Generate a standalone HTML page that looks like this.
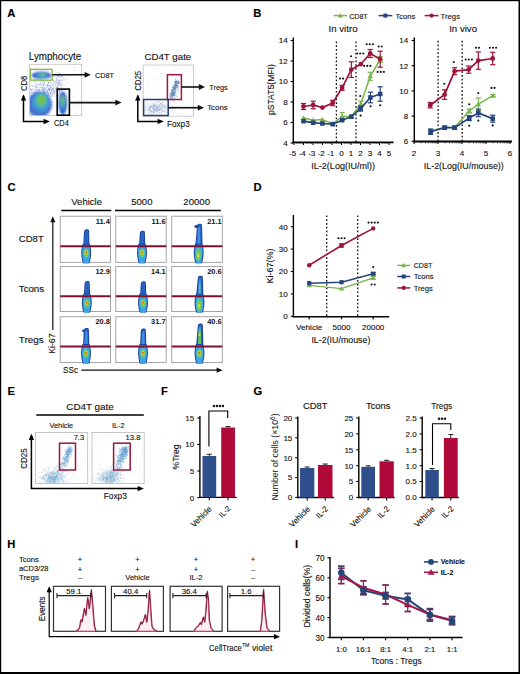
<!DOCTYPE html><html><head><meta charset="utf-8"><style>html,body{margin:0;padding:0;background:#fff;}body{width:520px;height:674px;overflow:hidden;font-family:"Liberation Sans",sans-serif;}svg{display:block;}</style></head><body><svg width="520" height="674" viewBox="0 0 520 674" font-family="Liberation Sans, sans-serif"><defs><filter id="blur1" x="-20%" y="-20%" width="140%" height="140%"><feGaussianBlur stdDeviation="0.35"/></filter><filter id="blur2" x="-30%" y="-30%" width="160%" height="160%"><feGaussianBlur stdDeviation="1.1"/></filter><filter id="blur4" x="-20%" y="-20%" width="140%" height="140%"><feGaussianBlur stdDeviation="0.5"/></filter><filter id="blur3" x="-50%" y="-20%" width="200%" height="140%"><feGaussianBlur stdDeviation="0.5"/></filter></defs><rect x="0.00" y="0.00" width="520.00" height="674.00" fill="#fff" stroke="none" stroke-width="1"/>
<text x="11.35" y="16.60" font-size="11.2" text-anchor="middle" font-weight="bold" fill="#000" stroke="#000" stroke-width="0.15">A</text>
<text x="257.40" y="16.60" font-size="11.2" text-anchor="middle" font-weight="bold" fill="#000" stroke="#000" stroke-width="0.15">B</text>
<text x="11.55" y="190.50" font-size="11.2" text-anchor="middle" font-weight="bold" fill="#000" stroke="#000" stroke-width="0.15">C</text>
<text x="257.50" y="190.50" font-size="11.2" text-anchor="middle" font-weight="bold" fill="#000" stroke="#000" stroke-width="0.15">D</text>
<text x="11.35" y="395.10" font-size="11.2" text-anchor="middle" font-weight="bold" fill="#000" stroke="#000" stroke-width="0.15">E</text>
<text x="164.45" y="395.10" font-size="11.2" text-anchor="middle" font-weight="bold" fill="#000" stroke="#000" stroke-width="0.15">F</text>
<text x="257.85" y="395.20" font-size="11.2" text-anchor="middle" font-weight="bold" fill="#000" stroke="#000" stroke-width="0.15">G</text>
<text x="11.35" y="547.80" font-size="11.2" text-anchor="middle" font-weight="bold" fill="#000" stroke="#000" stroke-width="0.15">H</text>
<text x="296.45" y="547.60" font-size="11.2" text-anchor="middle" font-weight="bold" fill="#000" stroke="#000" stroke-width="0.15">I</text>
<rect x="29.60" y="64.30" width="52.00" height="51.20" fill="#fff" stroke="#c0c0c0" stroke-width="0.8"/>
<clipPath id="cpA1"><rect x="29.9" y="64.6" width="51.4" height="50.6"/></clipPath>
<g clip-path="url(#cpA1)">
<g filter="url(#blur1)">
<path d="M41.7,94.1h0.9v0.9h-0.9zM53.3,92.0h0.9v0.9h-0.9zM46.7,89.6h0.9v0.9h-0.9zM40.9,89.1h0.9v0.9h-0.9zM43.0,83.5h0.9v0.9h-0.9zM49.5,85.1h0.9v0.9h-0.9zM57.0,94.6h0.9v0.9h-0.9zM58.3,95.0h0.9v0.9h-0.9zM46.9,95.2h0.9v0.9h-0.9zM31.6,88.9h0.9v0.9h-0.9zM36.9,95.1h0.9v0.9h-0.9zM49.2,90.0h0.9v0.9h-0.9zM33.9,92.0h0.9v0.9h-0.9zM39.0,89.2h0.9v0.9h-0.9zM42.7,91.5h0.9v0.9h-0.9zM45.2,95.6h0.9v0.9h-0.9zM57.3,82.5h0.9v0.9h-0.9zM47.6,93.3h0.9v0.9h-0.9zM56.8,87.9h0.9v0.9h-0.9zM38.7,91.9h0.9v0.9h-0.9zM52.3,85.5h0.9v0.9h-0.9zM50.5,87.8h0.9v0.9h-0.9zM56.0,95.3h0.9v0.9h-0.9zM35.8,89.3h0.9v0.9h-0.9zM36.3,83.3h0.9v0.9h-0.9zM46.9,84.4h0.9v0.9h-0.9zM33.3,79.2h0.9v0.9h-0.9zM48.1,93.0h0.9v0.9h-0.9zM43.0,91.3h0.9v0.9h-0.9zM48.0,82.3h0.9v0.9h-0.9zM48.5,91.4h0.9v0.9h-0.9zM42.7,95.8h0.9v0.9h-0.9zM51.0,90.2h0.9v0.9h-0.9zM34.5,85.0h0.9v0.9h-0.9zM53.8,82.9h0.9v0.9h-0.9zM34.5,81.4h0.9v0.9h-0.9zM43.4,83.9h0.9v0.9h-0.9zM30.5,91.6h0.9v0.9h-0.9zM42.7,89.5h0.9v0.9h-0.9zM34.0,89.1h0.9v0.9h-0.9zM37.2,92.0h0.9v0.9h-0.9zM42.0,90.2h0.9v0.9h-0.9zM59.0,90.1h0.9v0.9h-0.9zM37.8,95.7h0.9v0.9h-0.9zM56.3,80.3h0.9v0.9h-0.9zM43.4,92.5h0.9v0.9h-0.9zM39.8,84.4h0.9v0.9h-0.9zM39.3,91.4h0.9v0.9h-0.9zM34.6,95.0h0.9v0.9h-0.9zM31.3,89.8h0.9v0.9h-0.9zM60.8,85.6h0.9v0.9h-0.9zM43.9,89.9h0.9v0.9h-0.9zM57.4,85.4h0.9v0.9h-0.9zM39.3,84.6h0.9v0.9h-0.9zM32.2,88.4h0.9v0.9h-0.9zM51.6,83.9h0.9v0.9h-0.9zM30.5,90.1h0.9v0.9h-0.9zM37.9,89.8h0.9v0.9h-0.9zM45.8,92.0h0.9v0.9h-0.9zM43.9,88.0h0.9v0.9h-0.9zM48.4,88.9h0.9v0.9h-0.9zM45.8,88.8h0.9v0.9h-0.9zM40.2,95.4h0.9v0.9h-0.9zM55.0,84.3h0.9v0.9h-0.9zM49.1,87.8h0.9v0.9h-0.9zM55.2,92.1h0.9v0.9h-0.9zM34.2,81.8h0.9v0.9h-0.9zM43.6,84.7h0.9v0.9h-0.9zM63.7,76.6h0.9v0.9h-0.9zM58.9,90.3h0.9v0.9h-0.9zM57.3,79.4h0.9v0.9h-0.9zM57.5,84.4h0.9v0.9h-0.9zM62.1,76.1h0.9v0.9h-0.9zM59.9,83.0h0.9v0.9h-0.9zM57.0,85.9h0.9v0.9h-0.9z" fill="#4a62c0" opacity="0.45"/>
<path d="M42.0,87.5h0.9v0.9h-0.9zM47.6,91.5h0.9v0.9h-0.9zM48.7,84.9h0.9v0.9h-0.9zM49.7,92.0h0.9v0.9h-0.9zM48.5,89.5h0.9v0.9h-0.9zM39.9,79.9h0.9v0.9h-0.9zM47.2,84.1h0.9v0.9h-0.9zM48.7,94.4h0.9v0.9h-0.9zM38.0,86.7h0.9v0.9h-0.9zM42.7,87.6h0.9v0.9h-0.9zM47.1,91.1h0.9v0.9h-0.9zM50.9,94.5h0.9v0.9h-0.9zM47.6,91.9h0.9v0.9h-0.9zM42.0,89.5h0.9v0.9h-0.9zM51.2,91.1h0.9v0.9h-0.9zM46.0,95.1h0.9v0.9h-0.9zM44.0,80.9h0.9v0.9h-0.9zM57.5,81.8h0.9v0.9h-0.9zM46.9,85.1h0.9v0.9h-0.9zM60.1,90.4h0.9v0.9h-0.9zM35.9,83.8h0.9v0.9h-0.9zM46.6,86.3h0.9v0.9h-0.9zM41.3,86.2h0.9v0.9h-0.9zM43.7,88.4h0.9v0.9h-0.9zM49.6,93.8h0.9v0.9h-0.9zM31.4,84.7h0.9v0.9h-0.9zM36.2,92.1h0.9v0.9h-0.9zM49.7,91.7h0.9v0.9h-0.9zM44.0,91.4h0.9v0.9h-0.9zM35.6,95.9h0.9v0.9h-0.9zM57.4,95.7h0.9v0.9h-0.9zM55.2,88.3h0.9v0.9h-0.9zM51.7,94.3h0.9v0.9h-0.9zM37.9,94.5h0.9v0.9h-0.9zM44.3,92.0h0.9v0.9h-0.9zM43.3,90.0h0.9v0.9h-0.9zM50.3,92.8h0.9v0.9h-0.9zM41.7,87.5h0.9v0.9h-0.9zM50.6,92.4h0.9v0.9h-0.9zM39.6,90.8h0.9v0.9h-0.9zM48.6,88.8h0.9v0.9h-0.9zM54.5,90.2h0.9v0.9h-0.9zM46.4,86.6h0.9v0.9h-0.9zM56.0,89.9h0.9v0.9h-0.9zM54.6,86.3h0.9v0.9h-0.9zM48.2,88.1h0.9v0.9h-0.9zM35.6,87.2h0.9v0.9h-0.9zM45.4,93.3h0.9v0.9h-0.9zM38.2,95.1h0.9v0.9h-0.9zM48.1,85.8h0.9v0.9h-0.9zM45.3,88.8h0.9v0.9h-0.9zM50.7,89.0h0.9v0.9h-0.9zM34.8,79.1h0.9v0.9h-0.9zM48.8,94.4h0.9v0.9h-0.9zM39.1,93.7h0.9v0.9h-0.9zM44.6,96.0h0.9v0.9h-0.9zM37.9,93.0h0.9v0.9h-0.9zM51.6,88.7h0.9v0.9h-0.9zM52.4,93.0h0.9v0.9h-0.9zM39.5,83.3h0.9v0.9h-0.9zM50.0,88.8h0.9v0.9h-0.9zM44.3,87.7h0.9v0.9h-0.9zM56.0,87.1h0.9v0.9h-0.9zM45.9,89.4h0.9v0.9h-0.9zM37.7,85.6h0.9v0.9h-0.9zM43.6,93.3h0.9v0.9h-0.9zM41.7,86.5h0.9v0.9h-0.9zM61.6,83.6h0.9v0.9h-0.9zM59.6,91.8h0.9v0.9h-0.9zM60.4,74.4h0.9v0.9h-0.9zM60.2,77.2h0.9v0.9h-0.9zM58.6,74.8h0.9v0.9h-0.9zM60.7,85.6h0.9v0.9h-0.9zM59.3,79.9h0.9v0.9h-0.9zM55.9,78.2h0.9v0.9h-0.9z" fill="#4a62c0" opacity="0.45"/>
<path d="M35.6,88.3h0.9v0.9h-0.9zM48.6,94.0h0.9v0.9h-0.9zM46.8,93.2h0.9v0.9h-0.9zM40.0,82.3h0.9v0.9h-0.9zM57.0,92.9h0.9v0.9h-0.9zM35.3,85.8h0.9v0.9h-0.9zM53.9,91.3h0.9v0.9h-0.9zM52.6,94.2h0.9v0.9h-0.9zM53.4,90.2h0.9v0.9h-0.9zM56.6,81.8h0.9v0.9h-0.9zM45.4,94.6h0.9v0.9h-0.9zM40.2,87.0h0.9v0.9h-0.9zM40.1,95.2h0.9v0.9h-0.9zM53.1,80.7h0.9v0.9h-0.9zM53.4,87.6h0.9v0.9h-0.9zM49.5,82.3h0.9v0.9h-0.9zM52.9,88.6h0.9v0.9h-0.9zM57.1,88.6h0.9v0.9h-0.9zM32.9,89.9h0.9v0.9h-0.9zM42.2,79.9h0.9v0.9h-0.9zM30.2,89.1h0.9v0.9h-0.9zM51.0,96.0h0.9v0.9h-0.9zM35.7,95.5h0.9v0.9h-0.9zM34.9,87.1h0.9v0.9h-0.9zM59.2,93.4h0.9v0.9h-0.9zM46.6,91.5h0.9v0.9h-0.9zM43.5,94.2h0.9v0.9h-0.9zM44.4,83.4h0.9v0.9h-0.9zM42.8,79.9h0.9v0.9h-0.9zM40.6,79.0h0.9v0.9h-0.9zM43.8,94.8h0.9v0.9h-0.9zM52.8,90.1h0.9v0.9h-0.9zM45.9,90.4h0.9v0.9h-0.9zM49.1,89.6h0.9v0.9h-0.9zM49.7,95.6h0.9v0.9h-0.9zM32.9,89.8h0.9v0.9h-0.9zM43.2,84.6h0.9v0.9h-0.9zM48.1,94.9h0.9v0.9h-0.9zM37.5,79.2h0.9v0.9h-0.9zM48.7,86.7h0.9v0.9h-0.9zM48.6,81.4h0.9v0.9h-0.9zM36.7,92.1h0.9v0.9h-0.9zM56.7,84.4h0.9v0.9h-0.9zM43.6,92.5h0.9v0.9h-0.9zM43.5,87.5h0.9v0.9h-0.9zM35.9,91.3h0.9v0.9h-0.9zM46.7,94.1h0.9v0.9h-0.9zM41.9,92.9h0.9v0.9h-0.9zM50.7,92.5h0.9v0.9h-0.9zM43.1,96.0h0.9v0.9h-0.9zM57.9,92.5h0.9v0.9h-0.9zM48.0,92.9h0.9v0.9h-0.9zM33.0,92.7h0.9v0.9h-0.9zM34.9,80.6h0.9v0.9h-0.9zM42.9,89.3h0.9v0.9h-0.9zM57.6,86.9h0.9v0.9h-0.9zM44.3,92.1h0.9v0.9h-0.9zM46.8,84.8h0.9v0.9h-0.9zM59.0,80.1h0.9v0.9h-0.9zM38.3,95.1h0.9v0.9h-0.9zM48.2,82.3h0.9v0.9h-0.9zM47.2,90.6h0.9v0.9h-0.9zM41.1,95.9h0.9v0.9h-0.9zM38.8,94.0h0.9v0.9h-0.9zM44.7,86.8h0.9v0.9h-0.9zM52.7,95.4h0.9v0.9h-0.9zM48.1,84.4h0.9v0.9h-0.9zM63.1,78.5h0.9v0.9h-0.9zM53.9,74.0h0.9v0.9h-0.9zM58.6,75.8h0.9v0.9h-0.9zM55.6,87.6h0.9v0.9h-0.9zM60.8,76.1h0.9v0.9h-0.9zM58.2,75.7h0.9v0.9h-0.9zM58.5,83.0h0.9v0.9h-0.9zM59.3,91.1h0.9v0.9h-0.9z" fill="#4a62c0" opacity="0.45"/>
<path d="M54.0,93.4h0.9v0.9h-0.9zM36.0,86.3h0.9v0.9h-0.9zM38.4,84.1h0.9v0.9h-0.9zM36.7,92.0h0.9v0.9h-0.9zM45.1,79.6h0.9v0.9h-0.9zM30.9,91.9h0.9v0.9h-0.9zM46.2,93.5h0.9v0.9h-0.9zM49.0,88.8h0.9v0.9h-0.9zM57.2,86.4h0.9v0.9h-0.9zM55.3,79.9h0.9v0.9h-0.9zM42.4,92.2h0.9v0.9h-0.9zM41.0,93.1h0.9v0.9h-0.9zM46.5,85.8h0.9v0.9h-0.9zM40.9,95.0h0.9v0.9h-0.9zM52.2,87.9h0.9v0.9h-0.9zM55.4,96.0h0.9v0.9h-0.9zM43.1,85.2h0.9v0.9h-0.9zM45.0,91.0h0.9v0.9h-0.9zM42.3,89.8h0.9v0.9h-0.9zM45.5,80.6h0.9v0.9h-0.9zM33.4,92.9h0.9v0.9h-0.9zM50.0,92.6h0.9v0.9h-0.9zM61.0,89.0h0.9v0.9h-0.9zM52.0,90.8h0.9v0.9h-0.9zM43.4,94.2h0.9v0.9h-0.9zM40.4,82.2h0.9v0.9h-0.9zM37.5,89.0h0.9v0.9h-0.9zM38.4,90.0h0.9v0.9h-0.9zM47.9,88.5h0.9v0.9h-0.9zM37.1,94.2h0.9v0.9h-0.9zM53.2,81.3h0.9v0.9h-0.9zM33.5,91.5h0.9v0.9h-0.9zM41.8,95.5h0.9v0.9h-0.9zM60.5,94.1h0.9v0.9h-0.9zM32.2,86.0h0.9v0.9h-0.9zM42.2,87.5h0.9v0.9h-0.9zM35.2,90.3h0.9v0.9h-0.9zM43.7,83.2h0.9v0.9h-0.9zM40.6,84.1h0.9v0.9h-0.9zM53.9,91.0h0.9v0.9h-0.9zM54.6,81.9h0.9v0.9h-0.9zM49.2,95.7h0.9v0.9h-0.9zM50.1,86.2h0.9v0.9h-0.9zM38.2,89.6h0.9v0.9h-0.9zM42.9,81.3h0.9v0.9h-0.9zM50.9,89.1h0.9v0.9h-0.9zM37.7,90.1h0.9v0.9h-0.9zM44.0,81.7h0.9v0.9h-0.9zM48.6,89.2h0.9v0.9h-0.9zM36.1,95.1h0.9v0.9h-0.9zM52.1,84.5h0.9v0.9h-0.9zM30.5,88.3h0.9v0.9h-0.9zM59.2,93.4h0.9v0.9h-0.9zM46.6,92.0h0.9v0.9h-0.9zM56.5,87.1h0.9v0.9h-0.9zM43.3,91.6h0.9v0.9h-0.9zM41.5,85.2h0.9v0.9h-0.9zM38.2,90.1h0.9v0.9h-0.9zM51.3,87.0h0.9v0.9h-0.9zM44.3,90.5h0.9v0.9h-0.9zM53.7,92.8h0.9v0.9h-0.9zM50.1,87.0h0.9v0.9h-0.9zM59.1,90.3h0.9v0.9h-0.9zM34.5,94.0h0.9v0.9h-0.9zM44.1,92.9h0.9v0.9h-0.9zM41.6,81.6h0.9v0.9h-0.9zM36.1,86.8h0.9v0.9h-0.9zM50.6,82.1h0.9v0.9h-0.9zM52.5,88.8h0.9v0.9h-0.9zM61.9,90.6h0.9v0.9h-0.9zM59.3,83.9h0.9v0.9h-0.9zM57.9,85.0h0.9v0.9h-0.9zM57.2,87.9h0.9v0.9h-0.9zM57.2,75.3h0.9v0.9h-0.9zM56.5,79.1h0.9v0.9h-0.9z" fill="#4a62c0" opacity="0.45"/>
<path d="M61.6,80.3h0.9v0.9h-0.9zM56.0,90.0h0.9v0.9h-0.9zM58.4,83.0h0.9v0.9h-0.9zM60.6,77.7h0.9v0.9h-0.9zM50.6,74.5h0.9v0.9h-0.9zM56.7,84.4h0.9v0.9h-0.9zM61.3,75.7h0.9v0.9h-0.9zM59.6,89.9h0.9v0.9h-0.9zM56.7,83.0h0.9v0.9h-0.9zM60.0,80.8h0.9v0.9h-0.9zM52.8,75.6h0.9v0.9h-0.9zM59.8,72.8h0.9v0.9h-0.9zM57.9,79.6h0.9v0.9h-0.9zM52.5,91.6h0.9v0.9h-0.9zM51.3,79.0h0.9v0.9h-0.9zM56.5,90.4h0.9v0.9h-0.9zM58.4,90.7h0.9v0.9h-0.9zM60.4,79.2h0.9v0.9h-0.9zM63.8,79.9h0.9v0.9h-0.9zM61.9,75.5h0.9v0.9h-0.9zM51.4,85.3h0.9v0.9h-0.9zM55.9,89.9h0.9v0.9h-0.9zM58.0,79.1h0.9v0.9h-0.9zM36.7,111.9h0.9v0.9h-0.9zM50.1,78.9h0.9v0.9h-0.9zM76.9,101.9h0.9v0.9h-0.9zM32.9,104.2h0.9v0.9h-0.9zM55.3,97.4h0.9v0.9h-0.9zM69.1,101.1h0.9v0.9h-0.9zM41.3,71.2h0.9v0.9h-0.9zM65.6,79.0h0.9v0.9h-0.9zM78.3,76.6h0.9v0.9h-0.9zM67.3,82.0h0.9v0.9h-0.9zM63.3,114.0h0.9v0.9h-0.9zM58.5,81.1h0.9v0.9h-0.9zM35.3,111.5h0.9v0.9h-0.9zM64.9,102.1h0.9v0.9h-0.9zM33.3,108.5h0.9v0.9h-0.9zM72.4,105.8h0.9v0.9h-0.9zM67.9,76.0h0.9v0.9h-0.9zM48.4,81.7h0.9v0.9h-0.9zM51.8,103.9h0.9v0.9h-0.9zM71.0,74.3h0.9v0.9h-0.9zM54.6,105.0h0.9v0.9h-0.9zM44.2,76.5h0.9v0.9h-0.9zM64.9,104.6h0.9v0.9h-0.9zM74.4,67.2h0.9v0.9h-0.9zM41.7,88.6h0.9v0.9h-0.9zM37.8,107.3h0.9v0.9h-0.9zM36.3,88.6h0.9v0.9h-0.9zM37.7,73.6h0.9v0.9h-0.9zM78.8,101.7h0.9v0.9h-0.9zM66.7,87.3h0.9v0.9h-0.9z" fill="#7a86cc" opacity="0.35"/>
<path d="M64.7,79.3h0.9v0.9h-0.9zM53.1,80.1h0.9v0.9h-0.9zM53.8,73.8h0.9v0.9h-0.9zM51.2,74.2h0.9v0.9h-0.9zM65.7,81.7h0.9v0.9h-0.9zM58.8,87.7h0.9v0.9h-0.9zM58.6,82.4h0.9v0.9h-0.9zM61.7,87.1h0.9v0.9h-0.9zM56.2,80.4h0.9v0.9h-0.9zM62.1,81.8h0.9v0.9h-0.9zM56.6,74.6h0.9v0.9h-0.9zM57.2,86.7h0.9v0.9h-0.9zM59.5,89.1h0.9v0.9h-0.9zM50.5,90.3h0.9v0.9h-0.9zM58.1,89.9h0.9v0.9h-0.9zM58.6,82.1h0.9v0.9h-0.9zM55.3,75.4h0.9v0.9h-0.9zM60.7,83.6h0.9v0.9h-0.9zM58.7,91.8h0.9v0.9h-0.9zM58.0,88.4h0.9v0.9h-0.9zM57.9,72.7h0.9v0.9h-0.9zM59.5,85.1h0.9v0.9h-0.9zM41.2,94.6h0.9v0.9h-0.9zM42.2,73.3h0.9v0.9h-0.9zM30.6,97.6h0.9v0.9h-0.9zM42.4,110.3h0.9v0.9h-0.9zM30.6,93.0h0.9v0.9h-0.9zM70.7,74.6h0.9v0.9h-0.9zM30.3,107.4h0.9v0.9h-0.9zM41.6,67.9h0.9v0.9h-0.9zM57.7,87.4h0.9v0.9h-0.9zM74.0,66.7h0.9v0.9h-0.9zM74.0,82.1h0.9v0.9h-0.9zM53.5,107.1h0.9v0.9h-0.9zM40.6,96.5h0.9v0.9h-0.9zM47.2,73.0h0.9v0.9h-0.9zM33.3,94.9h0.9v0.9h-0.9zM75.7,112.3h0.9v0.9h-0.9zM61.7,106.4h0.9v0.9h-0.9zM46.0,86.8h0.9v0.9h-0.9zM78.2,90.7h0.9v0.9h-0.9zM47.3,100.5h0.9v0.9h-0.9zM30.1,75.9h0.9v0.9h-0.9zM39.2,90.2h0.9v0.9h-0.9zM65.0,90.4h0.9v0.9h-0.9zM61.4,83.4h0.9v0.9h-0.9zM40.3,78.9h0.9v0.9h-0.9zM56.6,103.0h0.9v0.9h-0.9zM63.1,102.4h0.9v0.9h-0.9zM74.3,77.7h0.9v0.9h-0.9zM42.4,82.0h0.9v0.9h-0.9zM35.1,113.2h0.9v0.9h-0.9z" fill="#7a86cc" opacity="0.35"/>
<path d="M50.4,75.9h0.9v0.9h-0.9zM60.6,89.7h0.9v0.9h-0.9zM52.9,84.4h0.9v0.9h-0.9zM57.1,81.8h0.9v0.9h-0.9zM55.1,73.1h0.9v0.9h-0.9zM56.4,76.4h0.9v0.9h-0.9zM61.0,79.7h0.9v0.9h-0.9zM59.0,72.8h0.9v0.9h-0.9zM56.2,83.7h0.9v0.9h-0.9zM58.6,76.7h0.9v0.9h-0.9zM58.2,80.6h0.9v0.9h-0.9zM57.1,87.6h0.9v0.9h-0.9zM57.5,91.9h0.9v0.9h-0.9zM58.4,75.3h0.9v0.9h-0.9zM56.2,77.5h0.9v0.9h-0.9zM60.3,78.4h0.9v0.9h-0.9zM52.2,87.7h0.9v0.9h-0.9zM55.3,89.7h0.9v0.9h-0.9zM55.8,83.5h0.9v0.9h-0.9zM57.1,77.1h0.9v0.9h-0.9zM58.2,75.0h0.9v0.9h-0.9zM59.6,72.4h0.9v0.9h-0.9zM59.5,76.0h0.9v0.9h-0.9zM34.8,97.3h0.9v0.9h-0.9zM58.1,83.2h0.9v0.9h-0.9zM32.2,92.0h0.9v0.9h-0.9zM77.0,73.0h0.9v0.9h-0.9zM45.5,80.7h0.9v0.9h-0.9zM67.3,88.8h0.9v0.9h-0.9zM46.8,102.7h0.9v0.9h-0.9zM69.4,91.6h0.9v0.9h-0.9zM43.0,77.6h0.9v0.9h-0.9zM42.0,110.5h0.9v0.9h-0.9zM64.9,108.0h0.9v0.9h-0.9zM33.9,110.6h0.9v0.9h-0.9zM31.4,68.0h0.9v0.9h-0.9zM48.2,106.1h0.9v0.9h-0.9zM35.4,76.1h0.9v0.9h-0.9zM61.6,80.1h0.9v0.9h-0.9zM31.0,78.6h0.9v0.9h-0.9zM72.6,96.3h0.9v0.9h-0.9zM56.9,76.6h0.9v0.9h-0.9zM68.1,113.9h0.9v0.9h-0.9zM47.4,106.8h0.9v0.9h-0.9zM35.5,97.2h0.9v0.9h-0.9zM50.1,85.3h0.9v0.9h-0.9zM75.1,90.6h0.9v0.9h-0.9zM67.6,97.7h0.9v0.9h-0.9zM38.5,87.5h0.9v0.9h-0.9zM39.6,80.8h0.9v0.9h-0.9zM56.1,73.9h0.9v0.9h-0.9zM35.1,84.8h0.9v0.9h-0.9z" fill="#7a86cc" opacity="0.35"/>
<path d="M57.7,72.1h0.9v0.9h-0.9zM56.3,72.3h0.9v0.9h-0.9zM55.6,74.9h0.9v0.9h-0.9zM60.6,75.9h0.9v0.9h-0.9zM60.7,90.1h0.9v0.9h-0.9zM53.2,88.6h0.9v0.9h-0.9zM59.6,86.5h0.9v0.9h-0.9zM58.8,84.0h0.9v0.9h-0.9zM54.1,80.9h0.9v0.9h-0.9zM58.4,81.2h0.9v0.9h-0.9zM60.7,82.2h0.9v0.9h-0.9zM57.0,82.1h0.9v0.9h-0.9zM57.4,75.9h0.9v0.9h-0.9zM59.7,73.3h0.9v0.9h-0.9zM58.7,82.0h0.9v0.9h-0.9zM59.9,75.2h0.9v0.9h-0.9zM60.8,84.7h0.9v0.9h-0.9zM65.5,84.6h0.9v0.9h-0.9zM54.7,80.8h0.9v0.9h-0.9zM52.5,83.7h0.9v0.9h-0.9zM55.6,82.3h0.9v0.9h-0.9zM60.8,74.1h0.9v0.9h-0.9zM61.2,89.3h0.9v0.9h-0.9zM73.6,104.3h0.9v0.9h-0.9zM62.3,87.7h0.9v0.9h-0.9zM50.3,77.6h0.9v0.9h-0.9zM40.0,95.8h0.9v0.9h-0.9zM32.4,109.6h0.9v0.9h-0.9zM67.1,88.2h0.9v0.9h-0.9zM64.8,107.4h0.9v0.9h-0.9zM43.3,97.5h0.9v0.9h-0.9zM67.2,112.3h0.9v0.9h-0.9zM61.5,99.9h0.9v0.9h-0.9zM51.9,101.5h0.9v0.9h-0.9zM37.2,67.3h0.9v0.9h-0.9zM64.6,97.1h0.9v0.9h-0.9zM71.0,109.7h0.9v0.9h-0.9zM35.6,67.7h0.9v0.9h-0.9zM35.0,70.8h0.9v0.9h-0.9zM44.1,101.1h0.9v0.9h-0.9zM31.5,86.2h0.9v0.9h-0.9zM73.1,70.5h0.9v0.9h-0.9zM30.2,90.1h0.9v0.9h-0.9zM43.0,112.2h0.9v0.9h-0.9zM34.0,104.6h0.9v0.9h-0.9zM74.5,70.2h0.9v0.9h-0.9zM49.0,109.3h0.9v0.9h-0.9zM47.4,82.0h0.9v0.9h-0.9zM68.7,94.4h0.9v0.9h-0.9zM65.2,107.3h0.9v0.9h-0.9zM46.4,75.3h0.9v0.9h-0.9zM79.2,104.9h0.9v0.9h-0.9z" fill="#7a86cc" opacity="0.35"/>
</g>
<g filter="url(#blur2)">
<ellipse cx="39.5" cy="104.5" rx="12.5" ry="13" fill="#3566c8" opacity="0.9"/>
<ellipse cx="41" cy="102" rx="8.8" ry="9.2" fill="#3f98dc"/>
<ellipse cx="41.3" cy="100.5" rx="6" ry="6.8" fill="#50bca0"/>
<ellipse cx="41.5" cy="99.8" rx="3.8" ry="4.6" fill="#76c246"/>
<ellipse cx="41.5" cy="75.4" rx="9.8" ry="3.6" fill="#2e5cc4"/>
<ellipse cx="42" cy="75.4" rx="6.5" ry="2.4" fill="#46a4d8"/>
<ellipse cx="42.5" cy="75.4" rx="3" ry="1.3" fill="#6cc070"/>
<ellipse cx="62.8" cy="103" rx="4.3" ry="11.5" fill="#2e5cc4"/>
<ellipse cx="62.8" cy="102" rx="2.9" ry="8" fill="#3f98dc"/>
<ellipse cx="62.8" cy="100.5" rx="1.6" ry="4.2" fill="#72c24c"/>
</g></g>
<rect x="30.50" y="69.40" width="21.70" height="10.80" fill="none" stroke="#86b84a" stroke-width="1.3"/>
<rect x="57.20" y="89.10" width="12.20" height="26.10" fill="none" stroke="#000" stroke-width="1.6"/>
<line x1="52.20" y1="74.80" x2="85.60" y2="74.80" stroke="#111" stroke-width="1.6"/>
<path d="M90.80,74.80 L84.60,71.90 L84.60,77.70Z" fill="#111" stroke="none" stroke-width="1"/>
<line x1="69.40" y1="102.60" x2="116.40" y2="102.60" stroke="#111" stroke-width="1.6"/>
<path d="M121.60,102.60 L115.40,99.70 L115.40,105.50Z" fill="#111" stroke="none" stroke-width="1"/>
<text x="28.80" y="60.40" font-size="10" text-anchor="start" textLength="52.40" lengthAdjust="spacingAndGlyphs" fill="#111" stroke="#111" stroke-width="0.12">Lymphocyte</text>
<text x="95.00" y="77.60" font-size="7.4" text-anchor="start" textLength="18.90" lengthAdjust="spacingAndGlyphs" fill="#111" stroke="#111" stroke-width="0.12">CD8T</text>
<path d="M23.5,95.5 L23.5,121.5 L44,121.5" fill="none" stroke="#000" stroke-width="1.5"/>
<path d="M23.5,94.4 L20.8,100.6 L26.2,100.6Z" fill="#000" stroke="none" stroke-width="1"/>
<path d="M49.8,121.5 L43.6,118.8 L43.6,124.2Z" fill="#000" stroke="none" stroke-width="1"/>
<text x="27.00" y="83.30" font-size="9.6" text-anchor="middle" textLength="15.30" lengthAdjust="spacingAndGlyphs" transform="rotate(-90 27.00 83.30)" fill="#111" stroke="#111" stroke-width="0.12">CD8</text>
<text x="53.90" y="126.00" font-size="9.6" text-anchor="start" textLength="14.90" lengthAdjust="spacingAndGlyphs" fill="#111" stroke="#111" stroke-width="0.12">CD4</text>
<rect x="143.20" y="65.00" width="50.30" height="51.20" fill="#fff" stroke="#c0c0c0" stroke-width="0.8"/>
<clipPath id="cpA2"><rect x="143.5" y="65.3" width="49.7" height="50.6"/></clipPath>
<g clip-path="url(#cpA2)">
<g filter="url(#blur4)">
<path d="M171.8,93.7h1.0v1.0h-1.0zM170.9,94.4h1.0v1.0h-1.0zM174.6,82.1h1.0v1.0h-1.0zM174.6,87.8h1.0v1.0h-1.0zM174.2,89.0h1.0v1.0h-1.0zM172.3,87.1h1.0v1.0h-1.0zM174.1,91.7h1.0v1.0h-1.0zM175.3,81.2h1.0v1.0h-1.0zM173.6,93.4h1.0v1.0h-1.0zM175.7,83.9h1.0v1.0h-1.0zM172.2,88.9h1.0v1.0h-1.0zM174.8,86.6h1.0v1.0h-1.0zM176.3,81.3h1.0v1.0h-1.0zM174.0,87.2h1.0v1.0h-1.0zM172.2,89.1h1.0v1.0h-1.0zM178.1,81.7h1.0v1.0h-1.0zM178.1,82.4h1.0v1.0h-1.0zM171.1,89.5h1.0v1.0h-1.0zM172.5,92.7h1.0v1.0h-1.0zM172.4,99.7h1.0v1.0h-1.0zM175.3,87.4h1.0v1.0h-1.0zM176.0,82.0h1.0v1.0h-1.0zM173.2,98.2h1.0v1.0h-1.0zM175.0,91.4h1.0v1.0h-1.0zM174.0,95.5h1.0v1.0h-1.0zM174.2,85.5h1.0v1.0h-1.0zM172.8,91.5h1.0v1.0h-1.0zM172.0,90.0h1.0v1.0h-1.0zM175.6,84.5h1.0v1.0h-1.0zM176.4,85.9h1.0v1.0h-1.0zM176.8,82.5h1.0v1.0h-1.0zM172.3,91.5h1.0v1.0h-1.0zM172.5,94.2h1.0v1.0h-1.0zM171.8,93.4h1.0v1.0h-1.0zM176.5,85.2h1.0v1.0h-1.0zM172.5,85.3h1.0v1.0h-1.0zM175.2,87.0h1.0v1.0h-1.0zM176.6,86.0h1.0v1.0h-1.0zM178.2,80.8h1.0v1.0h-1.0zM174.3,87.3h1.0v1.0h-1.0zM177.0,86.0h1.0v1.0h-1.0zM174.1,94.9h1.0v1.0h-1.0zM174.3,85.0h1.0v1.0h-1.0zM173.5,91.7h1.0v1.0h-1.0zM177.9,91.0h1.0v1.0h-1.0zM175.2,84.1h1.0v1.0h-1.0zM172.4,92.7h1.0v1.0h-1.0zM174.8,83.2h1.0v1.0h-1.0zM176.8,89.3h1.0v1.0h-1.0zM169.8,97.3h1.0v1.0h-1.0zM173.9,94.5h1.0v1.0h-1.0zM172.7,92.9h1.0v1.0h-1.0zM175.8,82.2h1.0v1.0h-1.0zM170.0,94.2h1.0v1.0h-1.0zM174.9,84.8h1.0v1.0h-1.0z" fill="#3f70b0" opacity="0.5"/>
<path d="M172.0,94.1h1.0v1.0h-1.0zM176.4,84.1h1.0v1.0h-1.0zM173.9,84.9h1.0v1.0h-1.0zM172.7,88.9h1.0v1.0h-1.0zM175.4,89.8h1.0v1.0h-1.0zM171.2,90.0h1.0v1.0h-1.0zM174.8,90.7h1.0v1.0h-1.0zM174.8,84.2h1.0v1.0h-1.0zM175.7,84.7h1.0v1.0h-1.0zM171.8,93.5h1.0v1.0h-1.0zM175.5,90.3h1.0v1.0h-1.0zM175.8,80.4h1.0v1.0h-1.0zM174.2,81.0h1.0v1.0h-1.0zM175.0,82.0h1.0v1.0h-1.0zM178.4,82.7h1.0v1.0h-1.0zM176.5,86.8h1.0v1.0h-1.0zM173.2,88.6h1.0v1.0h-1.0zM173.4,91.5h1.0v1.0h-1.0zM172.8,86.0h1.0v1.0h-1.0zM173.2,85.4h1.0v1.0h-1.0zM173.7,89.1h1.0v1.0h-1.0zM172.1,94.2h1.0v1.0h-1.0zM175.6,87.0h1.0v1.0h-1.0zM172.5,94.0h1.0v1.0h-1.0zM172.4,92.6h1.0v1.0h-1.0zM176.1,84.3h1.0v1.0h-1.0zM175.4,82.7h1.0v1.0h-1.0zM171.7,91.6h1.0v1.0h-1.0zM177.0,86.8h1.0v1.0h-1.0zM173.8,92.6h1.0v1.0h-1.0zM174.1,91.2h1.0v1.0h-1.0zM170.9,92.4h1.0v1.0h-1.0zM169.9,92.4h1.0v1.0h-1.0zM172.9,88.6h1.0v1.0h-1.0zM172.8,91.5h1.0v1.0h-1.0zM176.8,81.7h1.0v1.0h-1.0zM176.7,81.0h1.0v1.0h-1.0zM172.6,90.9h1.0v1.0h-1.0zM171.9,95.0h1.0v1.0h-1.0zM176.2,85.1h1.0v1.0h-1.0zM175.3,94.7h1.0v1.0h-1.0zM173.4,87.0h1.0v1.0h-1.0zM175.8,83.7h1.0v1.0h-1.0zM179.2,81.5h1.0v1.0h-1.0zM177.1,82.1h1.0v1.0h-1.0zM172.0,96.3h1.0v1.0h-1.0zM172.8,94.3h1.0v1.0h-1.0zM171.4,95.3h1.0v1.0h-1.0zM174.5,88.7h1.0v1.0h-1.0zM175.5,89.8h1.0v1.0h-1.0zM172.2,88.9h1.0v1.0h-1.0zM171.4,95.2h1.0v1.0h-1.0zM170.3,95.4h1.0v1.0h-1.0zM173.5,92.4h1.0v1.0h-1.0zM169.5,93.0h1.0v1.0h-1.0z" fill="#3f70b0" opacity="0.5"/>
<path d="M173.9,89.0h1.0v1.0h-1.0zM174.3,86.5h1.0v1.0h-1.0zM172.5,91.8h1.0v1.0h-1.0zM175.6,85.6h1.0v1.0h-1.0zM175.7,81.3h1.0v1.0h-1.0zM171.8,92.9h1.0v1.0h-1.0zM173.1,89.3h1.0v1.0h-1.0zM172.3,93.3h1.0v1.0h-1.0zM173.3,90.8h1.0v1.0h-1.0zM171.0,96.6h1.0v1.0h-1.0zM172.9,94.4h1.0v1.0h-1.0zM172.4,96.4h1.0v1.0h-1.0zM176.7,84.8h1.0v1.0h-1.0zM173.5,94.5h1.0v1.0h-1.0zM171.9,88.8h1.0v1.0h-1.0zM176.0,85.3h1.0v1.0h-1.0zM171.5,91.4h1.0v1.0h-1.0zM173.7,90.1h1.0v1.0h-1.0zM170.9,94.6h1.0v1.0h-1.0zM174.7,80.9h1.0v1.0h-1.0zM174.4,94.8h1.0v1.0h-1.0zM171.2,92.7h1.0v1.0h-1.0zM169.9,98.2h1.0v1.0h-1.0zM170.9,96.9h1.0v1.0h-1.0zM171.8,94.9h1.0v1.0h-1.0zM175.3,85.2h1.0v1.0h-1.0zM171.9,90.6h1.0v1.0h-1.0zM176.7,79.9h1.0v1.0h-1.0zM173.9,88.2h1.0v1.0h-1.0zM171.4,89.2h1.0v1.0h-1.0zM176.0,85.2h1.0v1.0h-1.0zM174.0,90.3h1.0v1.0h-1.0zM174.5,82.1h1.0v1.0h-1.0zM176.4,96.0h1.0v1.0h-1.0zM174.1,96.8h1.0v1.0h-1.0zM173.5,93.3h1.0v1.0h-1.0zM173.9,87.5h1.0v1.0h-1.0zM177.4,80.8h1.0v1.0h-1.0zM175.1,86.3h1.0v1.0h-1.0zM173.7,94.0h1.0v1.0h-1.0zM174.9,92.8h1.0v1.0h-1.0zM173.8,83.6h1.0v1.0h-1.0zM171.7,96.9h1.0v1.0h-1.0zM175.2,87.2h1.0v1.0h-1.0zM178.1,82.7h1.0v1.0h-1.0zM169.5,95.3h1.0v1.0h-1.0zM173.4,87.1h1.0v1.0h-1.0zM177.4,85.8h1.0v1.0h-1.0zM172.8,93.4h1.0v1.0h-1.0zM176.4,82.7h1.0v1.0h-1.0zM177.6,88.6h1.0v1.0h-1.0zM169.9,96.4h1.0v1.0h-1.0zM173.7,93.5h1.0v1.0h-1.0zM171.0,91.8h1.0v1.0h-1.0zM177.7,82.6h1.0v1.0h-1.0z" fill="#3f70b0" opacity="0.5"/>
<path d="M172.9,88.0h1.0v1.0h-1.0zM172.0,91.3h1.0v1.0h-1.0zM173.9,88.6h1.0v1.0h-1.0zM175.0,85.2h1.0v1.0h-1.0zM172.2,87.2h1.0v1.0h-1.0zM178.1,86.6h1.0v1.0h-1.0zM173.0,94.7h1.0v1.0h-1.0zM172.9,86.9h1.0v1.0h-1.0zM172.5,94.5h1.0v1.0h-1.0zM172.0,94.5h1.0v1.0h-1.0zM177.1,85.6h1.0v1.0h-1.0zM174.9,84.7h1.0v1.0h-1.0zM176.4,84.7h1.0v1.0h-1.0zM170.8,96.6h1.0v1.0h-1.0zM174.7,83.9h1.0v1.0h-1.0zM175.0,80.5h1.0v1.0h-1.0zM175.7,85.4h1.0v1.0h-1.0zM175.1,79.1h1.0v1.0h-1.0zM175.2,88.4h1.0v1.0h-1.0zM174.0,85.3h1.0v1.0h-1.0zM175.4,80.9h1.0v1.0h-1.0zM177.9,81.9h1.0v1.0h-1.0zM177.8,81.2h1.0v1.0h-1.0zM178.7,82.0h1.0v1.0h-1.0zM175.7,82.3h1.0v1.0h-1.0zM174.9,85.9h1.0v1.0h-1.0zM176.3,87.4h1.0v1.0h-1.0zM176.2,93.6h1.0v1.0h-1.0zM174.5,83.4h1.0v1.0h-1.0zM178.5,82.8h1.0v1.0h-1.0zM169.4,95.4h1.0v1.0h-1.0zM175.6,83.4h1.0v1.0h-1.0zM174.7,88.0h1.0v1.0h-1.0zM174.7,92.0h1.0v1.0h-1.0zM172.9,88.8h1.0v1.0h-1.0zM172.6,94.6h1.0v1.0h-1.0zM176.3,82.4h1.0v1.0h-1.0zM171.4,97.9h1.0v1.0h-1.0zM172.1,92.4h1.0v1.0h-1.0zM172.2,95.2h1.0v1.0h-1.0zM176.9,83.1h1.0v1.0h-1.0zM172.1,95.4h1.0v1.0h-1.0zM173.8,92.9h1.0v1.0h-1.0zM172.7,93.3h1.0v1.0h-1.0zM173.0,92.4h1.0v1.0h-1.0zM171.7,93.5h1.0v1.0h-1.0zM170.7,92.8h1.0v1.0h-1.0zM174.5,89.9h1.0v1.0h-1.0zM170.8,95.8h1.0v1.0h-1.0zM173.4,86.5h1.0v1.0h-1.0zM172.7,94.1h1.0v1.0h-1.0zM173.8,88.0h1.0v1.0h-1.0zM169.7,94.0h1.0v1.0h-1.0zM171.5,90.1h1.0v1.0h-1.0zM177.3,83.4h1.0v1.0h-1.0z" fill="#3f70b0" opacity="0.5"/>
<path d="M156.0,110.9h1.0v1.0h-1.0zM159.3,107.7h1.0v1.0h-1.0zM157.2,106.9h1.0v1.0h-1.0zM149.7,107.1h1.0v1.0h-1.0zM162.9,106.5h1.0v1.0h-1.0zM154.3,110.6h1.0v1.0h-1.0zM148.1,105.5h1.0v1.0h-1.0zM154.3,109.7h1.0v1.0h-1.0zM158.9,105.7h1.0v1.0h-1.0zM160.5,105.0h1.0v1.0h-1.0zM165.5,106.2h1.0v1.0h-1.0zM159.1,104.0h1.0v1.0h-1.0zM158.7,106.6h1.0v1.0h-1.0zM158.6,101.1h1.0v1.0h-1.0zM150.1,110.1h1.0v1.0h-1.0zM158.1,110.0h1.0v1.0h-1.0zM162.3,102.4h1.0v1.0h-1.0zM149.5,106.0h1.0v1.0h-1.0zM150.9,110.9h1.0v1.0h-1.0zM149.7,109.9h1.0v1.0h-1.0zM161.5,107.4h1.0v1.0h-1.0zM153.1,107.4h1.0v1.0h-1.0zM148.9,107.2h1.0v1.0h-1.0zM147.0,110.5h1.0v1.0h-1.0zM154.0,105.7h1.0v1.0h-1.0zM158.5,108.8h1.0v1.0h-1.0zM147.8,103.7h1.0v1.0h-1.0zM158.3,109.7h1.0v1.0h-1.0zM148.2,109.1h1.0v1.0h-1.0zM158.1,105.0h1.0v1.0h-1.0zM145.4,108.1h1.0v1.0h-1.0zM153.3,106.9h1.0v1.0h-1.0zM153.3,109.4h1.0v1.0h-1.0zM161.2,111.7h1.0v1.0h-1.0zM157.2,105.7h1.0v1.0h-1.0zM153.0,108.0h1.0v1.0h-1.0zM152.8,106.1h1.0v1.0h-1.0zM149.4,110.6h1.0v1.0h-1.0zM152.2,111.8h1.0v1.0h-1.0zM154.4,109.6h1.0v1.0h-1.0zM164.8,103.2h1.0v1.0h-1.0zM148.5,110.0h1.0v1.0h-1.0zM165.9,112.2h1.0v1.0h-1.0zM154.1,110.5h1.0v1.0h-1.0zM155.0,105.1h1.0v1.0h-1.0zM155.6,108.4h1.0v1.0h-1.0zM159.3,114.4h1.0v1.0h-1.0zM155.5,108.9h1.0v1.0h-1.0zM151.4,105.0h1.0v1.0h-1.0zM156.1,106.5h1.0v1.0h-1.0zM151.6,106.8h1.0v1.0h-1.0zM153.6,102.9h1.0v1.0h-1.0zM152.2,113.8h1.0v1.0h-1.0zM160.3,111.6h1.0v1.0h-1.0zM153.4,109.2h1.0v1.0h-1.0zM153.0,110.7h1.0v1.0h-1.0zM164.2,110.1h1.0v1.0h-1.0zM155.3,107.4h1.0v1.0h-1.0zM156.1,109.2h1.0v1.0h-1.0zM163.8,101.5h1.0v1.0h-1.0zM158.4,105.0h1.0v1.0h-1.0zM148.3,105.7h1.0v1.0h-1.0zM153.9,106.9h1.0v1.0h-1.0zM155.9,107.3h1.0v1.0h-1.0zM149.8,107.2h1.0v1.0h-1.0zM154.2,110.8h1.0v1.0h-1.0zM166.8,101.0h1.0v1.0h-1.0zM153.7,111.5h1.0v1.0h-1.0zM159.8,107.9h1.0v1.0h-1.0zM149.6,109.5h1.0v1.0h-1.0zM165.1,111.6h1.0v1.0h-1.0zM157.1,111.6h1.0v1.0h-1.0zM144.9,109.9h1.0v1.0h-1.0zM165.1,111.1h1.0v1.0h-1.0zM156.3,106.4h1.0v1.0h-1.0zM154.3,104.2h1.0v1.0h-1.0z" fill="#7a98c8" opacity="0.35"/>
<path d="M152.2,105.2h1.0v1.0h-1.0zM166.2,106.5h1.0v1.0h-1.0zM153.0,105.5h1.0v1.0h-1.0zM160.7,106.7h1.0v1.0h-1.0zM155.2,111.1h1.0v1.0h-1.0zM154.9,109.8h1.0v1.0h-1.0zM158.9,112.3h1.0v1.0h-1.0zM157.3,111.3h1.0v1.0h-1.0zM149.5,106.2h1.0v1.0h-1.0zM161.5,108.7h1.0v1.0h-1.0zM159.1,109.9h1.0v1.0h-1.0zM155.3,102.2h1.0v1.0h-1.0zM156.4,107.3h1.0v1.0h-1.0zM151.4,105.5h1.0v1.0h-1.0zM152.0,109.4h1.0v1.0h-1.0zM160.8,110.8h1.0v1.0h-1.0zM159.9,106.9h1.0v1.0h-1.0zM165.1,104.9h1.0v1.0h-1.0zM147.3,113.8h1.0v1.0h-1.0zM145.0,104.5h1.0v1.0h-1.0zM145.2,106.4h1.0v1.0h-1.0zM163.2,104.5h1.0v1.0h-1.0zM157.4,109.4h1.0v1.0h-1.0zM152.8,112.1h1.0v1.0h-1.0zM148.4,107.6h1.0v1.0h-1.0zM156.2,106.0h1.0v1.0h-1.0zM156.9,107.7h1.0v1.0h-1.0zM166.5,111.6h1.0v1.0h-1.0zM156.0,108.5h1.0v1.0h-1.0zM156.3,110.7h1.0v1.0h-1.0zM156.2,109.5h1.0v1.0h-1.0zM150.2,106.8h1.0v1.0h-1.0zM157.8,109.9h1.0v1.0h-1.0zM160.0,108.9h1.0v1.0h-1.0zM150.2,111.6h1.0v1.0h-1.0zM154.7,105.1h1.0v1.0h-1.0zM158.1,106.3h1.0v1.0h-1.0zM151.3,106.4h1.0v1.0h-1.0zM162.0,110.1h1.0v1.0h-1.0zM162.7,111.1h1.0v1.0h-1.0zM159.3,109.4h1.0v1.0h-1.0zM154.6,105.2h1.0v1.0h-1.0zM155.1,102.5h1.0v1.0h-1.0zM161.0,108.2h1.0v1.0h-1.0zM147.6,109.4h1.0v1.0h-1.0zM161.0,104.0h1.0v1.0h-1.0zM156.0,106.1h1.0v1.0h-1.0zM161.9,106.4h1.0v1.0h-1.0zM164.8,109.2h1.0v1.0h-1.0zM152.8,102.0h1.0v1.0h-1.0zM161.3,108.6h1.0v1.0h-1.0zM156.3,109.9h1.0v1.0h-1.0zM160.9,110.7h1.0v1.0h-1.0zM150.6,105.4h1.0v1.0h-1.0zM160.5,108.5h1.0v1.0h-1.0zM153.6,109.0h1.0v1.0h-1.0zM163.7,107.0h1.0v1.0h-1.0zM163.6,105.3h1.0v1.0h-1.0zM166.2,108.5h1.0v1.0h-1.0zM161.2,112.4h1.0v1.0h-1.0zM150.9,110.5h1.0v1.0h-1.0zM160.0,103.0h1.0v1.0h-1.0zM154.6,105.7h1.0v1.0h-1.0zM162.4,102.2h1.0v1.0h-1.0zM152.6,110.4h1.0v1.0h-1.0zM150.9,106.4h1.0v1.0h-1.0zM164.1,106.4h1.0v1.0h-1.0zM162.6,106.4h1.0v1.0h-1.0zM153.2,104.4h1.0v1.0h-1.0zM150.5,106.2h1.0v1.0h-1.0zM155.9,108.9h1.0v1.0h-1.0zM161.5,110.0h1.0v1.0h-1.0zM147.0,105.9h1.0v1.0h-1.0zM153.1,108.7h1.0v1.0h-1.0zM156.5,110.6h1.0v1.0h-1.0zM162.4,104.6h1.0v1.0h-1.0z" fill="#7a98c8" opacity="0.35"/>
<path d="M153.8,107.3h1.0v1.0h-1.0zM163.8,105.8h1.0v1.0h-1.0zM153.9,105.2h1.0v1.0h-1.0zM153.0,111.8h1.0v1.0h-1.0zM152.7,107.1h1.0v1.0h-1.0zM162.4,109.6h1.0v1.0h-1.0zM148.7,108.5h1.0v1.0h-1.0zM150.1,110.3h1.0v1.0h-1.0zM153.1,112.8h1.0v1.0h-1.0zM146.9,109.4h1.0v1.0h-1.0zM150.6,111.3h1.0v1.0h-1.0zM156.4,103.9h1.0v1.0h-1.0zM156.8,103.3h1.0v1.0h-1.0zM149.7,108.5h1.0v1.0h-1.0zM158.7,101.4h1.0v1.0h-1.0zM153.8,106.8h1.0v1.0h-1.0zM144.2,110.6h1.0v1.0h-1.0zM148.8,107.1h1.0v1.0h-1.0zM152.7,104.0h1.0v1.0h-1.0zM162.8,106.7h1.0v1.0h-1.0zM158.5,110.0h1.0v1.0h-1.0zM160.8,105.3h1.0v1.0h-1.0zM150.4,104.3h1.0v1.0h-1.0zM161.1,107.6h1.0v1.0h-1.0zM155.1,112.1h1.0v1.0h-1.0zM159.0,108.7h1.0v1.0h-1.0zM156.7,104.7h1.0v1.0h-1.0zM151.2,106.0h1.0v1.0h-1.0zM166.7,104.9h1.0v1.0h-1.0zM155.2,105.3h1.0v1.0h-1.0zM153.6,109.1h1.0v1.0h-1.0zM154.2,108.2h1.0v1.0h-1.0zM156.1,108.4h1.0v1.0h-1.0zM157.6,106.1h1.0v1.0h-1.0zM145.2,113.1h1.0v1.0h-1.0zM162.4,105.0h1.0v1.0h-1.0zM148.5,107.2h1.0v1.0h-1.0zM154.0,108.4h1.0v1.0h-1.0zM151.4,110.4h1.0v1.0h-1.0zM154.8,110.7h1.0v1.0h-1.0zM164.9,108.4h1.0v1.0h-1.0zM159.2,105.1h1.0v1.0h-1.0zM157.7,107.7h1.0v1.0h-1.0zM153.6,106.0h1.0v1.0h-1.0zM155.8,107.6h1.0v1.0h-1.0zM160.3,108.2h1.0v1.0h-1.0zM154.0,104.5h1.0v1.0h-1.0zM164.3,105.4h1.0v1.0h-1.0zM149.5,109.2h1.0v1.0h-1.0zM155.5,111.5h1.0v1.0h-1.0zM152.6,108.6h1.0v1.0h-1.0zM149.5,107.2h1.0v1.0h-1.0zM150.5,112.6h1.0v1.0h-1.0zM157.1,101.5h1.0v1.0h-1.0zM159.0,112.2h1.0v1.0h-1.0zM156.8,107.7h1.0v1.0h-1.0zM161.4,109.8h1.0v1.0h-1.0zM146.2,102.1h1.0v1.0h-1.0zM158.7,105.2h1.0v1.0h-1.0zM160.8,102.9h1.0v1.0h-1.0zM148.3,111.9h1.0v1.0h-1.0zM148.9,107.6h1.0v1.0h-1.0zM157.4,108.0h1.0v1.0h-1.0zM157.5,104.2h1.0v1.0h-1.0zM150.4,102.3h1.0v1.0h-1.0zM156.9,108.8h1.0v1.0h-1.0zM156.8,106.5h1.0v1.0h-1.0zM153.0,105.3h1.0v1.0h-1.0zM163.6,109.9h1.0v1.0h-1.0zM158.9,108.8h1.0v1.0h-1.0zM151.5,107.0h1.0v1.0h-1.0zM153.9,106.8h1.0v1.0h-1.0zM156.1,105.9h1.0v1.0h-1.0zM163.5,106.5h1.0v1.0h-1.0zM164.0,107.9h1.0v1.0h-1.0zM161.4,104.5h1.0v1.0h-1.0z" fill="#7a98c8" opacity="0.35"/>
<path d="M149.5,109.0h1.0v1.0h-1.0zM160.5,101.3h1.0v1.0h-1.0zM152.7,105.8h1.0v1.0h-1.0zM161.9,110.4h1.0v1.0h-1.0zM158.3,108.7h1.0v1.0h-1.0zM160.4,103.8h1.0v1.0h-1.0zM150.9,105.2h1.0v1.0h-1.0zM161.6,107.7h1.0v1.0h-1.0zM157.2,108.5h1.0v1.0h-1.0zM159.3,108.9h1.0v1.0h-1.0zM147.3,103.3h1.0v1.0h-1.0zM158.1,102.6h1.0v1.0h-1.0zM150.4,106.0h1.0v1.0h-1.0zM155.2,104.9h1.0v1.0h-1.0zM149.5,107.5h1.0v1.0h-1.0zM160.7,106.1h1.0v1.0h-1.0zM157.9,107.6h1.0v1.0h-1.0zM153.6,104.6h1.0v1.0h-1.0zM160.7,109.3h1.0v1.0h-1.0zM148.2,109.1h1.0v1.0h-1.0zM167.1,106.7h1.0v1.0h-1.0zM158.8,109.7h1.0v1.0h-1.0zM154.8,106.8h1.0v1.0h-1.0zM160.4,103.9h1.0v1.0h-1.0zM150.5,106.0h1.0v1.0h-1.0zM144.9,106.7h1.0v1.0h-1.0zM154.8,104.6h1.0v1.0h-1.0zM150.4,108.5h1.0v1.0h-1.0zM150.9,113.8h1.0v1.0h-1.0zM151.6,113.6h1.0v1.0h-1.0zM160.9,107.0h1.0v1.0h-1.0zM164.0,111.7h1.0v1.0h-1.0zM153.2,105.0h1.0v1.0h-1.0zM145.3,109.6h1.0v1.0h-1.0zM151.7,107.4h1.0v1.0h-1.0zM153.0,109.3h1.0v1.0h-1.0zM154.7,113.0h1.0v1.0h-1.0zM161.2,113.1h1.0v1.0h-1.0zM155.4,108.6h1.0v1.0h-1.0zM164.7,104.5h1.0v1.0h-1.0zM153.1,105.0h1.0v1.0h-1.0zM153.4,106.0h1.0v1.0h-1.0zM158.1,109.3h1.0v1.0h-1.0zM160.2,104.0h1.0v1.0h-1.0zM161.2,102.7h1.0v1.0h-1.0zM164.1,111.1h1.0v1.0h-1.0zM155.8,101.5h1.0v1.0h-1.0zM155.2,101.5h1.0v1.0h-1.0zM158.8,106.8h1.0v1.0h-1.0zM164.4,106.6h1.0v1.0h-1.0zM154.8,109.1h1.0v1.0h-1.0zM161.1,106.3h1.0v1.0h-1.0zM146.3,105.9h1.0v1.0h-1.0zM159.7,109.2h1.0v1.0h-1.0zM153.2,108.0h1.0v1.0h-1.0zM166.0,107.2h1.0v1.0h-1.0zM152.4,108.3h1.0v1.0h-1.0zM153.4,105.5h1.0v1.0h-1.0zM159.4,111.7h1.0v1.0h-1.0zM154.2,109.3h1.0v1.0h-1.0zM156.1,108.4h1.0v1.0h-1.0zM158.8,109.8h1.0v1.0h-1.0zM152.4,108.3h1.0v1.0h-1.0zM154.2,112.1h1.0v1.0h-1.0zM159.0,106.4h1.0v1.0h-1.0zM153.0,110.7h1.0v1.0h-1.0zM152.3,103.6h1.0v1.0h-1.0zM149.1,113.0h1.0v1.0h-1.0zM150.5,110.5h1.0v1.0h-1.0zM161.8,104.9h1.0v1.0h-1.0zM148.4,107.8h1.0v1.0h-1.0zM154.0,108.2h1.0v1.0h-1.0zM165.6,107.2h1.0v1.0h-1.0zM156.5,105.8h1.0v1.0h-1.0zM157.2,110.1h1.0v1.0h-1.0zM166.5,104.3h1.0v1.0h-1.0z" fill="#7a98c8" opacity="0.35"/>
<path d="M152.2,102.5h0.9v0.9h-0.9zM180.1,112.5h0.9v0.9h-0.9zM149.5,111.3h0.9v0.9h-0.9zM149.6,67.0h0.9v0.9h-0.9zM162.7,73.1h0.9v0.9h-0.9zM160.8,73.4h0.9v0.9h-0.9zM177.3,85.2h0.9v0.9h-0.9zM147.7,82.1h0.9v0.9h-0.9zM166.9,94.3h0.9v0.9h-0.9zM166.5,114.3h0.9v0.9h-0.9zM156.8,93.9h0.9v0.9h-0.9zM186.7,103.9h0.9v0.9h-0.9zM190.0,99.4h0.9v0.9h-0.9zM171.0,85.9h0.9v0.9h-0.9zM155.9,77.5h0.9v0.9h-0.9zM171.9,80.8h0.9v0.9h-0.9zM189.9,82.7h0.9v0.9h-0.9zM161.5,103.9h0.9v0.9h-0.9zM156.6,67.1h0.9v0.9h-0.9zM173.5,108.3h0.9v0.9h-0.9zM183.7,108.9h0.9v0.9h-0.9zM189.2,76.4h0.9v0.9h-0.9zM146.8,86.3h0.9v0.9h-0.9zM172.7,112.0h0.9v0.9h-0.9zM172.6,102.0h0.9v0.9h-0.9zM170.4,107.2h0.9v0.9h-0.9zM172.2,110.1h0.9v0.9h-0.9zM168.3,101.7h0.9v0.9h-0.9zM174.4,109.8h0.9v0.9h-0.9z" fill="#a8b8d8" opacity="0.35"/>
<path d="M160.7,103.4h0.9v0.9h-0.9zM179.4,68.1h0.9v0.9h-0.9zM177.1,78.5h0.9v0.9h-0.9zM149.4,105.2h0.9v0.9h-0.9zM186.9,92.4h0.9v0.9h-0.9zM168.6,108.8h0.9v0.9h-0.9zM167.3,73.8h0.9v0.9h-0.9zM154.6,109.8h0.9v0.9h-0.9zM163.0,83.3h0.9v0.9h-0.9zM146.2,73.1h0.9v0.9h-0.9zM169.9,112.9h0.9v0.9h-0.9zM175.0,97.1h0.9v0.9h-0.9zM158.9,103.4h0.9v0.9h-0.9zM147.0,82.5h0.9v0.9h-0.9zM161.1,72.6h0.9v0.9h-0.9zM152.3,69.2h0.9v0.9h-0.9zM189.1,94.6h0.9v0.9h-0.9zM165.0,108.5h0.9v0.9h-0.9zM152.1,79.1h0.9v0.9h-0.9zM175.8,75.6h0.9v0.9h-0.9zM160.7,72.7h0.9v0.9h-0.9zM160.0,102.7h0.9v0.9h-0.9zM146.2,96.7h0.9v0.9h-0.9zM173.1,107.3h0.9v0.9h-0.9zM173.8,101.9h0.9v0.9h-0.9zM172.4,108.5h0.9v0.9h-0.9zM169.7,104.0h0.9v0.9h-0.9zM172.3,100.1h0.9v0.9h-0.9zM172.9,101.2h0.9v0.9h-0.9z" fill="#a8b8d8" opacity="0.35"/>
<path d="M177.3,106.5h0.9v0.9h-0.9zM173.6,70.9h0.9v0.9h-0.9zM153.5,87.9h0.9v0.9h-0.9zM153.1,93.2h0.9v0.9h-0.9zM177.8,105.6h0.9v0.9h-0.9zM183.2,67.7h0.9v0.9h-0.9zM185.4,85.3h0.9v0.9h-0.9zM172.9,68.1h0.9v0.9h-0.9zM144.3,94.4h0.9v0.9h-0.9zM176.9,79.4h0.9v0.9h-0.9zM192.6,67.7h0.9v0.9h-0.9zM161.8,79.8h0.9v0.9h-0.9zM180.2,90.9h0.9v0.9h-0.9zM159.8,114.4h0.9v0.9h-0.9zM144.4,108.7h0.9v0.9h-0.9zM158.8,81.1h0.9v0.9h-0.9zM147.9,74.8h0.9v0.9h-0.9zM147.3,89.7h0.9v0.9h-0.9zM178.5,76.7h0.9v0.9h-0.9zM180.0,113.2h0.9v0.9h-0.9zM153.2,92.3h0.9v0.9h-0.9zM175.8,85.9h0.9v0.9h-0.9zM171.8,107.8h0.9v0.9h-0.9zM173.7,108.0h0.9v0.9h-0.9zM173.1,110.6h0.9v0.9h-0.9zM171.6,109.6h0.9v0.9h-0.9zM173.8,105.9h0.9v0.9h-0.9zM170.1,110.1h0.9v0.9h-0.9zM174.1,100.8h0.9v0.9h-0.9z" fill="#a8b8d8" opacity="0.35"/>
<path d="M150.0,84.3h0.9v0.9h-0.9zM170.9,105.3h0.9v0.9h-0.9zM185.1,94.5h0.9v0.9h-0.9zM158.2,99.7h0.9v0.9h-0.9zM190.5,66.7h0.9v0.9h-0.9zM152.9,106.1h0.9v0.9h-0.9zM186.8,95.9h0.9v0.9h-0.9zM152.3,83.7h0.9v0.9h-0.9zM160.4,67.0h0.9v0.9h-0.9zM157.4,90.5h0.9v0.9h-0.9zM171.5,103.8h0.9v0.9h-0.9zM183.0,108.8h0.9v0.9h-0.9zM175.1,83.2h0.9v0.9h-0.9zM167.6,84.0h0.9v0.9h-0.9zM166.2,87.8h0.9v0.9h-0.9zM179.6,93.0h0.9v0.9h-0.9zM172.4,114.4h0.9v0.9h-0.9zM188.1,79.5h0.9v0.9h-0.9zM163.6,75.8h0.9v0.9h-0.9zM173.5,69.9h0.9v0.9h-0.9zM186.9,97.4h0.9v0.9h-0.9zM177.3,82.6h0.9v0.9h-0.9zM175.0,103.3h0.9v0.9h-0.9zM172.9,109.4h0.9v0.9h-0.9zM172.1,105.5h0.9v0.9h-0.9zM171.9,103.4h0.9v0.9h-0.9zM167.5,103.6h0.9v0.9h-0.9zM173.4,104.7h0.9v0.9h-0.9z" fill="#a8b8d8" opacity="0.35"/>
</g></g>
<rect x="167.40" y="74.70" width="14.00" height="24.80" fill="none" stroke="#a01840" stroke-width="1.5"/>
<rect x="143.60" y="99.50" width="24.60" height="16.00" fill="none" stroke="#283c72" stroke-width="1.5"/>
<line x1="181.40" y1="87.00" x2="199.80" y2="87.00" stroke="#111" stroke-width="1.6"/>
<path d="M205.00,87.00 L198.80,84.10 L198.80,89.90Z" fill="#111" stroke="none" stroke-width="1"/>
<line x1="168.20" y1="107.70" x2="198.80" y2="107.70" stroke="#111" stroke-width="1.6"/>
<path d="M204.00,107.70 L197.80,104.80 L197.80,110.60Z" fill="#111" stroke="none" stroke-width="1"/>
<text x="144.40" y="60.00" font-size="9.8" text-anchor="start" textLength="46.90" lengthAdjust="spacingAndGlyphs" fill="#111" stroke="#111" stroke-width="0.12">CD4T gate</text>
<text x="209.30" y="89.60" font-size="7.4" text-anchor="start" textLength="18.40" lengthAdjust="spacingAndGlyphs" fill="#111" stroke="#111" stroke-width="0.12">Tregs</text>
<text x="207.20" y="110.30" font-size="7.4" text-anchor="start" textLength="20.50" lengthAdjust="spacingAndGlyphs" fill="#111" stroke="#111" stroke-width="0.12">Tcons</text>
<path d="M137.8,95.5 L137.8,121.4 L158,121.4" fill="none" stroke="#000" stroke-width="1.5"/>
<path d="M137.8,94.4 L135.1,100.6 L140.5,100.6Z" fill="#000" stroke="none" stroke-width="1"/>
<path d="M163.8,121.4 L157.6,118.7 L157.6,124.1Z" fill="#000" stroke="none" stroke-width="1"/>
<text x="141.00" y="80.80" font-size="9.6" text-anchor="middle" textLength="20.00" lengthAdjust="spacingAndGlyphs" transform="rotate(-90 141.00 80.80)" fill="#111" stroke="#111" stroke-width="0.12">CD25</text>
<text x="167.00" y="126.60" font-size="9.6" text-anchor="start" textLength="22.70" lengthAdjust="spacingAndGlyphs" fill="#111" stroke="#111" stroke-width="0.12">Foxp3</text>
<line x1="333.80" y1="15.60" x2="347.00" y2="15.60" stroke="#7ab44c" stroke-width="1.5"/>
<path d="M340.40,13.13 L337.93,17.41 L342.87,17.41Z" fill="#7ab44c" stroke="none" stroke-width="1"/>
<text x="349.20" y="18.50" font-size="7.6" text-anchor="start" textLength="18.50" lengthAdjust="spacingAndGlyphs" fill="#111" stroke="#111" stroke-width="0.12">CD8T</text>
<line x1="378.50" y1="15.60" x2="392.30" y2="15.60" stroke="#25437c" stroke-width="1.5"/>
<rect x="383.40" y="13.61" width="3.99" height="3.99" fill="#25437c" stroke="none" stroke-width="1"/>
<text x="395.40" y="18.50" font-size="7.6" text-anchor="start" textLength="20.00" lengthAdjust="spacingAndGlyphs" fill="#111" stroke="#111" stroke-width="0.12">Tcons</text>
<line x1="424.60" y1="15.60" x2="438.50" y2="15.60" stroke="#9c1439" stroke-width="1.5"/>
<circle cx="431.55" cy="15.60" r="2.09" fill="#9c1439"/>
<text x="440.60" y="18.50" font-size="7.6" text-anchor="start" textLength="19.40" lengthAdjust="spacingAndGlyphs" fill="#111" stroke="#111" stroke-width="0.12">Tregs</text>
<text x="328.60" y="32.40" font-size="9.6" text-anchor="start" textLength="28.90" lengthAdjust="spacingAndGlyphs" fill="#111" stroke="#111" stroke-width="0.12">In vitro</text>
<text x="449.20" y="32.40" font-size="9.6" text-anchor="start" textLength="27.80" lengthAdjust="spacingAndGlyphs" fill="#111" stroke="#111" stroke-width="0.12">In vivo</text>
<line x1="293.30" y1="37.50" x2="293.30" y2="143.20" stroke="#000" stroke-width="1.4"/>
<line x1="292.60" y1="142.40" x2="393.50" y2="142.40" stroke="#000" stroke-width="1.8"/>
<line x1="290.60" y1="143.00" x2="293.30" y2="143.00" stroke="#000" stroke-width="1.1"/>
<text x="287.60" y="145.90" font-size="8" text-anchor="end" fill="#111" stroke="#111" stroke-width="0.12">4</text>
<line x1="290.60" y1="122.50" x2="293.30" y2="122.50" stroke="#000" stroke-width="1.1"/>
<text x="287.60" y="125.40" font-size="8" text-anchor="end" fill="#111" stroke="#111" stroke-width="0.12">6</text>
<line x1="290.60" y1="102.00" x2="293.30" y2="102.00" stroke="#000" stroke-width="1.1"/>
<text x="287.60" y="104.90" font-size="8" text-anchor="end" fill="#111" stroke="#111" stroke-width="0.12">8</text>
<line x1="290.60" y1="81.50" x2="293.30" y2="81.50" stroke="#000" stroke-width="1.1"/>
<text x="287.60" y="84.40" font-size="8" text-anchor="end" fill="#111" stroke="#111" stroke-width="0.12">10</text>
<line x1="290.60" y1="61.00" x2="293.30" y2="61.00" stroke="#000" stroke-width="1.1"/>
<text x="287.60" y="63.90" font-size="8" text-anchor="end" fill="#111" stroke="#111" stroke-width="0.12">12</text>
<line x1="290.60" y1="40.50" x2="293.30" y2="40.50" stroke="#000" stroke-width="1.1"/>
<text x="287.60" y="43.40" font-size="8" text-anchor="end" fill="#111" stroke="#111" stroke-width="0.12">14</text>
<line x1="294.00" y1="142.40" x2="294.00" y2="145.00" stroke="#000" stroke-width="1"/>
<text x="292.70" y="155.60" font-size="8" text-anchor="middle" fill="#111" stroke="#111" stroke-width="0.12">-5</text>
<line x1="303.50" y1="142.40" x2="303.50" y2="145.00" stroke="#000" stroke-width="1"/>
<text x="302.20" y="155.60" font-size="8" text-anchor="middle" fill="#111" stroke="#111" stroke-width="0.12">-4</text>
<line x1="313.00" y1="142.40" x2="313.00" y2="145.00" stroke="#000" stroke-width="1"/>
<text x="311.70" y="155.60" font-size="8" text-anchor="middle" fill="#111" stroke="#111" stroke-width="0.12">-3</text>
<line x1="322.50" y1="142.40" x2="322.50" y2="145.00" stroke="#000" stroke-width="1"/>
<text x="321.20" y="155.60" font-size="8" text-anchor="middle" fill="#111" stroke="#111" stroke-width="0.12">-2</text>
<line x1="332.00" y1="142.40" x2="332.00" y2="145.00" stroke="#000" stroke-width="1"/>
<text x="330.70" y="155.60" font-size="8" text-anchor="middle" fill="#111" stroke="#111" stroke-width="0.12">-1</text>
<line x1="341.50" y1="142.40" x2="341.50" y2="145.00" stroke="#000" stroke-width="1"/>
<text x="341.50" y="155.60" font-size="8" text-anchor="middle" fill="#111" stroke="#111" stroke-width="0.12">0</text>
<line x1="351.00" y1="142.40" x2="351.00" y2="145.00" stroke="#000" stroke-width="1"/>
<text x="351.00" y="155.60" font-size="8" text-anchor="middle" fill="#111" stroke="#111" stroke-width="0.12">1</text>
<line x1="360.50" y1="142.40" x2="360.50" y2="145.00" stroke="#000" stroke-width="1"/>
<text x="360.50" y="155.60" font-size="8" text-anchor="middle" fill="#111" stroke="#111" stroke-width="0.12">2</text>
<line x1="370.00" y1="142.40" x2="370.00" y2="145.00" stroke="#000" stroke-width="1"/>
<text x="370.00" y="155.60" font-size="8" text-anchor="middle" fill="#111" stroke="#111" stroke-width="0.12">3</text>
<line x1="379.50" y1="142.40" x2="379.50" y2="145.00" stroke="#000" stroke-width="1"/>
<text x="379.50" y="155.60" font-size="8" text-anchor="middle" fill="#111" stroke="#111" stroke-width="0.12">4</text>
<line x1="389.00" y1="142.40" x2="389.00" y2="145.00" stroke="#000" stroke-width="1"/>
<text x="389.00" y="155.60" font-size="8" text-anchor="middle" fill="#111" stroke="#111" stroke-width="0.12">5</text>
<line x1="296.85" y1="142.40" x2="296.85" y2="143.80" stroke="#000" stroke-width="0.6"/>
<line x1="298.75" y1="142.40" x2="298.75" y2="143.80" stroke="#000" stroke-width="0.6"/>
<line x1="300.65" y1="142.40" x2="300.65" y2="143.80" stroke="#000" stroke-width="0.6"/>
<line x1="302.07" y1="142.40" x2="302.07" y2="143.80" stroke="#000" stroke-width="0.6"/>
<line x1="306.35" y1="142.40" x2="306.35" y2="143.80" stroke="#000" stroke-width="0.6"/>
<line x1="308.25" y1="142.40" x2="308.25" y2="143.80" stroke="#000" stroke-width="0.6"/>
<line x1="310.15" y1="142.40" x2="310.15" y2="143.80" stroke="#000" stroke-width="0.6"/>
<line x1="311.57" y1="142.40" x2="311.57" y2="143.80" stroke="#000" stroke-width="0.6"/>
<line x1="315.85" y1="142.40" x2="315.85" y2="143.80" stroke="#000" stroke-width="0.6"/>
<line x1="317.75" y1="142.40" x2="317.75" y2="143.80" stroke="#000" stroke-width="0.6"/>
<line x1="319.65" y1="142.40" x2="319.65" y2="143.80" stroke="#000" stroke-width="0.6"/>
<line x1="321.07" y1="142.40" x2="321.07" y2="143.80" stroke="#000" stroke-width="0.6"/>
<line x1="325.35" y1="142.40" x2="325.35" y2="143.80" stroke="#000" stroke-width="0.6"/>
<line x1="327.25" y1="142.40" x2="327.25" y2="143.80" stroke="#000" stroke-width="0.6"/>
<line x1="329.15" y1="142.40" x2="329.15" y2="143.80" stroke="#000" stroke-width="0.6"/>
<line x1="330.57" y1="142.40" x2="330.57" y2="143.80" stroke="#000" stroke-width="0.6"/>
<line x1="334.85" y1="142.40" x2="334.85" y2="143.80" stroke="#000" stroke-width="0.6"/>
<line x1="336.75" y1="142.40" x2="336.75" y2="143.80" stroke="#000" stroke-width="0.6"/>
<line x1="338.65" y1="142.40" x2="338.65" y2="143.80" stroke="#000" stroke-width="0.6"/>
<line x1="340.07" y1="142.40" x2="340.07" y2="143.80" stroke="#000" stroke-width="0.6"/>
<line x1="344.35" y1="142.40" x2="344.35" y2="143.80" stroke="#000" stroke-width="0.6"/>
<line x1="346.25" y1="142.40" x2="346.25" y2="143.80" stroke="#000" stroke-width="0.6"/>
<line x1="348.15" y1="142.40" x2="348.15" y2="143.80" stroke="#000" stroke-width="0.6"/>
<line x1="349.57" y1="142.40" x2="349.57" y2="143.80" stroke="#000" stroke-width="0.6"/>
<line x1="353.85" y1="142.40" x2="353.85" y2="143.80" stroke="#000" stroke-width="0.6"/>
<line x1="355.75" y1="142.40" x2="355.75" y2="143.80" stroke="#000" stroke-width="0.6"/>
<line x1="357.65" y1="142.40" x2="357.65" y2="143.80" stroke="#000" stroke-width="0.6"/>
<line x1="359.07" y1="142.40" x2="359.07" y2="143.80" stroke="#000" stroke-width="0.6"/>
<line x1="363.35" y1="142.40" x2="363.35" y2="143.80" stroke="#000" stroke-width="0.6"/>
<line x1="365.25" y1="142.40" x2="365.25" y2="143.80" stroke="#000" stroke-width="0.6"/>
<line x1="367.15" y1="142.40" x2="367.15" y2="143.80" stroke="#000" stroke-width="0.6"/>
<line x1="368.57" y1="142.40" x2="368.57" y2="143.80" stroke="#000" stroke-width="0.6"/>
<line x1="372.85" y1="142.40" x2="372.85" y2="143.80" stroke="#000" stroke-width="0.6"/>
<line x1="374.75" y1="142.40" x2="374.75" y2="143.80" stroke="#000" stroke-width="0.6"/>
<line x1="376.65" y1="142.40" x2="376.65" y2="143.80" stroke="#000" stroke-width="0.6"/>
<line x1="378.07" y1="142.40" x2="378.07" y2="143.80" stroke="#000" stroke-width="0.6"/>
<line x1="382.35" y1="142.40" x2="382.35" y2="143.80" stroke="#000" stroke-width="0.6"/>
<line x1="384.25" y1="142.40" x2="384.25" y2="143.80" stroke="#000" stroke-width="0.6"/>
<line x1="386.15" y1="142.40" x2="386.15" y2="143.80" stroke="#000" stroke-width="0.6"/>
<line x1="387.57" y1="142.40" x2="387.57" y2="143.80" stroke="#000" stroke-width="0.6"/>
<line x1="336.40" y1="41.50" x2="336.40" y2="142.00" stroke="#111" stroke-width="1.3" stroke-dasharray="1.7,2.1"/>
<line x1="356.00" y1="41.50" x2="356.00" y2="142.00" stroke="#111" stroke-width="1.3" stroke-dasharray="1.7,2.1"/>
<text x="311.30" y="168.80" font-size="9" text-anchor="start" textLength="63.70" lengthAdjust="spacingAndGlyphs" fill="#111" stroke="#111" stroke-width="0.12">IL-2(Log(IU/ml))</text>
<text x="274.40" y="89.60" font-size="8.8" text-anchor="middle" textLength="51.00" lengthAdjust="spacingAndGlyphs" transform="rotate(-90 274.40 89.60)" fill="#111" stroke="#111" stroke-width="0.12">pSTAT5(MFI)</text>
<line x1="414.30" y1="37.50" x2="414.30" y2="142.20" stroke="#000" stroke-width="1.4"/>
<line x1="413.60" y1="141.50" x2="512.00" y2="141.50" stroke="#000" stroke-width="1.8"/>
<line x1="411.60" y1="141.30" x2="414.30" y2="141.30" stroke="#000" stroke-width="1.1"/>
<text x="408.20" y="144.20" font-size="8" text-anchor="end" fill="#111" stroke="#111" stroke-width="0.12">6</text>
<line x1="411.60" y1="116.10" x2="414.30" y2="116.10" stroke="#000" stroke-width="1.1"/>
<text x="408.20" y="119.00" font-size="8" text-anchor="end" fill="#111" stroke="#111" stroke-width="0.12">8</text>
<line x1="411.60" y1="90.90" x2="414.30" y2="90.90" stroke="#000" stroke-width="1.1"/>
<text x="408.20" y="93.80" font-size="8" text-anchor="end" fill="#111" stroke="#111" stroke-width="0.12">10</text>
<line x1="411.60" y1="65.70" x2="414.30" y2="65.70" stroke="#000" stroke-width="1.1"/>
<text x="408.20" y="68.60" font-size="8" text-anchor="end" fill="#111" stroke="#111" stroke-width="0.12">12</text>
<line x1="411.60" y1="40.50" x2="414.30" y2="40.50" stroke="#000" stroke-width="1.1"/>
<text x="408.20" y="43.40" font-size="8" text-anchor="end" fill="#111" stroke="#111" stroke-width="0.12">14</text>
<line x1="414.00" y1="141.50" x2="414.00" y2="144.00" stroke="#000" stroke-width="1"/>
<text x="414.00" y="155.60" font-size="8" text-anchor="middle" fill="#111" stroke="#111" stroke-width="0.12">2</text>
<line x1="438.00" y1="141.50" x2="438.00" y2="144.00" stroke="#000" stroke-width="1"/>
<text x="438.00" y="155.60" font-size="8" text-anchor="middle" fill="#111" stroke="#111" stroke-width="0.12">3</text>
<line x1="462.00" y1="141.50" x2="462.00" y2="144.00" stroke="#000" stroke-width="1"/>
<text x="462.00" y="155.60" font-size="8" text-anchor="middle" fill="#111" stroke="#111" stroke-width="0.12">4</text>
<line x1="486.00" y1="141.50" x2="486.00" y2="144.00" stroke="#000" stroke-width="1"/>
<text x="486.00" y="155.60" font-size="8" text-anchor="middle" fill="#111" stroke="#111" stroke-width="0.12">5</text>
<line x1="510.00" y1="141.50" x2="510.00" y2="144.00" stroke="#000" stroke-width="1"/>
<text x="510.00" y="155.60" font-size="8" text-anchor="middle" fill="#111" stroke="#111" stroke-width="0.12">6</text>
<line x1="421.20" y1="141.50" x2="421.20" y2="143.40" stroke="#000" stroke-width="0.6"/>
<line x1="425.52" y1="141.50" x2="425.52" y2="143.40" stroke="#000" stroke-width="0.6"/>
<line x1="428.40" y1="141.50" x2="428.40" y2="143.40" stroke="#000" stroke-width="0.6"/>
<line x1="430.80" y1="141.50" x2="430.80" y2="143.40" stroke="#000" stroke-width="0.6"/>
<line x1="432.72" y1="141.50" x2="432.72" y2="143.40" stroke="#000" stroke-width="0.6"/>
<line x1="434.40" y1="141.50" x2="434.40" y2="143.40" stroke="#000" stroke-width="0.6"/>
<line x1="435.60" y1="141.50" x2="435.60" y2="143.40" stroke="#000" stroke-width="0.6"/>
<line x1="436.80" y1="141.50" x2="436.80" y2="143.40" stroke="#000" stroke-width="0.6"/>
<line x1="445.20" y1="141.50" x2="445.20" y2="143.40" stroke="#000" stroke-width="0.6"/>
<line x1="449.52" y1="141.50" x2="449.52" y2="143.40" stroke="#000" stroke-width="0.6"/>
<line x1="452.40" y1="141.50" x2="452.40" y2="143.40" stroke="#000" stroke-width="0.6"/>
<line x1="454.80" y1="141.50" x2="454.80" y2="143.40" stroke="#000" stroke-width="0.6"/>
<line x1="456.72" y1="141.50" x2="456.72" y2="143.40" stroke="#000" stroke-width="0.6"/>
<line x1="458.40" y1="141.50" x2="458.40" y2="143.40" stroke="#000" stroke-width="0.6"/>
<line x1="459.60" y1="141.50" x2="459.60" y2="143.40" stroke="#000" stroke-width="0.6"/>
<line x1="460.80" y1="141.50" x2="460.80" y2="143.40" stroke="#000" stroke-width="0.6"/>
<line x1="469.20" y1="141.50" x2="469.20" y2="143.40" stroke="#000" stroke-width="0.6"/>
<line x1="473.52" y1="141.50" x2="473.52" y2="143.40" stroke="#000" stroke-width="0.6"/>
<line x1="476.40" y1="141.50" x2="476.40" y2="143.40" stroke="#000" stroke-width="0.6"/>
<line x1="478.80" y1="141.50" x2="478.80" y2="143.40" stroke="#000" stroke-width="0.6"/>
<line x1="480.72" y1="141.50" x2="480.72" y2="143.40" stroke="#000" stroke-width="0.6"/>
<line x1="482.40" y1="141.50" x2="482.40" y2="143.40" stroke="#000" stroke-width="0.6"/>
<line x1="483.60" y1="141.50" x2="483.60" y2="143.40" stroke="#000" stroke-width="0.6"/>
<line x1="484.80" y1="141.50" x2="484.80" y2="143.40" stroke="#000" stroke-width="0.6"/>
<line x1="493.20" y1="141.50" x2="493.20" y2="143.40" stroke="#000" stroke-width="0.6"/>
<line x1="497.52" y1="141.50" x2="497.52" y2="143.40" stroke="#000" stroke-width="0.6"/>
<line x1="500.40" y1="141.50" x2="500.40" y2="143.40" stroke="#000" stroke-width="0.6"/>
<line x1="502.80" y1="141.50" x2="502.80" y2="143.40" stroke="#000" stroke-width="0.6"/>
<line x1="504.72" y1="141.50" x2="504.72" y2="143.40" stroke="#000" stroke-width="0.6"/>
<line x1="506.40" y1="141.50" x2="506.40" y2="143.40" stroke="#000" stroke-width="0.6"/>
<line x1="507.60" y1="141.50" x2="507.60" y2="143.40" stroke="#000" stroke-width="0.6"/>
<line x1="508.80" y1="141.50" x2="508.80" y2="143.40" stroke="#000" stroke-width="0.6"/>
<line x1="438.10" y1="40.80" x2="438.10" y2="141.00" stroke="#111" stroke-width="1.3" stroke-dasharray="1.7,2.1"/>
<line x1="462.20" y1="40.80" x2="462.20" y2="141.00" stroke="#111" stroke-width="1.3" stroke-dasharray="1.7,2.1"/>
<text x="423.80" y="168.80" font-size="9" text-anchor="start" textLength="80.00" lengthAdjust="spacingAndGlyphs" fill="#111" stroke="#111" stroke-width="0.12">IL-2(Log(IU/mouse))</text>
<path d="M303.50,118.00 L313.20,120.30 L322.40,119.60 L332.70,123.80 L342.10,116.50 L351.30,116.50 L360.80,104.00 L370.20,76.30 L380.20,59.50" fill="none" stroke="#7ab44c" stroke-width="1.5" stroke-linejoin="round"/>
<line x1="342.10" y1="112.50" x2="342.10" y2="120.50" stroke="#7ab44c" stroke-width="1.2"/>
<line x1="339.50" y1="112.50" x2="344.70" y2="112.50" stroke="#7ab44c" stroke-width="1.2"/>
<line x1="339.50" y1="120.50" x2="344.70" y2="120.50" stroke="#7ab44c" stroke-width="1.2"/>
<line x1="360.80" y1="101.00" x2="360.80" y2="107.00" stroke="#7ab44c" stroke-width="1.2"/>
<line x1="358.20" y1="101.00" x2="363.40" y2="101.00" stroke="#7ab44c" stroke-width="1.2"/>
<line x1="358.20" y1="107.00" x2="363.40" y2="107.00" stroke="#7ab44c" stroke-width="1.2"/>
<line x1="370.20" y1="72.30" x2="370.20" y2="80.30" stroke="#7ab44c" stroke-width="1.2"/>
<line x1="367.60" y1="72.30" x2="372.80" y2="72.30" stroke="#7ab44c" stroke-width="1.2"/>
<line x1="367.60" y1="80.30" x2="372.80" y2="80.30" stroke="#7ab44c" stroke-width="1.2"/>
<line x1="380.20" y1="56.50" x2="380.20" y2="62.50" stroke="#7ab44c" stroke-width="1.2"/>
<line x1="377.60" y1="56.50" x2="382.80" y2="56.50" stroke="#7ab44c" stroke-width="1.2"/>
<line x1="377.60" y1="62.50" x2="382.80" y2="62.50" stroke="#7ab44c" stroke-width="1.2"/>
<path d="M303.50,115.19 L300.69,120.05 L306.31,120.05Z" fill="#7ab44c" stroke="none" stroke-width="1"/>
<path d="M313.20,117.49 L310.39,122.35 L316.01,122.35Z" fill="#7ab44c" stroke="none" stroke-width="1"/>
<path d="M322.40,116.79 L319.59,121.65 L325.21,121.65Z" fill="#7ab44c" stroke="none" stroke-width="1"/>
<path d="M332.70,120.99 L329.89,125.85 L335.51,125.85Z" fill="#7ab44c" stroke="none" stroke-width="1"/>
<path d="M342.10,113.69 L339.29,118.55 L344.91,118.55Z" fill="#7ab44c" stroke="none" stroke-width="1"/>
<path d="M351.30,113.69 L348.49,118.55 L354.11,118.55Z" fill="#7ab44c" stroke="none" stroke-width="1"/>
<path d="M360.80,101.19 L357.99,106.05 L363.61,106.05Z" fill="#7ab44c" stroke="none" stroke-width="1"/>
<path d="M370.20,73.49 L367.39,78.35 L373.01,78.35Z" fill="#7ab44c" stroke="none" stroke-width="1"/>
<path d="M380.20,56.69 L377.39,61.55 L383.01,61.55Z" fill="#7ab44c" stroke="none" stroke-width="1"/>
<path d="M303.50,121.20 L313.20,122.70 L322.40,123.50 L332.70,124.20 L342.10,120.20 L351.30,116.70 L360.60,108.60 L370.40,97.50 L380.20,94.00" fill="none" stroke="#25437c" stroke-width="1.7" stroke-linejoin="round"/>
<line x1="360.60" y1="106.10" x2="360.60" y2="111.10" stroke="#25437c" stroke-width="1.2"/>
<line x1="358.00" y1="106.10" x2="363.20" y2="106.10" stroke="#25437c" stroke-width="1.2"/>
<line x1="358.00" y1="111.10" x2="363.20" y2="111.10" stroke="#25437c" stroke-width="1.2"/>
<line x1="370.40" y1="92.20" x2="370.40" y2="102.80" stroke="#25437c" stroke-width="1.2"/>
<line x1="367.80" y1="92.20" x2="373.00" y2="92.20" stroke="#25437c" stroke-width="1.2"/>
<line x1="367.80" y1="102.80" x2="373.00" y2="102.80" stroke="#25437c" stroke-width="1.2"/>
<line x1="380.20" y1="86.80" x2="380.20" y2="101.20" stroke="#25437c" stroke-width="1.2"/>
<line x1="377.60" y1="86.80" x2="382.80" y2="86.80" stroke="#25437c" stroke-width="1.2"/>
<line x1="377.60" y1="101.20" x2="382.80" y2="101.20" stroke="#25437c" stroke-width="1.2"/>
<rect x="301.23" y="118.93" width="4.54" height="4.54" fill="#25437c" stroke="none" stroke-width="1"/>
<rect x="310.93" y="120.43" width="4.54" height="4.54" fill="#25437c" stroke="none" stroke-width="1"/>
<rect x="320.13" y="121.23" width="4.54" height="4.54" fill="#25437c" stroke="none" stroke-width="1"/>
<rect x="330.43" y="121.93" width="4.54" height="4.54" fill="#25437c" stroke="none" stroke-width="1"/>
<rect x="339.83" y="117.93" width="4.54" height="4.54" fill="#25437c" stroke="none" stroke-width="1"/>
<rect x="349.03" y="114.43" width="4.54" height="4.54" fill="#25437c" stroke="none" stroke-width="1"/>
<rect x="358.33" y="106.33" width="4.54" height="4.54" fill="#25437c" stroke="none" stroke-width="1"/>
<rect x="368.13" y="95.23" width="4.54" height="4.54" fill="#25437c" stroke="none" stroke-width="1"/>
<rect x="377.93" y="91.73" width="4.54" height="4.54" fill="#25437c" stroke="none" stroke-width="1"/>
<path d="M303.50,106.50 L313.20,105.00 L322.40,107.60 L332.70,103.00 L342.10,87.80 L351.30,69.60 L360.80,64.20 L370.20,53.50 L380.20,59.20" fill="none" stroke="#9c1439" stroke-width="1.7" stroke-linejoin="round"/>
<line x1="303.50" y1="103.50" x2="303.50" y2="109.50" stroke="#9c1439" stroke-width="1.2"/>
<line x1="300.90" y1="103.50" x2="306.10" y2="103.50" stroke="#9c1439" stroke-width="1.2"/>
<line x1="300.90" y1="109.50" x2="306.10" y2="109.50" stroke="#9c1439" stroke-width="1.2"/>
<line x1="313.20" y1="101.20" x2="313.20" y2="108.80" stroke="#9c1439" stroke-width="1.2"/>
<line x1="310.60" y1="101.20" x2="315.80" y2="101.20" stroke="#9c1439" stroke-width="1.2"/>
<line x1="310.60" y1="108.80" x2="315.80" y2="108.80" stroke="#9c1439" stroke-width="1.2"/>
<line x1="332.70" y1="100.30" x2="332.70" y2="105.70" stroke="#9c1439" stroke-width="1.2"/>
<line x1="330.10" y1="100.30" x2="335.30" y2="100.30" stroke="#9c1439" stroke-width="1.2"/>
<line x1="330.10" y1="105.70" x2="335.30" y2="105.70" stroke="#9c1439" stroke-width="1.2"/>
<line x1="342.10" y1="85.30" x2="342.10" y2="90.30" stroke="#9c1439" stroke-width="1.2"/>
<line x1="339.50" y1="85.30" x2="344.70" y2="85.30" stroke="#9c1439" stroke-width="1.2"/>
<line x1="339.50" y1="90.30" x2="344.70" y2="90.30" stroke="#9c1439" stroke-width="1.2"/>
<line x1="351.30" y1="61.80" x2="351.30" y2="77.40" stroke="#9c1439" stroke-width="1.2"/>
<line x1="348.70" y1="61.80" x2="353.90" y2="61.80" stroke="#9c1439" stroke-width="1.2"/>
<line x1="348.70" y1="77.40" x2="353.90" y2="77.40" stroke="#9c1439" stroke-width="1.2"/>
<line x1="370.20" y1="49.50" x2="370.20" y2="57.50" stroke="#9c1439" stroke-width="1.2"/>
<line x1="367.60" y1="49.50" x2="372.80" y2="49.50" stroke="#9c1439" stroke-width="1.2"/>
<line x1="367.60" y1="57.50" x2="372.80" y2="57.50" stroke="#9c1439" stroke-width="1.2"/>
<line x1="380.20" y1="51.20" x2="380.20" y2="67.20" stroke="#9c1439" stroke-width="1.2"/>
<line x1="377.60" y1="51.20" x2="382.80" y2="51.20" stroke="#9c1439" stroke-width="1.2"/>
<line x1="377.60" y1="67.20" x2="382.80" y2="67.20" stroke="#9c1439" stroke-width="1.2"/>
<circle cx="303.50" cy="106.50" r="2.38" fill="#9c1439"/>
<circle cx="313.20" cy="105.00" r="2.38" fill="#9c1439"/>
<circle cx="322.40" cy="107.60" r="2.38" fill="#9c1439"/>
<circle cx="332.70" cy="103.00" r="2.38" fill="#9c1439"/>
<circle cx="342.10" cy="87.80" r="2.38" fill="#9c1439"/>
<circle cx="351.30" cy="69.60" r="2.38" fill="#9c1439"/>
<circle cx="360.80" cy="64.20" r="2.38" fill="#9c1439"/>
<circle cx="370.20" cy="53.50" r="2.38" fill="#9c1439"/>
<circle cx="380.20" cy="59.20" r="2.38" fill="#9c1439"/>
<circle cx="339.95" cy="78.60" r="1.05" fill="#111"/>
<circle cx="343.05" cy="78.60" r="1.05" fill="#111"/>
<circle cx="351.10" cy="56.30" r="1.05" fill="#111"/>
<circle cx="357.10" cy="53.50" r="1.05" fill="#111"/>
<circle cx="360.20" cy="53.50" r="1.05" fill="#111"/>
<circle cx="363.30" cy="53.50" r="1.05" fill="#111"/>
<circle cx="366.70" cy="44.20" r="1.05" fill="#111"/>
<circle cx="369.80" cy="44.20" r="1.05" fill="#111"/>
<circle cx="372.90" cy="44.20" r="1.05" fill="#111"/>
<circle cx="378.65" cy="46.50" r="1.05" fill="#111"/>
<circle cx="381.75" cy="46.50" r="1.05" fill="#111"/>
<circle cx="364.20" cy="65.90" r="1.05" fill="#111"/>
<circle cx="367.30" cy="65.90" r="1.05" fill="#111"/>
<circle cx="370.40" cy="65.90" r="1.05" fill="#111"/>
<circle cx="377.60" cy="71.90" r="1.05" fill="#111"/>
<circle cx="380.70" cy="71.90" r="1.05" fill="#111"/>
<circle cx="383.80" cy="71.90" r="1.05" fill="#111"/>
<circle cx="360.20" cy="96.00" r="1.05" fill="#111"/>
<circle cx="360.60" cy="115.60" r="1.05" fill="#111"/>
<circle cx="370.60" cy="106.30" r="1.05" fill="#111"/>
<circle cx="380.20" cy="105.20" r="1.05" fill="#111"/>
<path d="M430.60,131.00 L444.60,127.50 L454.60,127.50 L469.20,111.00 L478.30,104.20 L493.00,95.60" fill="none" stroke="#7ab44c" stroke-width="1.5" stroke-linejoin="round"/>
<line x1="430.60" y1="130.00" x2="430.60" y2="132.00" stroke="#7ab44c" stroke-width="1.2"/>
<line x1="428.00" y1="130.00" x2="433.20" y2="130.00" stroke="#7ab44c" stroke-width="1.2"/>
<line x1="428.00" y1="132.00" x2="433.20" y2="132.00" stroke="#7ab44c" stroke-width="1.2"/>
<line x1="469.20" y1="109.00" x2="469.20" y2="113.00" stroke="#7ab44c" stroke-width="1.2"/>
<line x1="466.60" y1="109.00" x2="471.80" y2="109.00" stroke="#7ab44c" stroke-width="1.2"/>
<line x1="466.60" y1="113.00" x2="471.80" y2="113.00" stroke="#7ab44c" stroke-width="1.2"/>
<line x1="478.30" y1="98.00" x2="478.30" y2="110.40" stroke="#7ab44c" stroke-width="1.2"/>
<line x1="475.70" y1="98.00" x2="480.90" y2="98.00" stroke="#7ab44c" stroke-width="1.2"/>
<line x1="475.70" y1="110.40" x2="480.90" y2="110.40" stroke="#7ab44c" stroke-width="1.2"/>
<line x1="493.00" y1="94.60" x2="493.00" y2="96.60" stroke="#7ab44c" stroke-width="1.2"/>
<line x1="490.40" y1="94.60" x2="495.60" y2="94.60" stroke="#7ab44c" stroke-width="1.2"/>
<line x1="490.40" y1="96.60" x2="495.60" y2="96.60" stroke="#7ab44c" stroke-width="1.2"/>
<path d="M430.60,128.19 L427.79,133.05 L433.41,133.05Z" fill="#7ab44c" stroke="none" stroke-width="1"/>
<path d="M444.60,124.69 L441.79,129.55 L447.41,129.55Z" fill="#7ab44c" stroke="none" stroke-width="1"/>
<path d="M454.60,124.69 L451.79,129.55 L457.41,129.55Z" fill="#7ab44c" stroke="none" stroke-width="1"/>
<path d="M469.20,108.19 L466.39,113.05 L472.01,113.05Z" fill="#7ab44c" stroke="none" stroke-width="1"/>
<path d="M478.30,101.39 L475.49,106.25 L481.11,106.25Z" fill="#7ab44c" stroke="none" stroke-width="1"/>
<path d="M493.00,92.79 L490.19,97.65 L495.81,97.65Z" fill="#7ab44c" stroke="none" stroke-width="1"/>
<path d="M430.60,131.70 L444.60,127.70 L454.60,127.70 L469.20,118.10 L478.30,112.90 L492.70,118.70" fill="none" stroke="#25437c" stroke-width="1.7" stroke-linejoin="round"/>
<line x1="430.60" y1="129.00" x2="430.60" y2="134.40" stroke="#25437c" stroke-width="1.2"/>
<line x1="428.00" y1="129.00" x2="433.20" y2="129.00" stroke="#25437c" stroke-width="1.2"/>
<line x1="428.00" y1="134.40" x2="433.20" y2="134.40" stroke="#25437c" stroke-width="1.2"/>
<line x1="444.60" y1="126.20" x2="444.60" y2="129.20" stroke="#25437c" stroke-width="1.2"/>
<line x1="442.00" y1="126.20" x2="447.20" y2="126.20" stroke="#25437c" stroke-width="1.2"/>
<line x1="442.00" y1="129.20" x2="447.20" y2="129.20" stroke="#25437c" stroke-width="1.2"/>
<line x1="454.60" y1="126.20" x2="454.60" y2="129.20" stroke="#25437c" stroke-width="1.2"/>
<line x1="452.00" y1="126.20" x2="457.20" y2="126.20" stroke="#25437c" stroke-width="1.2"/>
<line x1="452.00" y1="129.20" x2="457.20" y2="129.20" stroke="#25437c" stroke-width="1.2"/>
<line x1="469.20" y1="115.60" x2="469.20" y2="120.60" stroke="#25437c" stroke-width="1.2"/>
<line x1="466.60" y1="115.60" x2="471.80" y2="115.60" stroke="#25437c" stroke-width="1.2"/>
<line x1="466.60" y1="120.60" x2="471.80" y2="120.60" stroke="#25437c" stroke-width="1.2"/>
<line x1="478.30" y1="109.10" x2="478.30" y2="116.70" stroke="#25437c" stroke-width="1.2"/>
<line x1="475.70" y1="109.10" x2="480.90" y2="109.10" stroke="#25437c" stroke-width="1.2"/>
<line x1="475.70" y1="116.70" x2="480.90" y2="116.70" stroke="#25437c" stroke-width="1.2"/>
<line x1="492.70" y1="115.20" x2="492.70" y2="122.20" stroke="#25437c" stroke-width="1.2"/>
<line x1="490.10" y1="115.20" x2="495.30" y2="115.20" stroke="#25437c" stroke-width="1.2"/>
<line x1="490.10" y1="122.20" x2="495.30" y2="122.20" stroke="#25437c" stroke-width="1.2"/>
<rect x="428.33" y="129.43" width="4.54" height="4.54" fill="#25437c" stroke="none" stroke-width="1"/>
<rect x="442.33" y="125.43" width="4.54" height="4.54" fill="#25437c" stroke="none" stroke-width="1"/>
<rect x="452.33" y="125.43" width="4.54" height="4.54" fill="#25437c" stroke="none" stroke-width="1"/>
<rect x="466.93" y="115.83" width="4.54" height="4.54" fill="#25437c" stroke="none" stroke-width="1"/>
<rect x="476.03" y="110.63" width="4.54" height="4.54" fill="#25437c" stroke="none" stroke-width="1"/>
<rect x="490.43" y="116.43" width="4.54" height="4.54" fill="#25437c" stroke="none" stroke-width="1"/>
<path d="M430.20,105.20 L444.60,94.60 L454.60,71.20 L468.70,69.60 L478.30,60.60 L492.70,58.50" fill="none" stroke="#9c1439" stroke-width="1.7" stroke-linejoin="round"/>
<line x1="430.20" y1="102.50" x2="430.20" y2="107.90" stroke="#9c1439" stroke-width="1.2"/>
<line x1="427.60" y1="102.50" x2="432.80" y2="102.50" stroke="#9c1439" stroke-width="1.2"/>
<line x1="427.60" y1="107.90" x2="432.80" y2="107.90" stroke="#9c1439" stroke-width="1.2"/>
<line x1="444.60" y1="89.80" x2="444.60" y2="99.40" stroke="#9c1439" stroke-width="1.2"/>
<line x1="442.00" y1="89.80" x2="447.20" y2="89.80" stroke="#9c1439" stroke-width="1.2"/>
<line x1="442.00" y1="99.40" x2="447.20" y2="99.40" stroke="#9c1439" stroke-width="1.2"/>
<line x1="454.60" y1="67.70" x2="454.60" y2="74.70" stroke="#9c1439" stroke-width="1.2"/>
<line x1="452.00" y1="67.70" x2="457.20" y2="67.70" stroke="#9c1439" stroke-width="1.2"/>
<line x1="452.00" y1="74.70" x2="457.20" y2="74.70" stroke="#9c1439" stroke-width="1.2"/>
<line x1="468.70" y1="66.00" x2="468.70" y2="73.20" stroke="#9c1439" stroke-width="1.2"/>
<line x1="466.10" y1="66.00" x2="471.30" y2="66.00" stroke="#9c1439" stroke-width="1.2"/>
<line x1="466.10" y1="73.20" x2="471.30" y2="73.20" stroke="#9c1439" stroke-width="1.2"/>
<line x1="478.30" y1="51.90" x2="478.30" y2="69.30" stroke="#9c1439" stroke-width="1.2"/>
<line x1="475.70" y1="51.90" x2="480.90" y2="51.90" stroke="#9c1439" stroke-width="1.2"/>
<line x1="475.70" y1="69.30" x2="480.90" y2="69.30" stroke="#9c1439" stroke-width="1.2"/>
<line x1="492.70" y1="52.30" x2="492.70" y2="64.70" stroke="#9c1439" stroke-width="1.2"/>
<line x1="490.10" y1="52.30" x2="495.30" y2="52.30" stroke="#9c1439" stroke-width="1.2"/>
<line x1="490.10" y1="64.70" x2="495.30" y2="64.70" stroke="#9c1439" stroke-width="1.2"/>
<circle cx="430.20" cy="105.20" r="2.38" fill="#9c1439"/>
<circle cx="444.60" cy="94.60" r="2.38" fill="#9c1439"/>
<circle cx="454.60" cy="71.20" r="2.38" fill="#9c1439"/>
<circle cx="468.70" cy="69.60" r="2.38" fill="#9c1439"/>
<circle cx="478.30" cy="60.60" r="2.38" fill="#9c1439"/>
<circle cx="492.70" cy="58.50" r="2.38" fill="#9c1439"/>
<circle cx="444.30" cy="83.80" r="1.05" fill="#111"/>
<circle cx="453.80" cy="62.00" r="1.05" fill="#111"/>
<circle cx="465.70" cy="59.50" r="1.05" fill="#111"/>
<circle cx="468.80" cy="59.50" r="1.05" fill="#111"/>
<circle cx="471.90" cy="59.50" r="1.05" fill="#111"/>
<circle cx="475.95" cy="47.80" r="1.05" fill="#111"/>
<circle cx="479.05" cy="47.80" r="1.05" fill="#111"/>
<circle cx="489.90" cy="47.80" r="1.05" fill="#111"/>
<circle cx="493.00" cy="47.80" r="1.05" fill="#111"/>
<circle cx="496.10" cy="47.80" r="1.05" fill="#111"/>
<circle cx="469.20" cy="104.20" r="1.05" fill="#111"/>
<circle cx="478.30" cy="93.10" r="1.05" fill="#111"/>
<circle cx="491.45" cy="87.90" r="1.05" fill="#111"/>
<circle cx="494.55" cy="87.90" r="1.05" fill="#111"/>
<circle cx="469.20" cy="125.80" r="1.05" fill="#111"/>
<circle cx="478.30" cy="120.60" r="1.05" fill="#111"/>
<circle cx="492.70" cy="125.40" r="1.05" fill="#111"/>
<text x="71.30" y="205.00" font-size="9.4" text-anchor="start" textLength="30.70" lengthAdjust="spacingAndGlyphs" fill="#111" stroke="#111" stroke-width="0.12">Vehicle</text>
<text x="131.20" y="205.00" font-size="9.4" text-anchor="start" textLength="21.30" lengthAdjust="spacingAndGlyphs" fill="#111" stroke="#111" stroke-width="0.12">5000</text>
<text x="183.30" y="205.00" font-size="9.4" text-anchor="start" textLength="26.70" lengthAdjust="spacingAndGlyphs" fill="#111" stroke="#111" stroke-width="0.12">20000</text>
<line x1="61.30" y1="210.50" x2="111.30" y2="210.50" stroke="#000" stroke-width="1.5"/>
<line x1="115.00" y1="210.50" x2="220.80" y2="210.50" stroke="#000" stroke-width="1.5"/>
<rect x="60.20" y="216.20" width="50.30" height="46.10" fill="#fff" stroke="#9a9a9a" stroke-width="0.9"/>
<g filter="url(#blur3)">
<path d="M83.10,249.20 L84.00,231.70 Q84.50,229.10 86.70,229.30 Q89.30,228.70 89.10,231.50 L89.60,249.20Z" fill="#1a3f98" stroke="none" stroke-width="1"/>
<path d="M83.90,249.20 L84.80,232.10 Q85.10,230.10 86.70,230.10 Q88.50,229.70 88.40,231.90 L88.70,249.20Z" fill="#2a62c4" stroke="none" stroke-width="1"/>
<path d="M82.70,243.70 C80.50,250.60 81.10,256.60 82.90,263.30 L89.50,263.30 C91.30,256.60 91.90,250.60 89.70,243.70Z" fill="#1a3f98" stroke="none" stroke-width="1"/>
<path d="M83.30,244.70 C81.50,250.60 82.10,256.60 83.70,263.30 L88.70,263.30 C90.30,256.60 90.90,250.60 89.10,244.70Z" fill="#3ea4e6" stroke="none" stroke-width="1"/>
<ellipse cx="86.20" cy="253.20" rx="3.0" ry="4.8" fill="#4cc4b4"/>
<ellipse cx="86.20" cy="253.00" rx="2.2" ry="3.4" fill="#7cc848"/>
<ellipse cx="86.20" cy="252.60" rx="1.45" ry="2.1" fill="#e6d22e"/>
<ellipse cx="86.20" cy="252.60" rx="0.85" ry="1.1" fill="#e05a1c"/>
</g>
<line x1="60.20" y1="246.20" x2="110.50" y2="246.20" stroke="#7e0f2f" stroke-width="1.9"/>
<text x="109.80" y="223.70" font-size="7.4" text-anchor="end" font-weight="bold" fill="#111">11.4</text>
<rect x="115.80" y="216.20" width="50.40" height="46.10" fill="#fff" stroke="#9a9a9a" stroke-width="0.9"/>
<g filter="url(#blur3)">
<path d="M138.90,249.20 L139.80,233.20 Q140.30,230.60 142.50,230.80 Q145.10,230.20 144.90,233.00 L145.40,249.20Z" fill="#1a3f98" stroke="none" stroke-width="1"/>
<path d="M139.70,249.20 L140.60,233.60 Q140.90,231.60 142.50,231.60 Q144.30,231.20 144.20,233.40 L144.50,249.20Z" fill="#2a62c4" stroke="none" stroke-width="1"/>
<path d="M138.50,243.70 C136.30,250.60 136.90,256.60 138.70,263.30 L145.30,263.30 C147.10,256.60 147.70,250.60 145.50,243.70Z" fill="#1a3f98" stroke="none" stroke-width="1"/>
<path d="M139.10,244.70 C137.30,250.60 137.90,256.60 139.50,263.30 L144.50,263.30 C146.10,256.60 146.70,250.60 144.90,244.70Z" fill="#3ea4e6" stroke="none" stroke-width="1"/>
<ellipse cx="142.00" cy="253.20" rx="3.0" ry="4.8" fill="#4cc4b4"/>
<ellipse cx="142.00" cy="253.00" rx="2.2" ry="3.4" fill="#7cc848"/>
<ellipse cx="142.00" cy="252.60" rx="1.45" ry="2.1" fill="#e6d22e"/>
<ellipse cx="142.00" cy="252.60" rx="0.85" ry="1.1" fill="#e05a1c"/>
</g>
<line x1="115.80" y1="246.20" x2="166.20" y2="246.20" stroke="#7e0f2f" stroke-width="1.9"/>
<text x="165.50" y="223.70" font-size="7.4" text-anchor="end" font-weight="bold" fill="#111">11.6</text>
<rect x="171.70" y="216.20" width="50.60" height="46.10" fill="#fff" stroke="#9a9a9a" stroke-width="0.9"/>
<g filter="url(#blur3)">
<path d="M195.00,249.20 L197.00,226.20 Q197.50,223.60 199.20,223.80 Q202.30,223.20 202.10,226.00 L202.60,249.20Z" fill="#1a3f98" stroke="none" stroke-width="1"/>
<path d="M195.80,249.20 L197.80,226.60 Q198.10,224.60 199.20,224.60 Q201.50,224.20 201.40,226.40 L201.70,249.20Z" fill="#2a62c4" stroke="none" stroke-width="1"/>
<ellipse cx="196.30" cy="226.40" rx="2.0" ry="1.5" fill="#1a3f98"/>
<path d="M197.40,248.20 L197.90,227.50 Q199.20,226.30 200.10,227.80 L200.30,248.20Z" fill="#3b8fe0" stroke="none" stroke-width="1"/>
<path d="M195.20,243.70 C193.00,250.60 193.60,256.60 195.40,263.30 L202.00,263.30 C203.80,256.60 204.40,250.60 202.20,243.70Z" fill="#1a3f98" stroke="none" stroke-width="1"/>
<path d="M195.80,244.70 C194.00,250.60 194.60,256.60 196.20,263.30 L201.20,263.30 C202.80,256.60 203.40,250.60 201.60,244.70Z" fill="#3ea4e6" stroke="none" stroke-width="1"/>
<ellipse cx="198.40" cy="254.60" rx="2.8" ry="7" fill="#4cc4b4"/>
<ellipse cx="198.30" cy="255.10" rx="2.0" ry="5.2" fill="#7cc848"/>
<ellipse cx="198.20" cy="255.60" rx="1.1" ry="2.2" fill="#c8dc40"/>
</g>
<line x1="171.70" y1="246.20" x2="222.30" y2="246.20" stroke="#7e0f2f" stroke-width="1.9"/>
<text x="221.60" y="223.70" font-size="7.4" text-anchor="end" font-weight="bold" fill="#111">21.1</text>
<rect x="60.20" y="266.60" width="50.30" height="44.90" fill="#fff" stroke="#9a9a9a" stroke-width="0.9"/>
<g filter="url(#blur3)">
<path d="M83.70,299.30 L84.60,283.40 Q85.10,280.80 87.30,281.00 Q89.90,280.40 89.70,283.20 L90.20,299.30Z" fill="#1a3f98" stroke="none" stroke-width="1"/>
<path d="M84.50,299.30 L85.40,283.80 Q85.70,281.80 87.30,281.80 Q89.10,281.40 89.00,283.60 L89.30,299.30Z" fill="#2a62c4" stroke="none" stroke-width="1"/>
<path d="M83.30,293.80 C81.10,300.70 81.70,306.70 83.50,312.50 L90.10,312.50 C91.90,306.70 92.50,300.70 90.30,293.80Z" fill="#1a3f98" stroke="none" stroke-width="1"/>
<path d="M83.90,294.80 C82.10,300.70 82.70,306.70 84.30,312.50 L89.30,312.50 C90.90,306.70 91.50,300.70 89.70,294.80Z" fill="#3ea4e6" stroke="none" stroke-width="1"/>
<ellipse cx="86.80" cy="303.30" rx="3.0" ry="4.8" fill="#4cc4b4"/>
<ellipse cx="86.80" cy="303.10" rx="2.2" ry="3.4" fill="#7cc848"/>
<ellipse cx="86.80" cy="302.70" rx="1.45" ry="2.1" fill="#e6d22e"/>
<ellipse cx="86.80" cy="302.70" rx="0.85" ry="1.1" fill="#e05a1c"/>
</g>
<line x1="60.20" y1="296.30" x2="110.50" y2="296.30" stroke="#7e0f2f" stroke-width="1.9"/>
<text x="109.80" y="274.10" font-size="7.4" text-anchor="end" font-weight="bold" fill="#111">12.9</text>
<rect x="115.80" y="266.60" width="50.40" height="44.90" fill="#fff" stroke="#9a9a9a" stroke-width="0.9"/>
<g filter="url(#blur3)">
<path d="M139.90,299.30 L140.80,283.70 Q141.30,281.10 143.50,281.30 Q146.10,280.70 145.90,283.50 L146.40,299.30Z" fill="#1a3f98" stroke="none" stroke-width="1"/>
<path d="M140.70,299.30 L141.60,284.10 Q141.90,282.10 143.50,282.10 Q145.30,281.70 145.20,283.90 L145.50,299.30Z" fill="#2a62c4" stroke="none" stroke-width="1"/>
<path d="M139.50,293.80 C137.30,300.70 137.90,306.70 139.70,312.50 L146.30,312.50 C148.10,306.70 148.70,300.70 146.50,293.80Z" fill="#1a3f98" stroke="none" stroke-width="1"/>
<path d="M140.10,294.80 C138.30,300.70 138.90,306.70 140.50,312.50 L145.50,312.50 C147.10,306.70 147.70,300.70 145.90,294.80Z" fill="#3ea4e6" stroke="none" stroke-width="1"/>
<ellipse cx="143.00" cy="303.30" rx="3.0" ry="4.8" fill="#4cc4b4"/>
<ellipse cx="143.00" cy="303.10" rx="2.2" ry="3.4" fill="#7cc848"/>
<ellipse cx="143.00" cy="302.70" rx="1.45" ry="2.1" fill="#e6d22e"/>
<ellipse cx="143.00" cy="302.70" rx="0.85" ry="1.1" fill="#e05a1c"/>
</g>
<line x1="115.80" y1="296.30" x2="166.20" y2="296.30" stroke="#7e0f2f" stroke-width="1.9"/>
<text x="165.50" y="274.10" font-size="7.4" text-anchor="end" font-weight="bold" fill="#111">14.1</text>
<rect x="171.70" y="266.60" width="50.60" height="44.90" fill="#fff" stroke="#9a9a9a" stroke-width="0.9"/>
<g filter="url(#blur3)">
<path d="M195.80,299.30 L197.80,278.20 Q198.30,275.60 200.00,275.80 Q203.10,275.20 202.90,278.00 L203.40,299.30Z" fill="#1a3f98" stroke="none" stroke-width="1"/>
<path d="M196.60,299.30 L198.60,278.60 Q198.90,276.60 200.00,276.60 Q202.30,276.20 202.20,278.40 L202.50,299.30Z" fill="#2a62c4" stroke="none" stroke-width="1"/>
<path d="M198.20,298.30 L198.70,279.50 Q200.00,278.30 200.90,279.80 L201.10,298.30Z" fill="#3b8fe0" stroke="none" stroke-width="1"/>
<path d="M198.70,298.30 L199.00,284.00 Q199.80,282.50 200.40,284.00 L200.60,298.30Z" fill="#5cc0a0" stroke="none" stroke-width="1"/>
<path d="M196.00,293.80 C193.80,300.70 194.40,306.70 196.20,312.50 L202.80,312.50 C204.60,306.70 205.20,300.70 203.00,293.80Z" fill="#1a3f98" stroke="none" stroke-width="1"/>
<path d="M196.60,294.80 C194.80,300.70 195.40,306.70 197.00,312.50 L202.00,312.50 C203.60,306.70 204.20,300.70 202.40,294.80Z" fill="#3ea4e6" stroke="none" stroke-width="1"/>
<ellipse cx="199.20" cy="304.70" rx="2.8" ry="7" fill="#4cc4b4"/>
<ellipse cx="199.10" cy="305.20" rx="2.0" ry="5.2" fill="#7cc848"/>
<ellipse cx="199.00" cy="305.70" rx="1.1" ry="2.2" fill="#c8dc40"/>
</g>
<line x1="171.70" y1="296.30" x2="222.30" y2="296.30" stroke="#7e0f2f" stroke-width="1.9"/>
<text x="221.60" y="274.10" font-size="7.4" text-anchor="end" font-weight="bold" fill="#111">20.6</text>
<rect x="60.20" y="316.70" width="50.30" height="45.90" fill="#fff" stroke="#9a9a9a" stroke-width="0.9"/>
<g filter="url(#blur3)">
<path d="M82.90,349.50 L83.80,330.40 Q84.30,327.80 86.50,328.00 Q89.10,327.40 88.90,330.20 L89.40,349.50Z" fill="#1a3f98" stroke="none" stroke-width="1"/>
<path d="M83.70,349.50 L84.60,330.80 Q84.90,328.80 86.50,328.80 Q88.30,328.40 88.20,330.60 L88.50,349.50Z" fill="#2a62c4" stroke="none" stroke-width="1"/>
<ellipse cx="83.60" cy="330.70" rx="1.5" ry="1.5" fill="#1f4aa8"/>
<path d="M84.70,348.50 L85.20,331.70 Q86.50,330.50 87.40,332.00 L87.60,348.50Z" fill="#3b8fe0" stroke="none" stroke-width="1"/>
<path d="M82.50,344.00 C80.30,350.90 80.90,356.90 82.70,363.60 L89.30,363.60 C91.10,356.90 91.70,350.90 89.50,344.00Z" fill="#1a3f98" stroke="none" stroke-width="1"/>
<path d="M83.10,345.00 C81.30,350.90 81.90,356.90 83.50,363.60 L88.50,363.60 C90.10,356.90 90.70,350.90 88.90,345.00Z" fill="#3ea4e6" stroke="none" stroke-width="1"/>
<ellipse cx="86.00" cy="353.50" rx="3.0" ry="4.8" fill="#4cc4b4"/>
<ellipse cx="86.00" cy="353.30" rx="2.2" ry="3.4" fill="#7cc848"/>
<ellipse cx="86.00" cy="352.90" rx="1.45" ry="2.1" fill="#e6d22e"/>
<ellipse cx="86.00" cy="352.90" rx="0.85" ry="1.1" fill="#e05a1c"/>
</g>
<line x1="60.20" y1="346.50" x2="110.50" y2="346.50" stroke="#7e0f2f" stroke-width="1.9"/>
<text x="109.80" y="324.20" font-size="7.4" text-anchor="end" font-weight="bold" fill="#111">20.8</text>
<rect x="115.80" y="316.70" width="50.40" height="45.90" fill="#fff" stroke="#9a9a9a" stroke-width="0.9"/>
<g filter="url(#blur3)">
<path d="M139.90,349.50 L140.80,331.00 Q141.30,328.40 143.50,328.60 Q146.10,328.00 145.90,330.80 L146.40,349.50Z" fill="#1a3f98" stroke="none" stroke-width="1"/>
<path d="M140.70,349.50 L141.60,331.40 Q141.90,329.40 143.50,329.40 Q145.30,329.00 145.20,331.20 L145.50,349.50Z" fill="#2a62c4" stroke="none" stroke-width="1"/>
<path d="M141.70,348.50 L142.20,332.30 Q143.50,331.10 144.40,332.60 L144.60,348.50Z" fill="#3b8fe0" stroke="none" stroke-width="1"/>
<path d="M139.50,344.00 C137.30,350.90 137.90,356.90 139.70,363.60 L146.30,363.60 C148.10,356.90 148.70,350.90 146.50,344.00Z" fill="#1a3f98" stroke="none" stroke-width="1"/>
<path d="M140.10,345.00 C138.30,350.90 138.90,356.90 140.50,363.60 L145.50,363.60 C147.10,356.90 147.70,350.90 145.90,345.00Z" fill="#3ea4e6" stroke="none" stroke-width="1"/>
<ellipse cx="143.00" cy="353.50" rx="3.0" ry="4.8" fill="#4cc4b4"/>
<ellipse cx="143.00" cy="353.30" rx="2.2" ry="3.4" fill="#7cc848"/>
<ellipse cx="143.00" cy="352.90" rx="1.45" ry="2.1" fill="#e6d22e"/>
<ellipse cx="143.00" cy="352.90" rx="0.85" ry="1.1" fill="#e05a1c"/>
</g>
<line x1="115.80" y1="346.50" x2="166.20" y2="346.50" stroke="#7e0f2f" stroke-width="1.9"/>
<text x="165.50" y="324.20" font-size="7.4" text-anchor="end" font-weight="bold" fill="#111">31.7</text>
<rect x="171.70" y="316.70" width="50.60" height="45.90" fill="#fff" stroke="#9a9a9a" stroke-width="0.9"/>
<g filter="url(#blur3)">
<path d="M195.80,349.50 L197.80,326.00 Q198.30,323.40 200.00,323.60 Q203.10,323.00 202.90,325.80 L203.40,349.50Z" fill="#1a3f98" stroke="none" stroke-width="1"/>
<path d="M196.60,349.50 L198.60,326.40 Q198.90,324.40 200.00,324.40 Q202.30,324.00 202.20,326.20 L202.50,349.50Z" fill="#2a62c4" stroke="none" stroke-width="1"/>
<path d="M198.20,348.50 L198.70,327.30 Q200.00,326.10 200.90,327.60 L201.10,348.50Z" fill="#3b8fe0" stroke="none" stroke-width="1"/>
<path d="M198.70,348.50 L199.00,331.80 Q199.80,330.30 200.40,331.80 L200.60,348.50Z" fill="#5cc0a0" stroke="none" stroke-width="1"/>
<path d="M198.10,348.50 L198.50,329.80 Q199.80,328.30 200.70,329.80 L201.00,348.50Z" fill="#66c04c" stroke="none" stroke-width="1"/>
<ellipse cx="199.50" cy="334.80" rx="1.1" ry="1.6" fill="#c8dc40"/>
<path d="M196.00,344.00 C193.80,350.90 194.40,356.90 196.20,363.60 L202.80,363.60 C204.60,356.90 205.20,350.90 203.00,344.00Z" fill="#1a3f98" stroke="none" stroke-width="1"/>
<path d="M196.60,345.00 C194.80,350.90 195.40,356.90 197.00,363.60 L202.00,363.60 C203.60,356.90 204.20,350.90 202.40,345.00Z" fill="#3ea4e6" stroke="none" stroke-width="1"/>
<ellipse cx="199.50" cy="353.50" rx="3.0" ry="4.8" fill="#4cc4b4"/>
<ellipse cx="199.50" cy="353.30" rx="2.2" ry="3.4" fill="#7cc848"/>
<ellipse cx="199.50" cy="352.90" rx="1.45" ry="2.1" fill="#e6d22e"/>
<ellipse cx="199.50" cy="352.90" rx="0.85" ry="1.1" fill="#e05a1c"/>
</g>
<line x1="171.70" y1="346.50" x2="222.30" y2="346.50" stroke="#7e0f2f" stroke-width="1.9"/>
<text x="221.60" y="324.20" font-size="7.4" text-anchor="end" font-weight="bold" fill="#111">40.6</text>
<text x="18.80" y="241.80" font-size="9.6" text-anchor="start" textLength="25.00" lengthAdjust="spacingAndGlyphs" fill="#111" stroke="#111" stroke-width="0.12">CD8T</text>
<text x="18.80" y="292.40" font-size="9.6" text-anchor="start" textLength="25.30" lengthAdjust="spacingAndGlyphs" fill="#111" stroke="#111" stroke-width="0.12">Tcons</text>
<text x="18.80" y="342.70" font-size="9.6" text-anchor="start" textLength="25.00" lengthAdjust="spacingAndGlyphs" fill="#111" stroke="#111" stroke-width="0.12">Tregs</text>
<line x1="52.80" y1="330.10" x2="52.80" y2="221.20" stroke="#111" stroke-width="1.2"/>
<path d="M52.80,216.20 L50.20,222.20 L55.40,222.20Z" fill="#111" stroke="none" stroke-width="1"/>
<text x="55.40" y="343.60" font-size="8.8" text-anchor="middle" textLength="20.20" lengthAdjust="spacingAndGlyphs" transform="rotate(-90 55.40 343.60)" fill="#111" stroke="#111" stroke-width="0.12">Ki-67</text>
<text x="63.10" y="373.40" font-size="9.4" text-anchor="start" textLength="14.90" lengthAdjust="spacingAndGlyphs" fill="#111" stroke="#111" stroke-width="0.12">SSc</text>
<line x1="81.30" y1="370.20" x2="217.60" y2="370.20" stroke="#111" stroke-width="1.2"/>
<path d="M222.60,370.20 L216.60,367.60 L216.60,372.80Z" fill="#111" stroke="none" stroke-width="1"/>
<line x1="293.40" y1="214.90" x2="293.40" y2="317.40" stroke="#000" stroke-width="1.4"/>
<line x1="292.80" y1="316.70" x2="389.20" y2="316.70" stroke="#000" stroke-width="1.4"/>
<line x1="290.80" y1="316.30" x2="293.40" y2="316.30" stroke="#000" stroke-width="1.1"/>
<text x="287.70" y="319.20" font-size="8" text-anchor="end" fill="#111" stroke="#111" stroke-width="0.12">0</text>
<line x1="290.80" y1="293.90" x2="293.40" y2="293.90" stroke="#000" stroke-width="1.1"/>
<text x="287.70" y="296.80" font-size="8" text-anchor="end" fill="#111" stroke="#111" stroke-width="0.12">10</text>
<line x1="290.80" y1="271.50" x2="293.40" y2="271.50" stroke="#000" stroke-width="1.1"/>
<text x="287.70" y="274.40" font-size="8" text-anchor="end" fill="#111" stroke="#111" stroke-width="0.12">20</text>
<line x1="290.80" y1="249.10" x2="293.40" y2="249.10" stroke="#000" stroke-width="1.1"/>
<text x="287.70" y="252.00" font-size="8" text-anchor="end" fill="#111" stroke="#111" stroke-width="0.12">30</text>
<line x1="290.80" y1="226.70" x2="293.40" y2="226.70" stroke="#000" stroke-width="1.1"/>
<text x="287.70" y="229.60" font-size="8" text-anchor="end" fill="#111" stroke="#111" stroke-width="0.12">40</text>
<line x1="309.20" y1="316.70" x2="309.20" y2="319.40" stroke="#000" stroke-width="1.1"/>
<line x1="341.50" y1="316.70" x2="341.50" y2="319.40" stroke="#000" stroke-width="1.1"/>
<line x1="373.20" y1="316.70" x2="373.20" y2="319.40" stroke="#000" stroke-width="1.1"/>
<text x="309.20" y="330.00" font-size="8" text-anchor="middle" textLength="26.40" lengthAdjust="spacingAndGlyphs" fill="#111" stroke="#111" stroke-width="0.12">Vehicle</text>
<text x="341.50" y="330.00" font-size="8" text-anchor="middle" fill="#111" stroke="#111" stroke-width="0.12">5000</text>
<text x="373.20" y="330.00" font-size="8" text-anchor="middle" fill="#111" stroke="#111" stroke-width="0.12">20000</text>
<text x="311.40" y="342.60" font-size="8.8" text-anchor="start" textLength="59.00" lengthAdjust="spacingAndGlyphs" fill="#111" stroke="#111" stroke-width="0.12">IL-2(IU/mouse)</text>
<text x="272.90" y="266.00" font-size="9" text-anchor="middle" textLength="35.00" lengthAdjust="spacingAndGlyphs" transform="rotate(-90 272.90 266.00)" fill="#111" stroke="#111" stroke-width="0.12">Ki-67(%)</text>
<line x1="326.70" y1="215.40" x2="326.70" y2="316.70" stroke="#111" stroke-width="1.3" stroke-dasharray="1.7,2.1"/>
<line x1="357.70" y1="215.40" x2="357.70" y2="316.70" stroke="#111" stroke-width="1.3" stroke-dasharray="1.7,2.1"/>
<path d="M309.20,285.40 L341.50,288.60 L373.20,277.80" fill="none" stroke="#7ab44c" stroke-width="1.4" stroke-linejoin="round"/>
<line x1="373.20" y1="276.40" x2="373.20" y2="279.20" stroke="#7ab44c" stroke-width="1.2"/>
<line x1="370.60" y1="276.40" x2="375.80" y2="276.40" stroke="#7ab44c" stroke-width="1.2"/>
<line x1="370.60" y1="279.20" x2="375.80" y2="279.20" stroke="#7ab44c" stroke-width="1.2"/>
<path d="M309.20,282.80 L306.60,287.30 L311.80,287.30Z" fill="#7ab44c" stroke="none" stroke-width="1"/>
<path d="M341.50,286.00 L338.90,290.50 L344.10,290.50Z" fill="#7ab44c" stroke="none" stroke-width="1"/>
<path d="M373.20,275.20 L370.60,279.70 L375.80,279.70Z" fill="#7ab44c" stroke="none" stroke-width="1"/>
<path d="M309.20,283.20 L341.50,282.20 L373.20,273.70" fill="none" stroke="#25437c" stroke-width="1.6" stroke-linejoin="round"/>
<line x1="373.20" y1="272.70" x2="373.20" y2="274.70" stroke="#25437c" stroke-width="1.2"/>
<line x1="370.60" y1="272.70" x2="375.80" y2="272.70" stroke="#25437c" stroke-width="1.2"/>
<line x1="370.60" y1="274.70" x2="375.80" y2="274.70" stroke="#25437c" stroke-width="1.2"/>
<rect x="307.10" y="281.10" width="4.20" height="4.20" fill="#25437c" stroke="none" stroke-width="1"/>
<rect x="339.40" y="280.10" width="4.20" height="4.20" fill="#25437c" stroke="none" stroke-width="1"/>
<rect x="371.10" y="271.60" width="4.20" height="4.20" fill="#25437c" stroke="none" stroke-width="1"/>
<path d="M309.20,265.20 L341.50,245.50 L373.20,228.40" fill="none" stroke="#9c1439" stroke-width="1.6" stroke-linejoin="round"/>
<line x1="341.50" y1="243.90" x2="341.50" y2="247.10" stroke="#9c1439" stroke-width="1.2"/>
<line x1="338.90" y1="243.90" x2="344.10" y2="243.90" stroke="#9c1439" stroke-width="1.2"/>
<line x1="338.90" y1="247.10" x2="344.10" y2="247.10" stroke="#9c1439" stroke-width="1.2"/>
<circle cx="309.20" cy="265.20" r="2.20" fill="#9c1439"/>
<circle cx="341.50" cy="245.50" r="2.20" fill="#9c1439"/>
<circle cx="373.20" cy="228.40" r="2.20" fill="#9c1439"/>
<circle cx="338.40" cy="238.30" r="1.05" fill="#111"/>
<circle cx="341.50" cy="238.30" r="1.05" fill="#111"/>
<circle cx="344.60" cy="238.30" r="1.05" fill="#111"/>
<circle cx="368.55" cy="222.60" r="1.05" fill="#111"/>
<circle cx="371.65" cy="222.60" r="1.05" fill="#111"/>
<circle cx="374.75" cy="222.60" r="1.05" fill="#111"/>
<circle cx="377.85" cy="222.60" r="1.05" fill="#111"/>
<circle cx="373.20" cy="267.00" r="1.05" fill="#111"/>
<circle cx="371.65" cy="284.50" r="1.05" fill="#111"/>
<circle cx="374.75" cy="284.50" r="1.05" fill="#111"/>
<line x1="397.30" y1="265.40" x2="410.20" y2="265.40" stroke="#7ab44c" stroke-width="1.5"/>
<path d="M403.70,262.93 L401.23,267.20 L406.17,267.20Z" fill="#7ab44c" stroke="none" stroke-width="1"/>
<text x="413.70" y="268.10" font-size="7.6" text-anchor="start" textLength="18.70" lengthAdjust="spacingAndGlyphs" fill="#111" stroke="#111" stroke-width="0.12">CD8T</text>
<line x1="397.30" y1="276.50" x2="410.20" y2="276.50" stroke="#25437c" stroke-width="1.5"/>
<rect x="401.70" y="274.50" width="3.99" height="3.99" fill="#25437c" stroke="none" stroke-width="1"/>
<text x="413.70" y="279.20" font-size="7.6" text-anchor="start" textLength="19.80" lengthAdjust="spacingAndGlyphs" fill="#111" stroke="#111" stroke-width="0.12">Tcons</text>
<line x1="397.30" y1="287.90" x2="410.20" y2="287.90" stroke="#9c1439" stroke-width="1.5"/>
<circle cx="403.70" cy="287.90" r="2.09" fill="#9c1439"/>
<text x="413.70" y="290.60" font-size="7.6" text-anchor="start" textLength="19.00" lengthAdjust="spacingAndGlyphs" fill="#111" stroke="#111" stroke-width="0.12">Tregs</text>
<text x="66.30" y="410.40" font-size="9.8" text-anchor="start" textLength="47.50" lengthAdjust="spacingAndGlyphs" fill="#111" stroke="#111" stroke-width="0.12">CD4T gate</text>
<line x1="36.30" y1="415.00" x2="143.80" y2="415.00" stroke="#000" stroke-width="1.5"/>
<text x="49.50" y="427.60" font-size="7.6" text-anchor="start" textLength="23.70" lengthAdjust="spacingAndGlyphs" fill="#111" stroke="#111" stroke-width="0.12">Vehicle</text>
<text x="112.00" y="427.60" font-size="7.6" text-anchor="start" textLength="12.50" lengthAdjust="spacingAndGlyphs" fill="#111" stroke="#111" stroke-width="0.12">IL-2</text>
<rect x="35.60" y="432.40" width="52.10" height="51.20" fill="#fff" stroke="#b8b8b8" stroke-width="0.8"/>
<clipPath id="cpE0"><rect x="35.9" y="432.7" width="51.5" height="50.6"/></clipPath>
<g clip-path="url(#cpE0)"><g filter="url(#blur4)">
<path d="M67.0,453.4h1.0v1.0h-1.0zM65.8,460.7h1.0v1.0h-1.0zM67.0,449.7h1.0v1.0h-1.0zM67.8,455.5h1.0v1.0h-1.0zM63.0,458.3h1.0v1.0h-1.0zM69.2,450.2h1.0v1.0h-1.0zM69.1,451.8h1.0v1.0h-1.0zM67.4,449.7h1.0v1.0h-1.0zM69.3,446.8h1.0v1.0h-1.0zM62.3,460.9h1.0v1.0h-1.0zM64.8,465.2h1.0v1.0h-1.0zM68.3,450.0h1.0v1.0h-1.0zM67.0,464.0h1.0v1.0h-1.0zM60.0,463.7h1.0v1.0h-1.0zM68.9,448.3h1.0v1.0h-1.0zM69.1,454.1h1.0v1.0h-1.0zM69.9,452.0h1.0v1.0h-1.0zM61.4,462.2h1.0v1.0h-1.0zM63.7,458.4h1.0v1.0h-1.0zM66.7,457.9h1.0v1.0h-1.0zM66.7,459.2h1.0v1.0h-1.0zM66.6,456.2h1.0v1.0h-1.0zM71.9,449.8h1.0v1.0h-1.0zM67.0,451.3h1.0v1.0h-1.0zM65.9,450.7h1.0v1.0h-1.0zM63.3,462.8h1.0v1.0h-1.0zM65.5,450.7h1.0v1.0h-1.0zM70.3,451.9h1.0v1.0h-1.0zM66.8,454.6h1.0v1.0h-1.0zM68.2,454.5h1.0v1.0h-1.0zM67.9,451.0h1.0v1.0h-1.0zM65.8,453.3h1.0v1.0h-1.0zM70.5,446.5h1.0v1.0h-1.0zM64.1,457.8h1.0v1.0h-1.0zM63.0,463.3h1.0v1.0h-1.0zM66.3,466.4h1.0v1.0h-1.0zM69.6,447.9h1.0v1.0h-1.0zM69.4,446.2h1.0v1.0h-1.0zM62.4,462.7h1.0v1.0h-1.0zM66.6,452.3h1.0v1.0h-1.0zM64.1,463.1h1.0v1.0h-1.0zM67.1,456.1h1.0v1.0h-1.0zM65.8,452.1h1.0v1.0h-1.0zM66.3,456.7h1.0v1.0h-1.0zM63.2,457.6h1.0v1.0h-1.0zM62.2,460.4h1.0v1.0h-1.0zM68.8,449.1h1.0v1.0h-1.0zM71.3,451.9h1.0v1.0h-1.0zM69.4,451.4h1.0v1.0h-1.0zM64.0,458.7h1.0v1.0h-1.0zM64.9,449.4h1.0v1.0h-1.0zM64.2,462.7h1.0v1.0h-1.0zM66.2,457.7h1.0v1.0h-1.0zM70.1,457.1h1.0v1.0h-1.0zM67.5,460.6h1.0v1.0h-1.0zM65.9,451.5h1.0v1.0h-1.0zM64.3,453.9h1.0v1.0h-1.0zM67.5,452.9h1.0v1.0h-1.0zM62.3,462.2h1.0v1.0h-1.0zM65.4,448.9h1.0v1.0h-1.0zM67.7,454.8h1.0v1.0h-1.0zM65.5,458.5h1.0v1.0h-1.0zM69.8,446.1h1.0v1.0h-1.0zM63.2,455.8h1.0v1.0h-1.0zM68.3,448.6h1.0v1.0h-1.0z" fill="#4a92c8" opacity="0.42"/>
<path d="M68.5,448.1h1.0v1.0h-1.0zM67.3,450.8h1.0v1.0h-1.0zM65.4,462.2h1.0v1.0h-1.0zM69.2,450.0h1.0v1.0h-1.0zM62.6,457.1h1.0v1.0h-1.0zM69.3,457.2h1.0v1.0h-1.0zM64.8,460.9h1.0v1.0h-1.0zM65.2,459.6h1.0v1.0h-1.0zM67.3,460.9h1.0v1.0h-1.0zM70.3,448.3h1.0v1.0h-1.0zM66.9,454.4h1.0v1.0h-1.0zM64.5,455.2h1.0v1.0h-1.0zM63.1,457.4h1.0v1.0h-1.0zM66.3,450.9h1.0v1.0h-1.0zM70.3,449.2h1.0v1.0h-1.0zM67.6,459.9h1.0v1.0h-1.0zM68.1,450.2h1.0v1.0h-1.0zM70.4,450.8h1.0v1.0h-1.0zM71.2,449.9h1.0v1.0h-1.0zM67.3,457.3h1.0v1.0h-1.0zM67.0,453.1h1.0v1.0h-1.0zM65.1,454.0h1.0v1.0h-1.0zM67.6,459.6h1.0v1.0h-1.0zM68.9,448.3h1.0v1.0h-1.0zM68.0,449.2h1.0v1.0h-1.0zM61.5,462.9h1.0v1.0h-1.0zM65.3,456.9h1.0v1.0h-1.0zM63.3,463.0h1.0v1.0h-1.0zM67.7,451.2h1.0v1.0h-1.0zM65.0,458.6h1.0v1.0h-1.0zM68.2,455.4h1.0v1.0h-1.0zM63.5,458.5h1.0v1.0h-1.0zM66.6,460.5h1.0v1.0h-1.0zM66.5,455.5h1.0v1.0h-1.0zM66.7,458.5h1.0v1.0h-1.0zM66.4,447.4h1.0v1.0h-1.0zM62.8,463.5h1.0v1.0h-1.0zM70.8,453.5h1.0v1.0h-1.0zM66.9,454.1h1.0v1.0h-1.0zM68.9,452.5h1.0v1.0h-1.0zM66.3,453.6h1.0v1.0h-1.0zM66.1,460.2h1.0v1.0h-1.0zM67.2,460.8h1.0v1.0h-1.0zM66.3,452.5h1.0v1.0h-1.0zM67.1,452.7h1.0v1.0h-1.0zM65.7,460.1h1.0v1.0h-1.0zM62.7,457.6h1.0v1.0h-1.0zM67.6,453.2h1.0v1.0h-1.0zM68.0,444.6h1.0v1.0h-1.0zM67.1,456.5h1.0v1.0h-1.0zM68.0,452.9h1.0v1.0h-1.0zM65.9,451.4h1.0v1.0h-1.0zM66.0,452.4h1.0v1.0h-1.0zM70.8,454.0h1.0v1.0h-1.0zM64.8,462.0h1.0v1.0h-1.0zM71.3,448.9h1.0v1.0h-1.0zM68.4,447.5h1.0v1.0h-1.0zM66.4,452.3h1.0v1.0h-1.0zM69.2,451.8h1.0v1.0h-1.0zM70.7,451.0h1.0v1.0h-1.0zM67.4,451.7h1.0v1.0h-1.0zM65.5,456.6h1.0v1.0h-1.0zM68.5,452.6h1.0v1.0h-1.0zM69.7,453.4h1.0v1.0h-1.0zM64.9,460.8h1.0v1.0h-1.0z" fill="#4a92c8" opacity="0.42"/>
<path d="M65.5,460.0h1.0v1.0h-1.0zM69.1,453.4h1.0v1.0h-1.0zM68.1,451.0h1.0v1.0h-1.0zM68.0,448.5h1.0v1.0h-1.0zM70.3,450.5h1.0v1.0h-1.0zM61.7,463.6h1.0v1.0h-1.0zM64.0,460.2h1.0v1.0h-1.0zM60.9,463.5h1.0v1.0h-1.0zM66.6,456.5h1.0v1.0h-1.0zM69.9,450.3h1.0v1.0h-1.0zM62.1,465.5h1.0v1.0h-1.0zM70.5,447.1h1.0v1.0h-1.0zM64.3,459.1h1.0v1.0h-1.0zM68.6,451.0h1.0v1.0h-1.0zM68.0,453.9h1.0v1.0h-1.0zM67.0,449.5h1.0v1.0h-1.0zM69.4,447.8h1.0v1.0h-1.0zM66.0,459.8h1.0v1.0h-1.0zM68.9,450.4h1.0v1.0h-1.0zM67.4,454.2h1.0v1.0h-1.0zM65.6,456.1h1.0v1.0h-1.0zM63.7,455.2h1.0v1.0h-1.0zM67.4,454.4h1.0v1.0h-1.0zM69.6,447.5h1.0v1.0h-1.0zM67.3,451.5h1.0v1.0h-1.0zM64.5,456.9h1.0v1.0h-1.0zM69.0,447.9h1.0v1.0h-1.0zM71.3,451.1h1.0v1.0h-1.0zM67.1,461.5h1.0v1.0h-1.0zM66.6,452.1h1.0v1.0h-1.0zM64.7,462.5h1.0v1.0h-1.0zM67.5,462.0h1.0v1.0h-1.0zM63.3,463.1h1.0v1.0h-1.0zM68.8,457.7h1.0v1.0h-1.0zM66.5,454.7h1.0v1.0h-1.0zM65.8,456.8h1.0v1.0h-1.0zM69.7,449.9h1.0v1.0h-1.0zM67.1,455.2h1.0v1.0h-1.0zM64.6,456.8h1.0v1.0h-1.0zM69.7,447.1h1.0v1.0h-1.0zM66.5,455.8h1.0v1.0h-1.0zM67.3,453.1h1.0v1.0h-1.0zM66.7,454.7h1.0v1.0h-1.0zM67.8,453.4h1.0v1.0h-1.0zM66.7,455.1h1.0v1.0h-1.0zM70.4,451.1h1.0v1.0h-1.0zM66.0,452.6h1.0v1.0h-1.0zM66.7,452.4h1.0v1.0h-1.0zM63.5,464.6h1.0v1.0h-1.0zM66.6,449.2h1.0v1.0h-1.0zM66.1,454.4h1.0v1.0h-1.0zM65.5,457.6h1.0v1.0h-1.0zM67.0,454.7h1.0v1.0h-1.0zM65.9,456.2h1.0v1.0h-1.0zM67.7,450.2h1.0v1.0h-1.0zM67.0,448.8h1.0v1.0h-1.0zM69.0,451.1h1.0v1.0h-1.0zM64.8,464.5h1.0v1.0h-1.0zM68.3,456.2h1.0v1.0h-1.0zM63.5,458.0h1.0v1.0h-1.0zM64.7,463.5h1.0v1.0h-1.0zM65.7,457.2h1.0v1.0h-1.0zM63.2,461.0h1.0v1.0h-1.0zM67.6,458.5h1.0v1.0h-1.0zM66.9,449.4h1.0v1.0h-1.0z" fill="#4a92c8" opacity="0.42"/>
<path d="M61.1,463.4h1.0v1.0h-1.0zM67.3,462.1h1.0v1.0h-1.0zM64.4,459.2h1.0v1.0h-1.0zM66.7,462.9h1.0v1.0h-1.0zM69.4,450.9h1.0v1.0h-1.0zM61.8,458.5h1.0v1.0h-1.0zM65.3,459.2h1.0v1.0h-1.0zM66.5,455.7h1.0v1.0h-1.0zM66.7,460.9h1.0v1.0h-1.0zM63.8,458.8h1.0v1.0h-1.0zM65.0,451.4h1.0v1.0h-1.0zM67.4,459.3h1.0v1.0h-1.0zM69.2,450.5h1.0v1.0h-1.0zM68.5,447.5h1.0v1.0h-1.0zM67.4,450.9h1.0v1.0h-1.0zM64.9,461.6h1.0v1.0h-1.0zM69.0,452.5h1.0v1.0h-1.0zM69.2,448.5h1.0v1.0h-1.0zM66.9,450.5h1.0v1.0h-1.0zM68.3,451.1h1.0v1.0h-1.0zM64.0,458.1h1.0v1.0h-1.0zM70.2,450.4h1.0v1.0h-1.0zM68.4,449.1h1.0v1.0h-1.0zM67.6,455.2h1.0v1.0h-1.0zM64.6,463.4h1.0v1.0h-1.0zM67.3,450.7h1.0v1.0h-1.0zM67.0,457.3h1.0v1.0h-1.0zM64.0,461.6h1.0v1.0h-1.0zM62.5,463.3h1.0v1.0h-1.0zM64.6,456.6h1.0v1.0h-1.0zM68.2,446.2h1.0v1.0h-1.0zM63.5,464.7h1.0v1.0h-1.0zM64.2,465.2h1.0v1.0h-1.0zM67.5,451.9h1.0v1.0h-1.0zM66.1,454.1h1.0v1.0h-1.0zM67.0,450.3h1.0v1.0h-1.0zM67.9,451.0h1.0v1.0h-1.0zM67.5,460.6h1.0v1.0h-1.0zM64.4,461.9h1.0v1.0h-1.0zM71.3,448.5h1.0v1.0h-1.0zM68.6,453.5h1.0v1.0h-1.0zM67.2,455.0h1.0v1.0h-1.0zM68.5,451.1h1.0v1.0h-1.0zM67.4,451.6h1.0v1.0h-1.0zM65.7,458.5h1.0v1.0h-1.0zM66.7,451.9h1.0v1.0h-1.0zM67.4,459.0h1.0v1.0h-1.0zM64.8,450.3h1.0v1.0h-1.0zM64.8,459.2h1.0v1.0h-1.0zM70.0,448.8h1.0v1.0h-1.0zM60.0,466.7h1.0v1.0h-1.0zM69.9,452.5h1.0v1.0h-1.0zM65.6,459.6h1.0v1.0h-1.0zM68.5,449.2h1.0v1.0h-1.0zM65.6,459.3h1.0v1.0h-1.0zM67.5,455.4h1.0v1.0h-1.0zM68.8,450.1h1.0v1.0h-1.0zM63.5,459.3h1.0v1.0h-1.0zM68.6,446.5h1.0v1.0h-1.0zM66.9,449.9h1.0v1.0h-1.0zM70.5,449.4h1.0v1.0h-1.0zM69.9,448.3h1.0v1.0h-1.0zM65.4,452.2h1.0v1.0h-1.0zM67.9,448.6h1.0v1.0h-1.0zM65.7,461.2h1.0v1.0h-1.0z" fill="#4a92c8" opacity="0.42"/>
<path d="M59.5,483.1h1.0v1.0h-1.0zM47.1,471.8h1.0v1.0h-1.0zM51.0,479.2h1.0v1.0h-1.0zM45.6,473.9h1.0v1.0h-1.0zM49.4,474.3h1.0v1.0h-1.0zM44.9,479.0h1.0v1.0h-1.0zM55.2,478.9h1.0v1.0h-1.0zM50.5,473.6h1.0v1.0h-1.0zM49.9,477.3h1.0v1.0h-1.0zM49.7,478.4h1.0v1.0h-1.0zM48.5,481.4h1.0v1.0h-1.0zM51.9,482.7h1.0v1.0h-1.0zM50.0,486.4h1.0v1.0h-1.0zM54.8,480.4h1.0v1.0h-1.0zM57.3,477.0h1.0v1.0h-1.0zM48.6,477.0h1.0v1.0h-1.0zM47.9,477.2h1.0v1.0h-1.0zM49.0,476.0h1.0v1.0h-1.0zM56.7,483.3h1.0v1.0h-1.0zM46.0,486.3h1.0v1.0h-1.0zM56.6,474.8h1.0v1.0h-1.0zM46.9,471.5h1.0v1.0h-1.0zM52.4,474.1h1.0v1.0h-1.0zM55.2,476.0h1.0v1.0h-1.0zM49.2,477.9h1.0v1.0h-1.0zM57.9,472.6h1.0v1.0h-1.0zM54.2,472.7h1.0v1.0h-1.0zM52.6,482.0h1.0v1.0h-1.0zM58.2,480.0h1.0v1.0h-1.0zM50.7,480.3h1.0v1.0h-1.0zM42.7,477.3h1.0v1.0h-1.0zM48.7,478.3h1.0v1.0h-1.0zM51.9,480.5h1.0v1.0h-1.0zM50.0,482.2h1.0v1.0h-1.0zM53.7,479.2h1.0v1.0h-1.0zM61.7,473.9h1.0v1.0h-1.0zM55.2,475.3h1.0v1.0h-1.0zM52.2,482.1h1.0v1.0h-1.0zM47.0,483.1h1.0v1.0h-1.0zM53.7,480.0h1.0v1.0h-1.0zM48.1,476.3h1.0v1.0h-1.0zM41.6,478.1h1.0v1.0h-1.0zM52.7,478.5h1.0v1.0h-1.0zM45.9,475.7h1.0v1.0h-1.0zM48.8,480.1h1.0v1.0h-1.0zM47.8,479.2h1.0v1.0h-1.0zM60.8,480.0h1.0v1.0h-1.0zM47.9,477.5h1.0v1.0h-1.0zM46.3,474.5h1.0v1.0h-1.0zM52.6,478.7h1.0v1.0h-1.0zM48.7,480.2h1.0v1.0h-1.0zM59.3,473.4h1.0v1.0h-1.0zM44.4,477.4h1.0v1.0h-1.0zM47.9,478.4h1.0v1.0h-1.0zM50.4,478.1h1.0v1.0h-1.0zM49.1,478.2h1.0v1.0h-1.0zM47.8,472.5h1.0v1.0h-1.0zM58.0,469.6h1.0v1.0h-1.0zM53.2,480.8h1.0v1.0h-1.0zM55.6,475.6h1.0v1.0h-1.0zM51.4,478.6h1.0v1.0h-1.0zM60.5,474.6h1.0v1.0h-1.0zM64.5,471.2h1.0v1.0h-1.0zM47.7,485.9h1.0v1.0h-1.0zM52.0,471.0h1.0v1.0h-1.0zM49.6,480.7h1.0v1.0h-1.0zM55.7,470.5h1.0v1.0h-1.0zM54.9,477.5h1.0v1.0h-1.0zM50.8,472.8h1.0v1.0h-1.0zM62.3,482.2h1.0v1.0h-1.0zM54.9,477.1h1.0v1.0h-1.0zM49.4,472.6h1.0v1.0h-1.0zM51.3,480.7h1.0v1.0h-1.0zM58.4,473.6h1.0v1.0h-1.0zM65.1,476.4h1.0v1.0h-1.0zM66.0,480.4h1.0v1.0h-1.0zM51.9,477.7h1.0v1.0h-1.0zM54.1,481.7h1.0v1.0h-1.0zM57.1,476.8h1.0v1.0h-1.0zM51.4,471.6h1.0v1.0h-1.0zM48.2,468.4h1.0v1.0h-1.0zM61.0,473.7h1.0v1.0h-1.0zM53.6,480.2h1.0v1.0h-1.0zM49.7,476.3h1.0v1.0h-1.0zM56.6,484.1h1.0v1.0h-1.0zM51.3,477.8h1.0v1.0h-1.0zM46.9,477.7h1.0v1.0h-1.0zM52.2,477.4h1.0v1.0h-1.0zM52.4,487.2h1.0v1.0h-1.0zM55.2,477.4h1.0v1.0h-1.0zM48.0,479.2h1.0v1.0h-1.0zM51.4,481.0h1.0v1.0h-1.0zM49.8,475.3h1.0v1.0h-1.0zM56.6,475.5h1.0v1.0h-1.0zM56.3,473.1h1.0v1.0h-1.0zM59.7,475.5h1.0v1.0h-1.0zM55.3,478.5h1.0v1.0h-1.0zM56.6,477.3h1.0v1.0h-1.0zM62.5,480.7h1.0v1.0h-1.0zM58.7,470.7h1.0v1.0h-1.0zM60.3,478.1h1.0v1.0h-1.0zM56.2,482.6h1.0v1.0h-1.0zM55.7,479.3h1.0v1.0h-1.0zM42.7,475.9h1.0v1.0h-1.0zM61.2,478.8h1.0v1.0h-1.0zM55.1,477.9h1.0v1.0h-1.0zM55.0,477.0h1.0v1.0h-1.0zM58.1,476.1h1.0v1.0h-1.0zM47.5,477.5h1.0v1.0h-1.0zM55.2,477.4h1.0v1.0h-1.0zM51.7,478.0h1.0v1.0h-1.0zM48.2,474.9h1.0v1.0h-1.0zM49.1,472.0h1.0v1.0h-1.0zM51.6,477.7h1.0v1.0h-1.0zM57.2,473.7h1.0v1.0h-1.0zM62.1,477.3h1.0v1.0h-1.0zM53.5,478.9h1.0v1.0h-1.0zM55.0,484.5h1.0v1.0h-1.0zM57.9,471.6h1.0v1.0h-1.0zM54.3,477.1h1.0v1.0h-1.0zM46.3,473.4h1.0v1.0h-1.0zM62.6,476.8h1.0v1.0h-1.0zM46.4,481.6h1.0v1.0h-1.0zM42.2,479.1h1.0v1.0h-1.0zM50.5,476.4h1.0v1.0h-1.0zM49.4,494.8h1.0v1.0h-1.0zM49.2,480.1h1.0v1.0h-1.0zM45.1,482.1h1.0v1.0h-1.0zM46.6,475.0h1.0v1.0h-1.0zM52.4,474.1h1.0v1.0h-1.0zM65.5,468.9h1.0v1.0h-1.0zM58.9,473.4h1.0v1.0h-1.0zM52.1,476.4h1.0v1.0h-1.0zM57.3,466.0h1.0v1.0h-1.0zM64.9,465.4h1.0v1.0h-1.0zM60.5,467.6h1.0v1.0h-1.0zM55.6,476.0h1.0v1.0h-1.0zM64.7,471.2h1.0v1.0h-1.0zM53.4,471.1h1.0v1.0h-1.0zM63.7,470.8h1.0v1.0h-1.0zM64.3,474.9h1.0v1.0h-1.0zM50.8,479.0h1.0v1.0h-1.0zM52.7,476.8h1.0v1.0h-1.0zM70.3,466.6h1.0v1.0h-1.0zM61.7,466.7h1.0v1.0h-1.0zM53.2,472.4h1.0v1.0h-1.0zM57.5,464.4h1.0v1.0h-1.0zM57.2,472.6h1.0v1.0h-1.0zM58.2,480.0h1.0v1.0h-1.0zM55.1,475.8h1.0v1.0h-1.0zM54.3,473.7h1.0v1.0h-1.0zM59.2,463.4h1.0v1.0h-1.0zM52.1,474.1h1.0v1.0h-1.0zM57.8,471.5h1.0v1.0h-1.0zM53.6,477.9h1.0v1.0h-1.0zM54.5,473.3h1.0v1.0h-1.0zM56.9,469.8h1.0v1.0h-1.0zM63.1,468.1h1.0v1.0h-1.0zM57.4,475.5h1.0v1.0h-1.0zM57.0,474.0h1.0v1.0h-1.0z" fill="#5a92c4" opacity="0.3"/>
<path d="M50.5,475.0h1.0v1.0h-1.0zM58.3,476.0h1.0v1.0h-1.0zM50.4,476.7h1.0v1.0h-1.0zM49.5,474.6h1.0v1.0h-1.0zM44.0,468.9h1.0v1.0h-1.0zM50.1,475.7h1.0v1.0h-1.0zM48.2,478.2h1.0v1.0h-1.0zM58.7,484.4h1.0v1.0h-1.0zM54.0,472.7h1.0v1.0h-1.0zM59.8,475.6h1.0v1.0h-1.0zM43.6,476.5h1.0v1.0h-1.0zM55.1,476.7h1.0v1.0h-1.0zM38.7,480.9h1.0v1.0h-1.0zM56.6,474.9h1.0v1.0h-1.0zM55.6,477.1h1.0v1.0h-1.0zM59.1,474.3h1.0v1.0h-1.0zM50.2,477.7h1.0v1.0h-1.0zM54.7,469.2h1.0v1.0h-1.0zM46.2,475.7h1.0v1.0h-1.0zM51.4,478.8h1.0v1.0h-1.0zM51.9,477.5h1.0v1.0h-1.0zM55.6,472.0h1.0v1.0h-1.0zM49.4,485.0h1.0v1.0h-1.0zM51.7,475.0h1.0v1.0h-1.0zM64.0,476.1h1.0v1.0h-1.0zM48.1,476.4h1.0v1.0h-1.0zM56.9,476.8h1.0v1.0h-1.0zM48.1,480.2h1.0v1.0h-1.0zM45.1,477.4h1.0v1.0h-1.0zM53.3,480.1h1.0v1.0h-1.0zM55.3,484.2h1.0v1.0h-1.0zM49.0,475.6h1.0v1.0h-1.0zM46.5,479.5h1.0v1.0h-1.0zM54.4,476.5h1.0v1.0h-1.0zM46.5,481.7h1.0v1.0h-1.0zM50.6,482.9h1.0v1.0h-1.0zM60.9,480.8h1.0v1.0h-1.0zM57.6,473.6h1.0v1.0h-1.0zM47.6,480.0h1.0v1.0h-1.0zM47.4,479.3h1.0v1.0h-1.0zM56.9,476.7h1.0v1.0h-1.0zM41.7,484.2h1.0v1.0h-1.0zM63.5,480.6h1.0v1.0h-1.0zM51.6,479.1h1.0v1.0h-1.0zM57.8,474.6h1.0v1.0h-1.0zM51.6,478.3h1.0v1.0h-1.0zM51.9,471.9h1.0v1.0h-1.0zM53.4,476.5h1.0v1.0h-1.0zM45.9,476.3h1.0v1.0h-1.0zM54.2,466.9h1.0v1.0h-1.0zM54.8,472.4h1.0v1.0h-1.0zM60.8,484.9h1.0v1.0h-1.0zM52.9,480.7h1.0v1.0h-1.0zM54.9,486.8h1.0v1.0h-1.0zM52.5,478.8h1.0v1.0h-1.0zM48.0,474.3h1.0v1.0h-1.0zM58.5,477.9h1.0v1.0h-1.0zM54.1,483.1h1.0v1.0h-1.0zM56.2,477.1h1.0v1.0h-1.0zM53.1,480.9h1.0v1.0h-1.0zM61.0,470.0h1.0v1.0h-1.0zM51.5,481.3h1.0v1.0h-1.0zM54.3,481.4h1.0v1.0h-1.0zM62.9,475.0h1.0v1.0h-1.0zM53.8,474.7h1.0v1.0h-1.0zM39.6,477.0h1.0v1.0h-1.0zM45.3,479.9h1.0v1.0h-1.0zM44.8,481.3h1.0v1.0h-1.0zM53.0,481.9h1.0v1.0h-1.0zM72.8,474.7h1.0v1.0h-1.0zM51.1,475.8h1.0v1.0h-1.0zM54.1,477.0h1.0v1.0h-1.0zM57.2,470.2h1.0v1.0h-1.0zM53.8,482.0h1.0v1.0h-1.0zM53.1,479.1h1.0v1.0h-1.0zM47.9,469.9h1.0v1.0h-1.0zM60.2,471.3h1.0v1.0h-1.0zM47.8,480.1h1.0v1.0h-1.0zM50.2,477.2h1.0v1.0h-1.0zM53.4,476.0h1.0v1.0h-1.0zM57.9,478.6h1.0v1.0h-1.0zM58.4,477.7h1.0v1.0h-1.0zM56.3,476.1h1.0v1.0h-1.0zM46.4,479.6h1.0v1.0h-1.0zM49.9,480.4h1.0v1.0h-1.0zM47.5,477.2h1.0v1.0h-1.0zM53.0,471.2h1.0v1.0h-1.0zM51.6,477.9h1.0v1.0h-1.0zM46.3,479.7h1.0v1.0h-1.0zM53.9,479.6h1.0v1.0h-1.0zM43.5,475.0h1.0v1.0h-1.0zM59.1,472.7h1.0v1.0h-1.0zM50.3,475.6h1.0v1.0h-1.0zM50.9,479.4h1.0v1.0h-1.0zM55.2,477.3h1.0v1.0h-1.0zM45.0,479.7h1.0v1.0h-1.0zM61.4,480.5h1.0v1.0h-1.0zM50.3,476.2h1.0v1.0h-1.0zM47.8,478.2h1.0v1.0h-1.0zM50.4,478.7h1.0v1.0h-1.0zM56.8,471.3h1.0v1.0h-1.0zM49.0,481.0h1.0v1.0h-1.0zM50.5,472.1h1.0v1.0h-1.0zM53.0,476.1h1.0v1.0h-1.0zM54.1,479.7h1.0v1.0h-1.0zM46.3,476.4h1.0v1.0h-1.0zM40.5,481.2h1.0v1.0h-1.0zM43.4,479.3h1.0v1.0h-1.0zM56.3,465.5h1.0v1.0h-1.0zM47.1,479.1h1.0v1.0h-1.0zM44.6,485.5h1.0v1.0h-1.0zM56.1,475.2h1.0v1.0h-1.0zM43.4,477.6h1.0v1.0h-1.0zM42.0,477.4h1.0v1.0h-1.0zM60.8,473.2h1.0v1.0h-1.0zM43.8,476.8h1.0v1.0h-1.0zM42.7,479.4h1.0v1.0h-1.0zM53.7,477.7h1.0v1.0h-1.0zM57.8,480.8h1.0v1.0h-1.0zM47.4,481.2h1.0v1.0h-1.0zM52.7,481.8h1.0v1.0h-1.0zM49.4,478.4h1.0v1.0h-1.0zM55.8,480.5h1.0v1.0h-1.0zM63.3,481.8h1.0v1.0h-1.0zM56.8,477.2h1.0v1.0h-1.0zM45.4,470.9h1.0v1.0h-1.0zM48.3,479.9h1.0v1.0h-1.0zM50.3,482.2h1.0v1.0h-1.0zM49.6,476.8h1.0v1.0h-1.0zM59.5,477.5h1.0v1.0h-1.0zM63.4,469.8h1.0v1.0h-1.0zM61.7,468.4h1.0v1.0h-1.0zM61.2,470.3h1.0v1.0h-1.0zM59.9,474.8h1.0v1.0h-1.0zM58.0,470.5h1.0v1.0h-1.0zM65.4,465.6h1.0v1.0h-1.0zM55.1,470.1h1.0v1.0h-1.0zM57.7,469.8h1.0v1.0h-1.0zM63.3,469.0h1.0v1.0h-1.0zM55.1,477.1h1.0v1.0h-1.0zM55.0,472.4h1.0v1.0h-1.0zM55.8,471.7h1.0v1.0h-1.0zM62.8,472.6h1.0v1.0h-1.0zM52.3,476.5h1.0v1.0h-1.0zM60.9,466.4h1.0v1.0h-1.0zM54.2,478.4h1.0v1.0h-1.0zM66.5,470.6h1.0v1.0h-1.0zM55.2,473.9h1.0v1.0h-1.0zM51.6,475.7h1.0v1.0h-1.0zM63.3,464.5h1.0v1.0h-1.0zM54.4,478.5h1.0v1.0h-1.0zM60.8,475.3h1.0v1.0h-1.0zM52.7,474.8h1.0v1.0h-1.0zM51.8,475.0h1.0v1.0h-1.0zM59.8,469.1h1.0v1.0h-1.0zM50.6,479.9h1.0v1.0h-1.0zM61.5,470.2h1.0v1.0h-1.0zM61.4,463.9h1.0v1.0h-1.0zM53.4,475.0h1.0v1.0h-1.0zM53.1,471.7h1.0v1.0h-1.0z" fill="#5a92c4" opacity="0.3"/>
<path d="M43.2,470.0h1.0v1.0h-1.0zM55.0,480.9h1.0v1.0h-1.0zM53.8,473.5h1.0v1.0h-1.0zM50.1,481.5h1.0v1.0h-1.0zM52.1,482.8h1.0v1.0h-1.0zM43.9,475.1h1.0v1.0h-1.0zM55.9,482.5h1.0v1.0h-1.0zM56.7,477.3h1.0v1.0h-1.0zM54.4,477.9h1.0v1.0h-1.0zM56.3,475.0h1.0v1.0h-1.0zM51.8,477.7h1.0v1.0h-1.0zM44.9,473.6h1.0v1.0h-1.0zM38.9,471.9h1.0v1.0h-1.0zM44.2,474.0h1.0v1.0h-1.0zM45.5,475.0h1.0v1.0h-1.0zM38.0,477.4h1.0v1.0h-1.0zM53.0,481.7h1.0v1.0h-1.0zM39.6,477.1h1.0v1.0h-1.0zM52.8,479.3h1.0v1.0h-1.0zM46.1,478.4h1.0v1.0h-1.0zM53.2,482.8h1.0v1.0h-1.0zM58.8,478.7h1.0v1.0h-1.0zM52.7,478.5h1.0v1.0h-1.0zM59.0,481.0h1.0v1.0h-1.0zM53.8,475.8h1.0v1.0h-1.0zM46.4,483.4h1.0v1.0h-1.0zM48.1,473.9h1.0v1.0h-1.0zM53.7,480.4h1.0v1.0h-1.0zM50.6,486.6h1.0v1.0h-1.0zM50.5,473.1h1.0v1.0h-1.0zM53.2,486.1h1.0v1.0h-1.0zM51.9,479.4h1.0v1.0h-1.0zM46.2,473.6h1.0v1.0h-1.0zM57.4,484.1h1.0v1.0h-1.0zM57.6,478.6h1.0v1.0h-1.0zM57.1,482.1h1.0v1.0h-1.0zM58.1,484.3h1.0v1.0h-1.0zM48.2,473.6h1.0v1.0h-1.0zM40.5,480.8h1.0v1.0h-1.0zM49.7,481.5h1.0v1.0h-1.0zM54.3,467.0h1.0v1.0h-1.0zM51.8,477.0h1.0v1.0h-1.0zM49.8,478.4h1.0v1.0h-1.0zM47.9,474.8h1.0v1.0h-1.0zM46.6,481.3h1.0v1.0h-1.0zM56.5,478.1h1.0v1.0h-1.0zM55.3,475.1h1.0v1.0h-1.0zM48.6,476.9h1.0v1.0h-1.0zM47.7,478.9h1.0v1.0h-1.0zM52.7,476.3h1.0v1.0h-1.0zM56.7,471.4h1.0v1.0h-1.0zM54.1,478.7h1.0v1.0h-1.0zM63.2,480.7h1.0v1.0h-1.0zM61.1,473.2h1.0v1.0h-1.0zM49.8,481.2h1.0v1.0h-1.0zM57.1,479.8h1.0v1.0h-1.0zM55.7,478.3h1.0v1.0h-1.0zM54.6,479.0h1.0v1.0h-1.0zM49.7,480.9h1.0v1.0h-1.0zM54.3,468.3h1.0v1.0h-1.0zM47.8,485.2h1.0v1.0h-1.0zM61.8,477.9h1.0v1.0h-1.0zM54.8,476.4h1.0v1.0h-1.0zM52.5,483.3h1.0v1.0h-1.0zM51.2,472.0h1.0v1.0h-1.0zM41.3,471.7h1.0v1.0h-1.0zM54.0,481.7h1.0v1.0h-1.0zM50.0,477.2h1.0v1.0h-1.0zM50.1,483.1h1.0v1.0h-1.0zM53.2,480.9h1.0v1.0h-1.0zM54.4,477.5h1.0v1.0h-1.0zM49.2,477.6h1.0v1.0h-1.0zM46.5,480.2h1.0v1.0h-1.0zM46.9,483.9h1.0v1.0h-1.0zM50.8,480.8h1.0v1.0h-1.0zM50.1,479.5h1.0v1.0h-1.0zM47.0,485.7h1.0v1.0h-1.0zM59.8,477.4h1.0v1.0h-1.0zM44.4,471.6h1.0v1.0h-1.0zM44.4,481.8h1.0v1.0h-1.0zM57.5,485.8h1.0v1.0h-1.0zM49.2,478.0h1.0v1.0h-1.0zM53.2,469.2h1.0v1.0h-1.0zM57.7,483.5h1.0v1.0h-1.0zM45.3,473.4h1.0v1.0h-1.0zM62.3,471.2h1.0v1.0h-1.0zM50.2,477.3h1.0v1.0h-1.0zM56.4,474.6h1.0v1.0h-1.0zM56.1,474.0h1.0v1.0h-1.0zM53.7,482.2h1.0v1.0h-1.0zM57.5,481.0h1.0v1.0h-1.0zM57.9,478.4h1.0v1.0h-1.0zM42.5,478.2h1.0v1.0h-1.0zM58.9,481.9h1.0v1.0h-1.0zM50.7,477.0h1.0v1.0h-1.0zM49.9,475.3h1.0v1.0h-1.0zM44.4,484.4h1.0v1.0h-1.0zM50.6,482.1h1.0v1.0h-1.0zM54.7,472.6h1.0v1.0h-1.0zM53.4,474.0h1.0v1.0h-1.0zM53.4,478.0h1.0v1.0h-1.0zM55.8,475.4h1.0v1.0h-1.0zM53.7,477.0h1.0v1.0h-1.0zM53.6,478.8h1.0v1.0h-1.0zM53.5,470.1h1.0v1.0h-1.0zM54.5,478.0h1.0v1.0h-1.0zM48.6,482.7h1.0v1.0h-1.0zM54.7,479.3h1.0v1.0h-1.0zM55.3,482.2h1.0v1.0h-1.0zM57.4,481.0h1.0v1.0h-1.0zM44.1,473.9h1.0v1.0h-1.0zM56.4,479.7h1.0v1.0h-1.0zM48.0,483.8h1.0v1.0h-1.0zM60.1,471.9h1.0v1.0h-1.0zM60.9,482.2h1.0v1.0h-1.0zM50.7,481.0h1.0v1.0h-1.0zM49.3,475.9h1.0v1.0h-1.0zM54.2,483.5h1.0v1.0h-1.0zM50.8,471.8h1.0v1.0h-1.0zM47.0,481.7h1.0v1.0h-1.0zM46.5,478.5h1.0v1.0h-1.0zM51.3,473.9h1.0v1.0h-1.0zM43.3,475.7h1.0v1.0h-1.0zM51.8,472.9h1.0v1.0h-1.0zM48.6,473.0h1.0v1.0h-1.0zM48.4,481.1h1.0v1.0h-1.0zM50.4,482.2h1.0v1.0h-1.0zM49.2,481.0h1.0v1.0h-1.0zM57.8,473.0h1.0v1.0h-1.0zM48.1,477.3h1.0v1.0h-1.0zM56.2,469.2h1.0v1.0h-1.0zM55.9,466.8h1.0v1.0h-1.0zM55.6,476.2h1.0v1.0h-1.0zM53.0,473.8h1.0v1.0h-1.0zM59.4,476.0h1.0v1.0h-1.0zM56.7,470.5h1.0v1.0h-1.0zM60.9,465.1h1.0v1.0h-1.0zM62.4,466.2h1.0v1.0h-1.0zM58.7,469.5h1.0v1.0h-1.0zM62.1,470.0h1.0v1.0h-1.0zM62.2,466.3h1.0v1.0h-1.0zM52.2,476.8h1.0v1.0h-1.0zM62.9,464.9h1.0v1.0h-1.0zM62.3,472.5h1.0v1.0h-1.0zM55.0,477.7h1.0v1.0h-1.0zM53.6,476.3h1.0v1.0h-1.0zM53.9,472.4h1.0v1.0h-1.0zM57.0,473.6h1.0v1.0h-1.0zM59.2,465.7h1.0v1.0h-1.0zM56.1,474.0h1.0v1.0h-1.0zM60.7,464.1h1.0v1.0h-1.0zM56.2,475.2h1.0v1.0h-1.0zM56.7,476.4h1.0v1.0h-1.0zM52.6,476.1h1.0v1.0h-1.0zM59.8,477.7h1.0v1.0h-1.0zM57.5,470.1h1.0v1.0h-1.0zM54.1,472.8h1.0v1.0h-1.0zM68.1,469.3h1.0v1.0h-1.0zM61.8,475.0h1.0v1.0h-1.0zM61.9,467.6h1.0v1.0h-1.0z" fill="#5a92c4" opacity="0.3"/>
<path d="M60.1,477.3h1.0v1.0h-1.0zM47.2,471.6h1.0v1.0h-1.0zM55.5,481.0h1.0v1.0h-1.0zM44.1,478.7h1.0v1.0h-1.0zM46.7,480.0h1.0v1.0h-1.0zM49.2,482.5h1.0v1.0h-1.0zM56.7,484.6h1.0v1.0h-1.0zM52.5,476.0h1.0v1.0h-1.0zM50.6,478.4h1.0v1.0h-1.0zM50.5,478.2h1.0v1.0h-1.0zM50.8,473.3h1.0v1.0h-1.0zM56.0,475.1h1.0v1.0h-1.0zM66.2,481.6h1.0v1.0h-1.0zM53.5,479.0h1.0v1.0h-1.0zM53.5,476.7h1.0v1.0h-1.0zM38.7,483.1h1.0v1.0h-1.0zM45.4,475.4h1.0v1.0h-1.0zM53.7,479.2h1.0v1.0h-1.0zM54.1,478.3h1.0v1.0h-1.0zM49.5,481.5h1.0v1.0h-1.0zM47.4,488.1h1.0v1.0h-1.0zM49.6,480.3h1.0v1.0h-1.0zM46.1,485.6h1.0v1.0h-1.0zM47.9,475.8h1.0v1.0h-1.0zM50.6,478.9h1.0v1.0h-1.0zM55.7,481.8h1.0v1.0h-1.0zM45.3,475.3h1.0v1.0h-1.0zM51.8,472.0h1.0v1.0h-1.0zM60.5,477.9h1.0v1.0h-1.0zM40.9,471.7h1.0v1.0h-1.0zM61.1,476.9h1.0v1.0h-1.0zM40.9,477.7h1.0v1.0h-1.0zM47.0,478.0h1.0v1.0h-1.0zM52.5,484.9h1.0v1.0h-1.0zM57.7,485.9h1.0v1.0h-1.0zM43.4,480.6h1.0v1.0h-1.0zM50.8,479.1h1.0v1.0h-1.0zM53.6,473.1h1.0v1.0h-1.0zM44.6,483.4h1.0v1.0h-1.0zM50.0,476.7h1.0v1.0h-1.0zM57.5,472.2h1.0v1.0h-1.0zM56.2,476.8h1.0v1.0h-1.0zM42.7,483.0h1.0v1.0h-1.0zM48.3,467.4h1.0v1.0h-1.0zM50.0,482.7h1.0v1.0h-1.0zM51.6,477.1h1.0v1.0h-1.0zM43.6,477.6h1.0v1.0h-1.0zM66.3,474.2h1.0v1.0h-1.0zM52.9,481.3h1.0v1.0h-1.0zM48.0,477.8h1.0v1.0h-1.0zM55.1,485.2h1.0v1.0h-1.0zM62.8,479.4h1.0v1.0h-1.0zM58.9,472.5h1.0v1.0h-1.0zM57.5,474.9h1.0v1.0h-1.0zM50.9,477.1h1.0v1.0h-1.0zM54.8,478.4h1.0v1.0h-1.0zM57.4,473.7h1.0v1.0h-1.0zM48.7,481.7h1.0v1.0h-1.0zM56.3,478.8h1.0v1.0h-1.0zM54.6,476.0h1.0v1.0h-1.0zM49.6,484.9h1.0v1.0h-1.0zM54.3,476.6h1.0v1.0h-1.0zM55.5,475.5h1.0v1.0h-1.0zM52.6,476.6h1.0v1.0h-1.0zM52.1,476.2h1.0v1.0h-1.0zM60.9,478.7h1.0v1.0h-1.0zM53.4,479.2h1.0v1.0h-1.0zM51.3,480.3h1.0v1.0h-1.0zM51.7,479.1h1.0v1.0h-1.0zM50.9,474.4h1.0v1.0h-1.0zM52.0,475.1h1.0v1.0h-1.0zM54.9,479.7h1.0v1.0h-1.0zM53.5,480.1h1.0v1.0h-1.0zM41.5,476.4h1.0v1.0h-1.0zM52.6,475.0h1.0v1.0h-1.0zM44.6,475.5h1.0v1.0h-1.0zM43.7,478.1h1.0v1.0h-1.0zM56.1,474.2h1.0v1.0h-1.0zM53.6,477.7h1.0v1.0h-1.0zM64.7,478.1h1.0v1.0h-1.0zM49.3,478.2h1.0v1.0h-1.0zM55.9,477.4h1.0v1.0h-1.0zM45.6,474.2h1.0v1.0h-1.0zM53.0,479.5h1.0v1.0h-1.0zM45.7,480.1h1.0v1.0h-1.0zM45.7,481.3h1.0v1.0h-1.0zM54.2,480.0h1.0v1.0h-1.0zM36.3,479.5h1.0v1.0h-1.0zM51.4,473.5h1.0v1.0h-1.0zM56.3,476.5h1.0v1.0h-1.0zM63.8,476.3h1.0v1.0h-1.0zM61.8,478.1h1.0v1.0h-1.0zM48.2,482.4h1.0v1.0h-1.0zM57.0,477.7h1.0v1.0h-1.0zM48.3,476.1h1.0v1.0h-1.0zM59.6,477.3h1.0v1.0h-1.0zM49.6,476.2h1.0v1.0h-1.0zM54.1,482.9h1.0v1.0h-1.0zM51.8,473.4h1.0v1.0h-1.0zM56.2,477.4h1.0v1.0h-1.0zM46.8,468.8h1.0v1.0h-1.0zM48.7,488.5h1.0v1.0h-1.0zM54.1,477.5h1.0v1.0h-1.0zM51.7,475.9h1.0v1.0h-1.0zM50.0,478.7h1.0v1.0h-1.0zM66.8,479.8h1.0v1.0h-1.0zM50.1,476.4h1.0v1.0h-1.0zM51.4,478.9h1.0v1.0h-1.0zM60.8,476.4h1.0v1.0h-1.0zM42.2,477.0h1.0v1.0h-1.0zM61.6,478.8h1.0v1.0h-1.0zM54.6,481.0h1.0v1.0h-1.0zM47.3,483.9h1.0v1.0h-1.0zM59.3,480.8h1.0v1.0h-1.0zM42.9,483.6h1.0v1.0h-1.0zM47.1,474.0h1.0v1.0h-1.0zM55.6,480.4h1.0v1.0h-1.0zM55.8,478.9h1.0v1.0h-1.0zM43.5,469.1h1.0v1.0h-1.0zM56.6,479.8h1.0v1.0h-1.0zM57.1,470.9h1.0v1.0h-1.0zM48.9,476.6h1.0v1.0h-1.0zM55.2,477.3h1.0v1.0h-1.0zM58.0,479.9h1.0v1.0h-1.0zM50.2,476.4h1.0v1.0h-1.0zM63.1,471.1h1.0v1.0h-1.0zM53.1,484.4h1.0v1.0h-1.0zM58.2,478.9h1.0v1.0h-1.0zM51.6,477.9h1.0v1.0h-1.0zM58.7,480.0h1.0v1.0h-1.0zM67.4,473.4h1.0v1.0h-1.0zM49.0,473.8h1.0v1.0h-1.0zM56.2,472.3h1.0v1.0h-1.0zM52.9,478.8h1.0v1.0h-1.0zM62.6,476.1h1.0v1.0h-1.0zM59.2,471.0h1.0v1.0h-1.0zM53.0,479.2h1.0v1.0h-1.0zM65.2,465.9h1.0v1.0h-1.0zM62.3,471.2h1.0v1.0h-1.0zM53.7,476.1h1.0v1.0h-1.0zM61.2,471.1h1.0v1.0h-1.0zM60.5,469.1h1.0v1.0h-1.0zM55.6,475.2h1.0v1.0h-1.0zM60.9,472.8h1.0v1.0h-1.0zM60.9,466.6h1.0v1.0h-1.0zM56.7,471.3h1.0v1.0h-1.0zM63.8,469.1h1.0v1.0h-1.0zM61.6,471.2h1.0v1.0h-1.0zM61.4,471.4h1.0v1.0h-1.0zM49.2,472.0h1.0v1.0h-1.0zM62.7,469.1h1.0v1.0h-1.0zM62.7,463.1h1.0v1.0h-1.0zM64.9,470.8h1.0v1.0h-1.0zM52.7,472.9h1.0v1.0h-1.0zM61.3,467.8h1.0v1.0h-1.0zM55.3,475.2h1.0v1.0h-1.0zM55.4,472.2h1.0v1.0h-1.0zM65.8,465.0h1.0v1.0h-1.0zM54.7,476.7h1.0v1.0h-1.0zM59.1,479.5h1.0v1.0h-1.0z" fill="#5a92c4" opacity="0.3"/>
<path d="M46.9,458.9h0.9v0.9h-0.9zM70.6,468.9h0.9v0.9h-0.9zM37.0,454.4h0.9v0.9h-0.9zM78.3,439.0h0.9v0.9h-0.9zM56.9,468.2h0.9v0.9h-0.9zM44.0,451.8h0.9v0.9h-0.9zM44.7,469.6h0.9v0.9h-0.9zM44.1,462.8h0.9v0.9h-0.9zM63.8,434.7h0.9v0.9h-0.9zM48.7,438.5h0.9v0.9h-0.9zM78.4,456.2h0.9v0.9h-0.9zM53.2,438.4h0.9v0.9h-0.9zM44.4,449.0h0.9v0.9h-0.9zM42.7,475.5h0.9v0.9h-0.9zM41.7,470.4h0.9v0.9h-0.9zM41.2,478.2h0.9v0.9h-0.9zM86.4,450.4h0.9v0.9h-0.9zM44.4,437.5h0.9v0.9h-0.9zM46.3,466.8h0.9v0.9h-0.9zM43.7,457.7h0.9v0.9h-0.9zM72.4,473.2h0.9v0.9h-0.9zM71.4,452.0h0.9v0.9h-0.9zM73.0,476.4h0.9v0.9h-0.9zM70.2,434.2h0.9v0.9h-0.9zM76.0,476.4h0.9v0.9h-0.9zM62.6,457.7h0.9v0.9h-0.9zM61.8,458.7h0.9v0.9h-0.9zM71.9,472.3h0.9v0.9h-0.9z" fill="#a8bcd8" opacity="0.3"/>
<path d="M42.5,475.0h0.9v0.9h-0.9zM36.7,436.4h0.9v0.9h-0.9zM81.8,462.9h0.9v0.9h-0.9zM83.3,447.1h0.9v0.9h-0.9zM40.0,474.7h0.9v0.9h-0.9zM69.8,480.7h0.9v0.9h-0.9zM64.2,451.6h0.9v0.9h-0.9zM76.7,441.8h0.9v0.9h-0.9zM39.5,454.7h0.9v0.9h-0.9zM60.5,453.0h0.9v0.9h-0.9zM61.8,479.3h0.9v0.9h-0.9zM69.1,454.8h0.9v0.9h-0.9zM52.8,478.6h0.9v0.9h-0.9zM69.1,441.7h0.9v0.9h-0.9zM72.5,459.0h0.9v0.9h-0.9zM36.8,444.9h0.9v0.9h-0.9zM49.9,466.9h0.9v0.9h-0.9zM63.8,482.5h0.9v0.9h-0.9zM61.4,473.6h0.9v0.9h-0.9zM43.0,467.6h0.9v0.9h-0.9zM42.3,449.8h0.9v0.9h-0.9zM72.3,447.6h0.9v0.9h-0.9zM68.5,441.6h0.9v0.9h-0.9zM38.7,451.3h0.9v0.9h-0.9zM66.1,481.5h0.9v0.9h-0.9zM53.5,452.3h0.9v0.9h-0.9zM57.6,466.5h0.9v0.9h-0.9zM62.5,446.2h0.9v0.9h-0.9z" fill="#a8bcd8" opacity="0.3"/>
<path d="M70.1,467.5h0.9v0.9h-0.9zM58.0,481.5h0.9v0.9h-0.9zM77.9,434.6h0.9v0.9h-0.9zM80.7,459.3h0.9v0.9h-0.9zM85.8,439.4h0.9v0.9h-0.9zM86.4,482.7h0.9v0.9h-0.9zM81.7,446.5h0.9v0.9h-0.9zM61.8,462.1h0.9v0.9h-0.9zM48.5,471.1h0.9v0.9h-0.9zM53.4,471.5h0.9v0.9h-0.9zM66.9,442.9h0.9v0.9h-0.9zM52.1,459.1h0.9v0.9h-0.9zM72.0,455.0h0.9v0.9h-0.9zM67.9,436.9h0.9v0.9h-0.9zM45.0,466.8h0.9v0.9h-0.9zM56.6,443.7h0.9v0.9h-0.9zM47.8,453.6h0.9v0.9h-0.9zM82.7,438.9h0.9v0.9h-0.9zM51.2,479.8h0.9v0.9h-0.9zM71.5,462.3h0.9v0.9h-0.9zM39.3,462.6h0.9v0.9h-0.9zM85.6,455.5h0.9v0.9h-0.9zM80.3,469.1h0.9v0.9h-0.9zM80.4,482.8h0.9v0.9h-0.9zM68.9,480.4h0.9v0.9h-0.9zM62.2,462.8h0.9v0.9h-0.9zM45.9,460.1h0.9v0.9h-0.9z" fill="#a8bcd8" opacity="0.3"/>
<path d="M83.0,482.6h0.9v0.9h-0.9zM52.3,461.9h0.9v0.9h-0.9zM46.8,442.8h0.9v0.9h-0.9zM52.8,481.4h0.9v0.9h-0.9zM74.0,447.2h0.9v0.9h-0.9zM67.8,466.0h0.9v0.9h-0.9zM43.7,441.8h0.9v0.9h-0.9zM64.7,454.2h0.9v0.9h-0.9zM48.7,474.4h0.9v0.9h-0.9zM47.7,466.8h0.9v0.9h-0.9zM40.1,438.0h0.9v0.9h-0.9zM83.5,446.0h0.9v0.9h-0.9zM44.9,436.2h0.9v0.9h-0.9zM62.0,450.4h0.9v0.9h-0.9zM58.3,466.4h0.9v0.9h-0.9zM41.0,467.7h0.9v0.9h-0.9zM71.1,455.1h0.9v0.9h-0.9zM61.8,457.9h0.9v0.9h-0.9zM77.4,457.2h0.9v0.9h-0.9zM85.5,436.2h0.9v0.9h-0.9zM72.8,451.1h0.9v0.9h-0.9zM36.8,438.5h0.9v0.9h-0.9zM42.4,452.6h0.9v0.9h-0.9zM52.5,478.5h0.9v0.9h-0.9zM64.9,443.6h0.9v0.9h-0.9zM47.7,447.6h0.9v0.9h-0.9zM50.4,471.7h0.9v0.9h-0.9z" fill="#a8bcd8" opacity="0.3"/>
</g></g>
<rect x="59.50" y="443.20" width="16.00" height="26.80" fill="none" stroke="#981438" stroke-width="1.5"/>
<rect x="92.00" y="432.40" width="52.20" height="51.20" fill="#fff" stroke="#b8b8b8" stroke-width="0.8"/>
<clipPath id="cpE1"><rect x="92.3" y="432.7" width="51.59999999999999" height="50.6"/></clipPath>
<g clip-path="url(#cpE1)"><g filter="url(#blur4)">
<path d="M124.9,447.1h1.0v1.0h-1.0zM122.1,454.6h1.0v1.0h-1.0zM117.3,462.1h1.0v1.0h-1.0zM126.4,449.0h1.0v1.0h-1.0zM125.8,448.6h1.0v1.0h-1.0zM125.5,457.7h1.0v1.0h-1.0zM124.2,449.1h1.0v1.0h-1.0zM117.1,455.8h1.0v1.0h-1.0zM124.1,452.3h1.0v1.0h-1.0zM125.2,449.5h1.0v1.0h-1.0zM119.7,455.2h1.0v1.0h-1.0zM119.4,460.0h1.0v1.0h-1.0zM124.5,450.1h1.0v1.0h-1.0zM124.3,450.1h1.0v1.0h-1.0zM126.3,449.8h1.0v1.0h-1.0zM129.2,450.3h1.0v1.0h-1.0zM122.6,457.6h1.0v1.0h-1.0zM123.2,449.1h1.0v1.0h-1.0zM116.7,460.4h1.0v1.0h-1.0zM124.5,446.2h1.0v1.0h-1.0zM119.8,461.3h1.0v1.0h-1.0zM122.7,459.3h1.0v1.0h-1.0zM125.2,454.2h1.0v1.0h-1.0zM121.7,459.4h1.0v1.0h-1.0zM125.9,449.7h1.0v1.0h-1.0zM122.2,450.9h1.0v1.0h-1.0zM122.7,447.5h1.0v1.0h-1.0zM121.5,452.3h1.0v1.0h-1.0zM124.3,453.0h1.0v1.0h-1.0zM124.0,451.4h1.0v1.0h-1.0zM123.6,451.3h1.0v1.0h-1.0zM120.2,460.1h1.0v1.0h-1.0zM119.7,459.7h1.0v1.0h-1.0zM125.6,446.8h1.0v1.0h-1.0zM124.8,450.6h1.0v1.0h-1.0zM123.7,452.7h1.0v1.0h-1.0zM122.0,453.2h1.0v1.0h-1.0zM122.9,454.0h1.0v1.0h-1.0zM123.3,457.9h1.0v1.0h-1.0zM117.9,462.3h1.0v1.0h-1.0zM126.9,449.1h1.0v1.0h-1.0zM121.6,459.8h1.0v1.0h-1.0zM121.0,457.6h1.0v1.0h-1.0zM125.2,452.0h1.0v1.0h-1.0zM123.5,455.5h1.0v1.0h-1.0zM123.7,449.6h1.0v1.0h-1.0zM117.9,460.5h1.0v1.0h-1.0zM126.1,452.8h1.0v1.0h-1.0zM123.4,454.3h1.0v1.0h-1.0zM115.7,454.5h1.0v1.0h-1.0zM122.2,456.2h1.0v1.0h-1.0zM124.6,451.3h1.0v1.0h-1.0zM124.7,449.3h1.0v1.0h-1.0zM121.3,458.1h1.0v1.0h-1.0zM121.6,450.9h1.0v1.0h-1.0zM121.3,448.5h1.0v1.0h-1.0zM119.7,448.5h1.0v1.0h-1.0zM119.2,458.4h1.0v1.0h-1.0zM123.2,455.8h1.0v1.0h-1.0zM124.5,453.7h1.0v1.0h-1.0zM125.1,448.2h1.0v1.0h-1.0zM123.1,453.5h1.0v1.0h-1.0zM118.3,464.7h1.0v1.0h-1.0zM126.9,450.9h1.0v1.0h-1.0zM123.7,447.0h1.0v1.0h-1.0zM119.7,462.1h1.0v1.0h-1.0zM121.3,451.3h1.0v1.0h-1.0zM121.1,453.1h1.0v1.0h-1.0zM122.4,455.7h1.0v1.0h-1.0zM119.4,460.9h1.0v1.0h-1.0zM128.4,447.8h1.0v1.0h-1.0zM117.4,456.7h1.0v1.0h-1.0zM121.1,460.4h1.0v1.0h-1.0zM127.7,447.7h1.0v1.0h-1.0zM120.9,454.6h1.0v1.0h-1.0zM128.2,446.6h1.0v1.0h-1.0zM125.4,451.3h1.0v1.0h-1.0zM123.8,454.9h1.0v1.0h-1.0zM118.8,454.9h1.0v1.0h-1.0zM125.0,449.8h1.0v1.0h-1.0zM118.1,462.4h1.0v1.0h-1.0zM121.9,451.7h1.0v1.0h-1.0zM125.8,451.0h1.0v1.0h-1.0zM122.7,449.3h1.0v1.0h-1.0zM118.2,455.6h1.0v1.0h-1.0zM120.3,453.9h1.0v1.0h-1.0zM122.1,456.0h1.0v1.0h-1.0zM121.4,451.3h1.0v1.0h-1.0zM125.5,447.5h1.0v1.0h-1.0zM120.2,449.2h1.0v1.0h-1.0zM122.6,455.3h1.0v1.0h-1.0zM124.4,450.3h1.0v1.0h-1.0zM122.3,455.2h1.0v1.0h-1.0zM121.2,460.8h1.0v1.0h-1.0zM121.1,451.2h1.0v1.0h-1.0zM121.4,453.6h1.0v1.0h-1.0zM120.6,457.5h1.0v1.0h-1.0zM126.2,455.1h1.0v1.0h-1.0zM124.0,449.8h1.0v1.0h-1.0zM121.9,454.0h1.0v1.0h-1.0zM124.5,448.6h1.0v1.0h-1.0zM122.9,451.8h1.0v1.0h-1.0zM118.6,461.5h1.0v1.0h-1.0zM124.8,449.8h1.0v1.0h-1.0zM125.6,454.3h1.0v1.0h-1.0z" fill="#4a92c8" opacity="0.42"/>
<path d="M121.2,454.5h1.0v1.0h-1.0zM126.7,450.9h1.0v1.0h-1.0zM125.3,446.0h1.0v1.0h-1.0zM121.4,454.4h1.0v1.0h-1.0zM122.5,459.5h1.0v1.0h-1.0zM125.6,452.5h1.0v1.0h-1.0zM126.3,451.9h1.0v1.0h-1.0zM120.1,457.4h1.0v1.0h-1.0zM123.3,461.6h1.0v1.0h-1.0zM126.4,454.2h1.0v1.0h-1.0zM120.2,457.1h1.0v1.0h-1.0zM124.5,452.6h1.0v1.0h-1.0zM126.2,454.3h1.0v1.0h-1.0zM121.3,456.7h1.0v1.0h-1.0zM121.7,458.1h1.0v1.0h-1.0zM120.3,454.0h1.0v1.0h-1.0zM122.9,453.9h1.0v1.0h-1.0zM121.7,455.1h1.0v1.0h-1.0zM124.4,451.1h1.0v1.0h-1.0zM125.2,448.0h1.0v1.0h-1.0zM119.4,458.9h1.0v1.0h-1.0zM122.1,450.7h1.0v1.0h-1.0zM118.2,459.6h1.0v1.0h-1.0zM122.2,452.9h1.0v1.0h-1.0zM121.0,455.1h1.0v1.0h-1.0zM124.4,450.1h1.0v1.0h-1.0zM122.4,453.8h1.0v1.0h-1.0zM119.1,459.3h1.0v1.0h-1.0zM125.3,451.1h1.0v1.0h-1.0zM123.7,449.2h1.0v1.0h-1.0zM121.8,452.6h1.0v1.0h-1.0zM121.6,454.9h1.0v1.0h-1.0zM121.4,448.1h1.0v1.0h-1.0zM122.2,454.6h1.0v1.0h-1.0zM121.7,454.4h1.0v1.0h-1.0zM117.8,459.2h1.0v1.0h-1.0zM124.4,457.4h1.0v1.0h-1.0zM120.3,463.9h1.0v1.0h-1.0zM121.9,454.8h1.0v1.0h-1.0zM125.1,449.7h1.0v1.0h-1.0zM125.0,456.2h1.0v1.0h-1.0zM121.2,464.0h1.0v1.0h-1.0zM124.1,448.6h1.0v1.0h-1.0zM117.0,463.2h1.0v1.0h-1.0zM120.3,456.4h1.0v1.0h-1.0zM126.2,448.3h1.0v1.0h-1.0zM124.2,449.2h1.0v1.0h-1.0zM121.4,458.5h1.0v1.0h-1.0zM120.1,449.8h1.0v1.0h-1.0zM122.6,449.7h1.0v1.0h-1.0zM120.3,449.0h1.0v1.0h-1.0zM125.9,456.7h1.0v1.0h-1.0zM124.9,448.5h1.0v1.0h-1.0zM124.6,448.7h1.0v1.0h-1.0zM123.4,456.1h1.0v1.0h-1.0zM123.9,448.2h1.0v1.0h-1.0zM124.8,450.0h1.0v1.0h-1.0zM124.9,450.2h1.0v1.0h-1.0zM122.5,456.2h1.0v1.0h-1.0zM119.5,451.8h1.0v1.0h-1.0zM118.9,447.7h1.0v1.0h-1.0zM119.7,460.5h1.0v1.0h-1.0zM119.0,459.4h1.0v1.0h-1.0zM127.1,445.4h1.0v1.0h-1.0zM121.7,449.3h1.0v1.0h-1.0zM117.8,456.7h1.0v1.0h-1.0zM122.3,452.0h1.0v1.0h-1.0zM120.5,460.0h1.0v1.0h-1.0zM117.0,460.9h1.0v1.0h-1.0zM124.3,451.9h1.0v1.0h-1.0zM126.7,452.3h1.0v1.0h-1.0zM116.7,460.7h1.0v1.0h-1.0zM125.8,449.4h1.0v1.0h-1.0zM119.6,463.2h1.0v1.0h-1.0zM125.6,450.9h1.0v1.0h-1.0zM125.3,449.2h1.0v1.0h-1.0zM127.4,448.4h1.0v1.0h-1.0zM125.5,451.8h1.0v1.0h-1.0zM124.4,450.1h1.0v1.0h-1.0zM124.0,448.5h1.0v1.0h-1.0zM124.3,448.0h1.0v1.0h-1.0zM122.3,454.4h1.0v1.0h-1.0zM123.1,448.3h1.0v1.0h-1.0zM117.3,459.9h1.0v1.0h-1.0zM121.0,459.8h1.0v1.0h-1.0zM124.4,447.3h1.0v1.0h-1.0zM121.0,450.4h1.0v1.0h-1.0zM124.8,451.4h1.0v1.0h-1.0zM121.5,456.2h1.0v1.0h-1.0zM124.8,451.9h1.0v1.0h-1.0zM117.5,458.8h1.0v1.0h-1.0zM123.3,449.7h1.0v1.0h-1.0zM120.1,465.0h1.0v1.0h-1.0zM124.7,451.1h1.0v1.0h-1.0zM120.2,461.6h1.0v1.0h-1.0zM120.9,452.9h1.0v1.0h-1.0zM123.7,454.3h1.0v1.0h-1.0zM121.3,456.2h1.0v1.0h-1.0zM119.6,455.4h1.0v1.0h-1.0zM123.4,455.6h1.0v1.0h-1.0zM122.8,452.0h1.0v1.0h-1.0zM119.0,460.4h1.0v1.0h-1.0zM121.2,453.4h1.0v1.0h-1.0zM115.5,462.6h1.0v1.0h-1.0zM124.1,452.7h1.0v1.0h-1.0z" fill="#4a92c8" opacity="0.42"/>
<path d="M126.3,447.1h1.0v1.0h-1.0zM125.7,448.7h1.0v1.0h-1.0zM124.4,448.7h1.0v1.0h-1.0zM124.9,450.8h1.0v1.0h-1.0zM119.6,457.8h1.0v1.0h-1.0zM122.9,458.8h1.0v1.0h-1.0zM124.0,450.2h1.0v1.0h-1.0zM123.9,450.1h1.0v1.0h-1.0zM124.3,449.4h1.0v1.0h-1.0zM121.9,455.4h1.0v1.0h-1.0zM122.6,449.6h1.0v1.0h-1.0zM126.1,454.1h1.0v1.0h-1.0zM125.7,452.4h1.0v1.0h-1.0zM120.6,456.0h1.0v1.0h-1.0zM122.0,447.8h1.0v1.0h-1.0zM124.8,451.2h1.0v1.0h-1.0zM125.2,452.8h1.0v1.0h-1.0zM121.5,449.2h1.0v1.0h-1.0zM120.6,457.5h1.0v1.0h-1.0zM119.8,459.4h1.0v1.0h-1.0zM126.4,451.4h1.0v1.0h-1.0zM125.7,446.6h1.0v1.0h-1.0zM123.5,451.1h1.0v1.0h-1.0zM124.0,450.3h1.0v1.0h-1.0zM126.6,450.9h1.0v1.0h-1.0zM123.4,452.7h1.0v1.0h-1.0zM124.1,458.3h1.0v1.0h-1.0zM121.5,460.1h1.0v1.0h-1.0zM125.3,453.2h1.0v1.0h-1.0zM124.2,455.6h1.0v1.0h-1.0zM123.3,449.9h1.0v1.0h-1.0zM124.6,449.9h1.0v1.0h-1.0zM124.6,447.2h1.0v1.0h-1.0zM118.5,454.4h1.0v1.0h-1.0zM117.7,459.3h1.0v1.0h-1.0zM127.2,451.3h1.0v1.0h-1.0zM123.7,456.9h1.0v1.0h-1.0zM118.3,457.3h1.0v1.0h-1.0zM127.3,454.2h1.0v1.0h-1.0zM126.3,450.1h1.0v1.0h-1.0zM125.2,448.1h1.0v1.0h-1.0zM123.4,454.6h1.0v1.0h-1.0zM121.8,457.7h1.0v1.0h-1.0zM124.5,452.0h1.0v1.0h-1.0zM123.5,448.7h1.0v1.0h-1.0zM130.7,452.8h1.0v1.0h-1.0zM124.1,449.8h1.0v1.0h-1.0zM124.2,452.1h1.0v1.0h-1.0zM124.5,454.6h1.0v1.0h-1.0zM119.3,450.5h1.0v1.0h-1.0zM119.0,458.3h1.0v1.0h-1.0zM119.7,456.8h1.0v1.0h-1.0zM119.8,466.3h1.0v1.0h-1.0zM123.7,451.9h1.0v1.0h-1.0zM124.6,448.4h1.0v1.0h-1.0zM122.4,454.8h1.0v1.0h-1.0zM124.3,452.3h1.0v1.0h-1.0zM124.1,449.3h1.0v1.0h-1.0zM123.8,449.8h1.0v1.0h-1.0zM116.0,458.1h1.0v1.0h-1.0zM116.2,464.3h1.0v1.0h-1.0zM119.3,453.7h1.0v1.0h-1.0zM122.6,449.0h1.0v1.0h-1.0zM121.1,452.9h1.0v1.0h-1.0zM124.1,449.9h1.0v1.0h-1.0zM124.8,448.8h1.0v1.0h-1.0zM125.5,450.8h1.0v1.0h-1.0zM121.1,453.3h1.0v1.0h-1.0zM117.6,460.9h1.0v1.0h-1.0zM126.2,448.2h1.0v1.0h-1.0zM118.9,456.8h1.0v1.0h-1.0zM117.8,457.3h1.0v1.0h-1.0zM124.7,452.4h1.0v1.0h-1.0zM125.5,449.4h1.0v1.0h-1.0zM123.2,458.2h1.0v1.0h-1.0zM121.3,458.1h1.0v1.0h-1.0zM124.2,451.5h1.0v1.0h-1.0zM119.8,454.5h1.0v1.0h-1.0zM122.4,450.2h1.0v1.0h-1.0zM124.3,451.6h1.0v1.0h-1.0zM124.2,453.6h1.0v1.0h-1.0zM125.0,447.2h1.0v1.0h-1.0zM123.9,453.5h1.0v1.0h-1.0zM119.8,459.6h1.0v1.0h-1.0zM126.1,453.7h1.0v1.0h-1.0zM121.1,452.8h1.0v1.0h-1.0zM125.3,450.1h1.0v1.0h-1.0zM118.5,462.4h1.0v1.0h-1.0zM121.6,457.9h1.0v1.0h-1.0zM125.9,452.0h1.0v1.0h-1.0zM122.9,450.8h1.0v1.0h-1.0zM118.4,461.0h1.0v1.0h-1.0zM116.1,466.1h1.0v1.0h-1.0zM123.5,453.4h1.0v1.0h-1.0zM117.5,463.9h1.0v1.0h-1.0zM122.1,447.7h1.0v1.0h-1.0zM122.9,458.7h1.0v1.0h-1.0zM124.3,449.1h1.0v1.0h-1.0zM122.8,461.4h1.0v1.0h-1.0zM121.9,449.2h1.0v1.0h-1.0zM117.5,460.8h1.0v1.0h-1.0zM122.1,457.7h1.0v1.0h-1.0zM126.5,450.2h1.0v1.0h-1.0zM120.3,454.6h1.0v1.0h-1.0zM122.3,447.1h1.0v1.0h-1.0z" fill="#4a92c8" opacity="0.42"/>
<path d="M121.1,456.6h1.0v1.0h-1.0zM120.7,451.2h1.0v1.0h-1.0zM120.2,458.0h1.0v1.0h-1.0zM118.8,453.0h1.0v1.0h-1.0zM118.6,455.3h1.0v1.0h-1.0zM122.3,456.6h1.0v1.0h-1.0zM119.4,460.5h1.0v1.0h-1.0zM118.2,460.5h1.0v1.0h-1.0zM124.9,457.9h1.0v1.0h-1.0zM127.1,451.2h1.0v1.0h-1.0zM122.1,458.7h1.0v1.0h-1.0zM122.6,451.7h1.0v1.0h-1.0zM125.7,447.9h1.0v1.0h-1.0zM121.6,456.0h1.0v1.0h-1.0zM120.8,464.7h1.0v1.0h-1.0zM121.9,453.0h1.0v1.0h-1.0zM125.1,449.1h1.0v1.0h-1.0zM126.7,449.3h1.0v1.0h-1.0zM123.2,449.3h1.0v1.0h-1.0zM117.0,463.8h1.0v1.0h-1.0zM122.5,445.4h1.0v1.0h-1.0zM123.5,450.8h1.0v1.0h-1.0zM122.3,450.1h1.0v1.0h-1.0zM117.4,455.8h1.0v1.0h-1.0zM120.4,458.1h1.0v1.0h-1.0zM119.3,467.2h1.0v1.0h-1.0zM120.7,451.9h1.0v1.0h-1.0zM126.4,455.5h1.0v1.0h-1.0zM121.1,461.0h1.0v1.0h-1.0zM120.5,454.6h1.0v1.0h-1.0zM120.5,458.4h1.0v1.0h-1.0zM119.8,459.2h1.0v1.0h-1.0zM124.8,454.6h1.0v1.0h-1.0zM126.6,447.0h1.0v1.0h-1.0zM128.2,450.4h1.0v1.0h-1.0zM126.6,451.3h1.0v1.0h-1.0zM121.2,453.1h1.0v1.0h-1.0zM123.8,455.9h1.0v1.0h-1.0zM118.8,454.9h1.0v1.0h-1.0zM124.1,449.7h1.0v1.0h-1.0zM126.6,454.2h1.0v1.0h-1.0zM120.9,458.4h1.0v1.0h-1.0zM123.4,453.7h1.0v1.0h-1.0zM121.0,454.1h1.0v1.0h-1.0zM119.8,458.6h1.0v1.0h-1.0zM120.8,458.0h1.0v1.0h-1.0zM124.9,452.5h1.0v1.0h-1.0zM125.2,447.1h1.0v1.0h-1.0zM129.8,449.2h1.0v1.0h-1.0zM122.9,448.7h1.0v1.0h-1.0zM121.1,456.5h1.0v1.0h-1.0zM122.6,454.1h1.0v1.0h-1.0zM125.2,451.1h1.0v1.0h-1.0zM124.7,449.1h1.0v1.0h-1.0zM121.7,448.8h1.0v1.0h-1.0zM118.6,449.6h1.0v1.0h-1.0zM122.1,451.8h1.0v1.0h-1.0zM123.9,448.5h1.0v1.0h-1.0zM118.1,456.9h1.0v1.0h-1.0zM119.7,462.7h1.0v1.0h-1.0zM124.5,453.7h1.0v1.0h-1.0zM126.5,451.9h1.0v1.0h-1.0zM124.9,454.3h1.0v1.0h-1.0zM122.5,451.5h1.0v1.0h-1.0zM124.7,451.8h1.0v1.0h-1.0zM121.1,452.5h1.0v1.0h-1.0zM126.6,450.5h1.0v1.0h-1.0zM121.3,456.3h1.0v1.0h-1.0zM117.1,460.7h1.0v1.0h-1.0zM121.8,446.7h1.0v1.0h-1.0zM122.7,462.0h1.0v1.0h-1.0zM125.1,447.3h1.0v1.0h-1.0zM121.1,461.5h1.0v1.0h-1.0zM119.1,452.7h1.0v1.0h-1.0zM120.2,451.0h1.0v1.0h-1.0zM120.1,454.9h1.0v1.0h-1.0zM118.6,450.7h1.0v1.0h-1.0zM124.4,446.7h1.0v1.0h-1.0zM126.1,452.9h1.0v1.0h-1.0zM122.6,447.5h1.0v1.0h-1.0zM122.2,460.9h1.0v1.0h-1.0zM118.2,463.4h1.0v1.0h-1.0zM123.8,450.7h1.0v1.0h-1.0zM119.1,463.4h1.0v1.0h-1.0zM122.2,447.9h1.0v1.0h-1.0zM122.1,457.8h1.0v1.0h-1.0zM125.2,455.7h1.0v1.0h-1.0zM123.4,449.8h1.0v1.0h-1.0zM121.1,455.7h1.0v1.0h-1.0zM120.1,455.8h1.0v1.0h-1.0zM121.9,456.0h1.0v1.0h-1.0zM116.0,464.5h1.0v1.0h-1.0zM119.7,459.2h1.0v1.0h-1.0zM118.3,458.1h1.0v1.0h-1.0zM116.3,463.3h1.0v1.0h-1.0zM123.3,458.5h1.0v1.0h-1.0zM116.8,460.7h1.0v1.0h-1.0zM122.0,453.5h1.0v1.0h-1.0zM118.1,455.4h1.0v1.0h-1.0zM120.7,463.5h1.0v1.0h-1.0zM119.9,455.7h1.0v1.0h-1.0zM125.3,448.0h1.0v1.0h-1.0zM118.9,463.2h1.0v1.0h-1.0zM126.3,452.1h1.0v1.0h-1.0zM124.8,448.2h1.0v1.0h-1.0z" fill="#4a92c8" opacity="0.42"/>
<path d="M109.5,475.9h1.0v1.0h-1.0zM109.6,475.4h1.0v1.0h-1.0zM106.0,477.9h1.0v1.0h-1.0zM111.1,482.5h1.0v1.0h-1.0zM103.8,474.0h1.0v1.0h-1.0zM112.7,473.8h1.0v1.0h-1.0zM119.1,478.1h1.0v1.0h-1.0zM111.5,485.6h1.0v1.0h-1.0zM112.7,479.0h1.0v1.0h-1.0zM111.1,479.9h1.0v1.0h-1.0zM102.5,478.4h1.0v1.0h-1.0zM110.4,482.5h1.0v1.0h-1.0zM104.6,479.6h1.0v1.0h-1.0zM105.3,476.8h1.0v1.0h-1.0zM112.1,473.4h1.0v1.0h-1.0zM112.6,471.2h1.0v1.0h-1.0zM105.4,477.2h1.0v1.0h-1.0zM113.3,472.2h1.0v1.0h-1.0zM105.2,480.2h1.0v1.0h-1.0zM111.4,480.3h1.0v1.0h-1.0zM113.0,475.4h1.0v1.0h-1.0zM112.3,479.7h1.0v1.0h-1.0zM116.5,479.0h1.0v1.0h-1.0zM112.1,470.2h1.0v1.0h-1.0zM103.5,488.4h1.0v1.0h-1.0zM117.5,477.0h1.0v1.0h-1.0zM104.4,477.3h1.0v1.0h-1.0zM113.9,480.2h1.0v1.0h-1.0zM118.6,479.4h1.0v1.0h-1.0zM97.0,476.4h1.0v1.0h-1.0zM102.7,479.8h1.0v1.0h-1.0zM103.1,480.8h1.0v1.0h-1.0zM112.4,472.7h1.0v1.0h-1.0zM104.0,483.5h1.0v1.0h-1.0zM111.0,480.0h1.0v1.0h-1.0zM99.1,480.1h1.0v1.0h-1.0zM111.1,479.7h1.0v1.0h-1.0zM97.1,473.8h1.0v1.0h-1.0zM111.8,482.9h1.0v1.0h-1.0zM110.9,472.5h1.0v1.0h-1.0zM107.3,481.3h1.0v1.0h-1.0zM108.8,478.1h1.0v1.0h-1.0zM106.5,477.4h1.0v1.0h-1.0zM104.3,477.0h1.0v1.0h-1.0zM110.7,479.2h1.0v1.0h-1.0zM109.2,479.7h1.0v1.0h-1.0zM107.2,478.6h1.0v1.0h-1.0zM114.2,480.2h1.0v1.0h-1.0zM106.4,476.4h1.0v1.0h-1.0zM116.0,482.6h1.0v1.0h-1.0zM110.8,475.6h1.0v1.0h-1.0zM100.4,473.1h1.0v1.0h-1.0zM118.5,483.2h1.0v1.0h-1.0zM92.7,477.8h1.0v1.0h-1.0zM104.3,480.5h1.0v1.0h-1.0zM106.7,471.2h1.0v1.0h-1.0zM108.4,480.4h1.0v1.0h-1.0zM114.0,486.4h1.0v1.0h-1.0zM115.1,477.4h1.0v1.0h-1.0zM115.5,483.1h1.0v1.0h-1.0zM102.7,480.4h1.0v1.0h-1.0zM107.5,473.8h1.0v1.0h-1.0zM107.5,472.4h1.0v1.0h-1.0zM112.4,477.2h1.0v1.0h-1.0zM98.3,479.3h1.0v1.0h-1.0zM109.2,477.9h1.0v1.0h-1.0zM110.9,466.6h1.0v1.0h-1.0zM113.4,474.3h1.0v1.0h-1.0zM107.2,477.4h1.0v1.0h-1.0zM109.6,475.3h1.0v1.0h-1.0zM97.7,474.2h1.0v1.0h-1.0zM89.1,470.2h1.0v1.0h-1.0zM121.6,480.6h1.0v1.0h-1.0zM108.2,478.5h1.0v1.0h-1.0zM118.8,468.8h1.0v1.0h-1.0zM108.0,477.5h1.0v1.0h-1.0zM102.1,482.9h1.0v1.0h-1.0zM107.8,483.2h1.0v1.0h-1.0zM101.6,476.3h1.0v1.0h-1.0zM110.2,486.1h1.0v1.0h-1.0zM98.6,479.2h1.0v1.0h-1.0zM102.7,478.3h1.0v1.0h-1.0zM113.3,479.2h1.0v1.0h-1.0zM113.0,478.0h1.0v1.0h-1.0zM122.2,471.3h1.0v1.0h-1.0zM99.9,480.1h1.0v1.0h-1.0zM107.6,480.3h1.0v1.0h-1.0zM106.0,476.2h1.0v1.0h-1.0zM111.6,481.2h1.0v1.0h-1.0zM110.2,473.1h1.0v1.0h-1.0zM103.4,488.7h1.0v1.0h-1.0zM106.1,482.1h1.0v1.0h-1.0zM108.6,477.6h1.0v1.0h-1.0zM100.8,477.2h1.0v1.0h-1.0zM98.0,480.9h1.0v1.0h-1.0zM101.6,474.7h1.0v1.0h-1.0zM107.3,477.8h1.0v1.0h-1.0zM103.8,480.4h1.0v1.0h-1.0zM114.3,478.4h1.0v1.0h-1.0zM101.2,478.7h1.0v1.0h-1.0zM117.8,476.5h1.0v1.0h-1.0zM112.5,476.2h1.0v1.0h-1.0zM119.7,474.2h1.0v1.0h-1.0zM106.4,471.0h1.0v1.0h-1.0zM110.0,478.1h1.0v1.0h-1.0zM92.1,484.7h1.0v1.0h-1.0zM110.2,481.9h1.0v1.0h-1.0zM109.9,474.0h1.0v1.0h-1.0zM109.3,480.7h1.0v1.0h-1.0zM108.0,479.3h1.0v1.0h-1.0zM111.2,483.1h1.0v1.0h-1.0zM106.7,476.2h1.0v1.0h-1.0zM105.9,476.1h1.0v1.0h-1.0zM111.0,477.9h1.0v1.0h-1.0zM116.3,472.9h1.0v1.0h-1.0zM113.7,479.8h1.0v1.0h-1.0zM109.3,479.9h1.0v1.0h-1.0zM98.0,476.4h1.0v1.0h-1.0zM107.9,473.1h1.0v1.0h-1.0zM97.2,487.7h1.0v1.0h-1.0zM96.6,480.6h1.0v1.0h-1.0zM110.3,478.1h1.0v1.0h-1.0zM113.7,469.4h1.0v1.0h-1.0zM109.6,469.3h1.0v1.0h-1.0zM107.9,473.7h1.0v1.0h-1.0zM109.6,477.0h1.0v1.0h-1.0zM99.5,464.5h1.0v1.0h-1.0zM103.6,477.9h1.0v1.0h-1.0zM106.5,479.8h1.0v1.0h-1.0zM102.3,475.5h1.0v1.0h-1.0zM119.0,467.5h1.0v1.0h-1.0zM109.9,473.3h1.0v1.0h-1.0zM112.2,474.0h1.0v1.0h-1.0zM107.6,477.7h1.0v1.0h-1.0zM119.5,469.2h1.0v1.0h-1.0zM112.8,471.3h1.0v1.0h-1.0zM118.0,469.9h1.0v1.0h-1.0zM109.0,478.3h1.0v1.0h-1.0zM113.1,476.7h1.0v1.0h-1.0zM112.2,474.5h1.0v1.0h-1.0zM116.9,466.6h1.0v1.0h-1.0zM110.2,472.0h1.0v1.0h-1.0zM116.9,468.9h1.0v1.0h-1.0zM107.6,474.7h1.0v1.0h-1.0zM112.0,481.5h1.0v1.0h-1.0zM108.7,475.9h1.0v1.0h-1.0zM111.9,472.2h1.0v1.0h-1.0zM123.8,470.0h1.0v1.0h-1.0zM120.7,472.3h1.0v1.0h-1.0zM117.9,467.9h1.0v1.0h-1.0zM111.5,474.5h1.0v1.0h-1.0zM113.3,473.6h1.0v1.0h-1.0zM116.4,478.5h1.0v1.0h-1.0zM120.5,466.9h1.0v1.0h-1.0zM118.1,471.6h1.0v1.0h-1.0zM119.2,468.0h1.0v1.0h-1.0zM114.3,471.8h1.0v1.0h-1.0zM106.9,477.2h1.0v1.0h-1.0zM117.5,468.5h1.0v1.0h-1.0zM117.0,472.6h1.0v1.0h-1.0z" fill="#5a92c4" opacity="0.3"/>
<path d="M112.7,480.5h1.0v1.0h-1.0zM100.1,477.7h1.0v1.0h-1.0zM105.2,473.3h1.0v1.0h-1.0zM114.0,477.3h1.0v1.0h-1.0zM102.1,473.5h1.0v1.0h-1.0zM111.3,474.0h1.0v1.0h-1.0zM109.0,476.8h1.0v1.0h-1.0zM109.6,480.5h1.0v1.0h-1.0zM105.0,477.3h1.0v1.0h-1.0zM98.0,478.7h1.0v1.0h-1.0zM110.0,477.3h1.0v1.0h-1.0zM105.4,481.8h1.0v1.0h-1.0zM111.2,474.6h1.0v1.0h-1.0zM103.7,486.8h1.0v1.0h-1.0zM103.0,476.9h1.0v1.0h-1.0zM100.5,474.4h1.0v1.0h-1.0zM114.4,479.5h1.0v1.0h-1.0zM114.2,473.8h1.0v1.0h-1.0zM106.5,482.3h1.0v1.0h-1.0zM105.1,476.1h1.0v1.0h-1.0zM102.2,483.8h1.0v1.0h-1.0zM102.3,476.1h1.0v1.0h-1.0zM100.2,481.9h1.0v1.0h-1.0zM106.7,473.9h1.0v1.0h-1.0zM112.9,477.2h1.0v1.0h-1.0zM110.9,479.8h1.0v1.0h-1.0zM110.8,478.7h1.0v1.0h-1.0zM106.8,480.4h1.0v1.0h-1.0zM110.7,477.7h1.0v1.0h-1.0zM108.8,477.9h1.0v1.0h-1.0zM111.8,481.1h1.0v1.0h-1.0zM115.2,476.6h1.0v1.0h-1.0zM106.3,471.6h1.0v1.0h-1.0zM104.0,470.6h1.0v1.0h-1.0zM105.1,473.3h1.0v1.0h-1.0zM105.2,481.6h1.0v1.0h-1.0zM103.2,478.9h1.0v1.0h-1.0zM115.2,471.0h1.0v1.0h-1.0zM102.0,476.9h1.0v1.0h-1.0zM107.2,473.5h1.0v1.0h-1.0zM114.8,472.9h1.0v1.0h-1.0zM118.0,480.3h1.0v1.0h-1.0zM103.0,474.3h1.0v1.0h-1.0zM102.2,478.6h1.0v1.0h-1.0zM102.1,478.0h1.0v1.0h-1.0zM112.5,475.8h1.0v1.0h-1.0zM110.0,474.3h1.0v1.0h-1.0zM102.5,474.3h1.0v1.0h-1.0zM98.3,479.3h1.0v1.0h-1.0zM96.5,478.0h1.0v1.0h-1.0zM116.3,472.5h1.0v1.0h-1.0zM109.6,477.2h1.0v1.0h-1.0zM101.1,479.4h1.0v1.0h-1.0zM108.9,475.3h1.0v1.0h-1.0zM105.8,476.7h1.0v1.0h-1.0zM106.1,486.8h1.0v1.0h-1.0zM107.4,487.0h1.0v1.0h-1.0zM103.1,479.7h1.0v1.0h-1.0zM113.8,474.9h1.0v1.0h-1.0zM112.2,476.2h1.0v1.0h-1.0zM94.5,481.9h1.0v1.0h-1.0zM99.2,473.2h1.0v1.0h-1.0zM106.8,483.0h1.0v1.0h-1.0zM108.7,482.8h1.0v1.0h-1.0zM106.2,484.2h1.0v1.0h-1.0zM115.8,480.2h1.0v1.0h-1.0zM114.5,475.9h1.0v1.0h-1.0zM117.3,478.2h1.0v1.0h-1.0zM100.3,476.1h1.0v1.0h-1.0zM101.6,475.2h1.0v1.0h-1.0zM106.8,478.5h1.0v1.0h-1.0zM116.7,472.1h1.0v1.0h-1.0zM110.4,471.0h1.0v1.0h-1.0zM109.2,476.6h1.0v1.0h-1.0zM115.7,474.0h1.0v1.0h-1.0zM113.3,481.0h1.0v1.0h-1.0zM114.6,473.7h1.0v1.0h-1.0zM104.1,476.8h1.0v1.0h-1.0zM112.5,481.8h1.0v1.0h-1.0zM106.9,477.6h1.0v1.0h-1.0zM99.1,478.0h1.0v1.0h-1.0zM119.3,480.1h1.0v1.0h-1.0zM101.6,484.4h1.0v1.0h-1.0zM113.3,471.0h1.0v1.0h-1.0zM108.7,470.7h1.0v1.0h-1.0zM105.4,481.3h1.0v1.0h-1.0zM111.2,478.4h1.0v1.0h-1.0zM98.4,475.4h1.0v1.0h-1.0zM102.7,479.7h1.0v1.0h-1.0zM106.9,481.9h1.0v1.0h-1.0zM108.6,478.0h1.0v1.0h-1.0zM109.3,480.6h1.0v1.0h-1.0zM113.4,474.3h1.0v1.0h-1.0zM108.5,478.4h1.0v1.0h-1.0zM113.0,475.6h1.0v1.0h-1.0zM104.8,478.2h1.0v1.0h-1.0zM105.1,476.0h1.0v1.0h-1.0zM106.8,472.2h1.0v1.0h-1.0zM111.2,476.5h1.0v1.0h-1.0zM115.1,478.9h1.0v1.0h-1.0zM106.5,478.5h1.0v1.0h-1.0zM107.2,477.9h1.0v1.0h-1.0zM112.0,470.1h1.0v1.0h-1.0zM97.9,484.1h1.0v1.0h-1.0zM104.7,476.3h1.0v1.0h-1.0zM108.4,477.0h1.0v1.0h-1.0zM109.5,474.1h1.0v1.0h-1.0zM110.3,472.6h1.0v1.0h-1.0zM107.7,475.4h1.0v1.0h-1.0zM111.3,474.8h1.0v1.0h-1.0zM106.7,471.3h1.0v1.0h-1.0zM107.5,477.4h1.0v1.0h-1.0zM120.0,478.0h1.0v1.0h-1.0zM106.4,471.5h1.0v1.0h-1.0zM116.4,469.2h1.0v1.0h-1.0zM109.5,481.2h1.0v1.0h-1.0zM111.2,483.2h1.0v1.0h-1.0zM107.5,479.2h1.0v1.0h-1.0zM110.0,481.5h1.0v1.0h-1.0zM101.0,481.1h1.0v1.0h-1.0zM113.5,485.7h1.0v1.0h-1.0zM105.1,475.4h1.0v1.0h-1.0zM114.3,478.9h1.0v1.0h-1.0zM118.0,473.6h1.0v1.0h-1.0zM105.6,474.0h1.0v1.0h-1.0zM116.3,487.8h1.0v1.0h-1.0zM111.6,475.9h1.0v1.0h-1.0zM107.9,488.2h1.0v1.0h-1.0zM97.2,472.4h1.0v1.0h-1.0zM108.2,478.5h1.0v1.0h-1.0zM120.0,471.4h1.0v1.0h-1.0zM112.6,472.1h1.0v1.0h-1.0zM117.4,472.4h1.0v1.0h-1.0zM109.8,479.1h1.0v1.0h-1.0zM110.0,474.8h1.0v1.0h-1.0zM122.0,467.5h1.0v1.0h-1.0zM116.7,467.0h1.0v1.0h-1.0zM108.2,473.8h1.0v1.0h-1.0zM120.4,470.9h1.0v1.0h-1.0zM114.8,475.9h1.0v1.0h-1.0zM116.5,473.3h1.0v1.0h-1.0zM119.2,470.1h1.0v1.0h-1.0zM114.8,475.1h1.0v1.0h-1.0zM110.5,475.8h1.0v1.0h-1.0zM120.9,467.1h1.0v1.0h-1.0zM114.4,470.5h1.0v1.0h-1.0zM111.6,472.2h1.0v1.0h-1.0zM113.8,473.7h1.0v1.0h-1.0zM119.8,474.0h1.0v1.0h-1.0zM117.6,467.0h1.0v1.0h-1.0zM114.1,471.3h1.0v1.0h-1.0zM111.5,469.9h1.0v1.0h-1.0zM109.8,478.5h1.0v1.0h-1.0zM116.8,473.1h1.0v1.0h-1.0zM110.8,475.4h1.0v1.0h-1.0zM115.8,469.1h1.0v1.0h-1.0zM115.6,467.0h1.0v1.0h-1.0zM111.1,476.7h1.0v1.0h-1.0zM116.8,467.7h1.0v1.0h-1.0zM116.5,470.8h1.0v1.0h-1.0z" fill="#5a92c4" opacity="0.3"/>
<path d="M112.5,486.3h1.0v1.0h-1.0zM103.8,477.1h1.0v1.0h-1.0zM117.0,481.2h1.0v1.0h-1.0zM100.6,478.4h1.0v1.0h-1.0zM105.1,477.7h1.0v1.0h-1.0zM106.6,474.2h1.0v1.0h-1.0zM103.1,472.4h1.0v1.0h-1.0zM106.8,474.0h1.0v1.0h-1.0zM117.0,478.8h1.0v1.0h-1.0zM106.4,467.8h1.0v1.0h-1.0zM106.4,479.6h1.0v1.0h-1.0zM112.8,474.8h1.0v1.0h-1.0zM114.5,475.6h1.0v1.0h-1.0zM103.9,474.9h1.0v1.0h-1.0zM109.7,481.1h1.0v1.0h-1.0zM108.1,474.7h1.0v1.0h-1.0zM106.7,478.3h1.0v1.0h-1.0zM112.0,472.0h1.0v1.0h-1.0zM107.6,475.9h1.0v1.0h-1.0zM102.7,474.8h1.0v1.0h-1.0zM108.6,476.1h1.0v1.0h-1.0zM112.2,476.7h1.0v1.0h-1.0zM103.2,478.4h1.0v1.0h-1.0zM105.5,478.1h1.0v1.0h-1.0zM119.2,481.8h1.0v1.0h-1.0zM117.9,483.2h1.0v1.0h-1.0zM108.3,474.7h1.0v1.0h-1.0zM115.2,474.9h1.0v1.0h-1.0zM115.1,472.5h1.0v1.0h-1.0zM107.6,476.6h1.0v1.0h-1.0zM101.7,482.2h1.0v1.0h-1.0zM111.2,479.6h1.0v1.0h-1.0zM114.1,480.5h1.0v1.0h-1.0zM106.3,475.7h1.0v1.0h-1.0zM112.3,482.5h1.0v1.0h-1.0zM115.9,476.2h1.0v1.0h-1.0zM103.9,475.4h1.0v1.0h-1.0zM114.7,477.8h1.0v1.0h-1.0zM110.7,481.0h1.0v1.0h-1.0zM107.1,475.9h1.0v1.0h-1.0zM100.8,474.2h1.0v1.0h-1.0zM114.0,477.8h1.0v1.0h-1.0zM109.1,484.3h1.0v1.0h-1.0zM103.5,482.0h1.0v1.0h-1.0zM108.3,482.6h1.0v1.0h-1.0zM98.5,468.6h1.0v1.0h-1.0zM106.4,477.2h1.0v1.0h-1.0zM110.1,474.6h1.0v1.0h-1.0zM109.8,476.3h1.0v1.0h-1.0zM112.3,480.7h1.0v1.0h-1.0zM105.7,475.5h1.0v1.0h-1.0zM110.0,472.1h1.0v1.0h-1.0zM102.7,478.9h1.0v1.0h-1.0zM112.6,475.9h1.0v1.0h-1.0zM111.7,482.7h1.0v1.0h-1.0zM107.2,480.6h1.0v1.0h-1.0zM110.6,477.1h1.0v1.0h-1.0zM105.5,477.8h1.0v1.0h-1.0zM106.5,476.0h1.0v1.0h-1.0zM111.0,489.8h1.0v1.0h-1.0zM105.5,476.7h1.0v1.0h-1.0zM112.3,479.0h1.0v1.0h-1.0zM118.4,475.1h1.0v1.0h-1.0zM113.3,479.6h1.0v1.0h-1.0zM108.8,474.4h1.0v1.0h-1.0zM108.0,483.0h1.0v1.0h-1.0zM112.8,475.1h1.0v1.0h-1.0zM110.8,474.4h1.0v1.0h-1.0zM110.6,472.4h1.0v1.0h-1.0zM110.1,472.6h1.0v1.0h-1.0zM116.1,477.3h1.0v1.0h-1.0zM111.6,479.3h1.0v1.0h-1.0zM109.8,471.2h1.0v1.0h-1.0zM109.0,471.9h1.0v1.0h-1.0zM114.5,474.5h1.0v1.0h-1.0zM104.1,480.8h1.0v1.0h-1.0zM112.8,473.7h1.0v1.0h-1.0zM105.6,484.9h1.0v1.0h-1.0zM105.3,481.1h1.0v1.0h-1.0zM108.0,475.8h1.0v1.0h-1.0zM109.1,483.9h1.0v1.0h-1.0zM111.8,488.9h1.0v1.0h-1.0zM107.7,486.7h1.0v1.0h-1.0zM122.3,481.5h1.0v1.0h-1.0zM107.3,475.4h1.0v1.0h-1.0zM101.2,473.8h1.0v1.0h-1.0zM109.7,476.2h1.0v1.0h-1.0zM105.8,473.8h1.0v1.0h-1.0zM107.1,477.1h1.0v1.0h-1.0zM104.6,474.1h1.0v1.0h-1.0zM105.7,479.7h1.0v1.0h-1.0zM108.7,475.5h1.0v1.0h-1.0zM111.2,477.1h1.0v1.0h-1.0zM120.3,474.9h1.0v1.0h-1.0zM107.5,475.2h1.0v1.0h-1.0zM108.9,481.7h1.0v1.0h-1.0zM111.5,482.2h1.0v1.0h-1.0zM104.8,477.9h1.0v1.0h-1.0zM116.2,474.3h1.0v1.0h-1.0zM112.1,478.5h1.0v1.0h-1.0zM115.7,476.6h1.0v1.0h-1.0zM104.5,473.3h1.0v1.0h-1.0zM105.9,484.3h1.0v1.0h-1.0zM106.8,478.6h1.0v1.0h-1.0zM102.3,471.9h1.0v1.0h-1.0zM116.6,468.0h1.0v1.0h-1.0zM107.5,481.1h1.0v1.0h-1.0zM108.5,475.9h1.0v1.0h-1.0zM112.4,477.3h1.0v1.0h-1.0zM112.6,469.7h1.0v1.0h-1.0zM102.7,477.0h1.0v1.0h-1.0zM103.2,475.5h1.0v1.0h-1.0zM112.8,466.3h1.0v1.0h-1.0zM113.4,475.9h1.0v1.0h-1.0zM110.6,474.4h1.0v1.0h-1.0zM103.4,479.0h1.0v1.0h-1.0zM104.3,472.0h1.0v1.0h-1.0zM106.1,477.6h1.0v1.0h-1.0zM115.3,474.2h1.0v1.0h-1.0zM110.8,474.6h1.0v1.0h-1.0zM106.2,475.7h1.0v1.0h-1.0zM124.1,483.0h1.0v1.0h-1.0zM119.6,477.7h1.0v1.0h-1.0zM115.4,482.2h1.0v1.0h-1.0zM117.7,476.8h1.0v1.0h-1.0zM105.6,478.9h1.0v1.0h-1.0zM106.9,477.9h1.0v1.0h-1.0zM109.4,477.3h1.0v1.0h-1.0zM105.6,483.0h1.0v1.0h-1.0zM116.4,479.2h1.0v1.0h-1.0zM121.5,466.6h1.0v1.0h-1.0zM113.6,470.6h1.0v1.0h-1.0zM118.2,470.8h1.0v1.0h-1.0zM109.1,470.1h1.0v1.0h-1.0zM116.3,465.5h1.0v1.0h-1.0zM112.3,474.6h1.0v1.0h-1.0zM111.9,474.7h1.0v1.0h-1.0zM112.9,465.6h1.0v1.0h-1.0zM114.7,474.8h1.0v1.0h-1.0zM116.8,474.1h1.0v1.0h-1.0zM120.8,474.0h1.0v1.0h-1.0zM115.3,471.7h1.0v1.0h-1.0zM105.4,475.5h1.0v1.0h-1.0zM111.5,471.2h1.0v1.0h-1.0zM117.1,467.5h1.0v1.0h-1.0zM111.3,472.2h1.0v1.0h-1.0zM111.1,471.9h1.0v1.0h-1.0zM110.3,470.0h1.0v1.0h-1.0zM118.3,468.5h1.0v1.0h-1.0zM106.0,481.0h1.0v1.0h-1.0zM115.7,474.0h1.0v1.0h-1.0zM110.7,471.4h1.0v1.0h-1.0zM111.9,475.0h1.0v1.0h-1.0zM115.2,472.7h1.0v1.0h-1.0zM119.7,467.1h1.0v1.0h-1.0zM111.7,475.5h1.0v1.0h-1.0zM113.6,471.0h1.0v1.0h-1.0zM115.5,475.1h1.0v1.0h-1.0zM112.9,469.4h1.0v1.0h-1.0zM110.6,471.4h1.0v1.0h-1.0z" fill="#5a92c4" opacity="0.3"/>
<path d="M111.2,469.3h1.0v1.0h-1.0zM104.8,472.4h1.0v1.0h-1.0zM94.2,479.5h1.0v1.0h-1.0zM102.0,469.2h1.0v1.0h-1.0zM101.3,480.4h1.0v1.0h-1.0zM112.2,470.1h1.0v1.0h-1.0zM110.8,475.5h1.0v1.0h-1.0zM109.6,485.4h1.0v1.0h-1.0zM102.6,475.3h1.0v1.0h-1.0zM99.6,476.5h1.0v1.0h-1.0zM100.9,469.2h1.0v1.0h-1.0zM110.5,483.3h1.0v1.0h-1.0zM113.8,478.5h1.0v1.0h-1.0zM115.1,480.7h1.0v1.0h-1.0zM113.5,479.1h1.0v1.0h-1.0zM106.2,478.0h1.0v1.0h-1.0zM111.2,478.3h1.0v1.0h-1.0zM114.2,481.0h1.0v1.0h-1.0zM103.6,477.2h1.0v1.0h-1.0zM107.9,479.1h1.0v1.0h-1.0zM109.3,477.3h1.0v1.0h-1.0zM112.8,473.5h1.0v1.0h-1.0zM109.6,479.1h1.0v1.0h-1.0zM124.0,477.6h1.0v1.0h-1.0zM113.9,472.3h1.0v1.0h-1.0zM107.4,476.1h1.0v1.0h-1.0zM105.2,479.2h1.0v1.0h-1.0zM103.0,481.0h1.0v1.0h-1.0zM109.5,476.3h1.0v1.0h-1.0zM111.3,471.9h1.0v1.0h-1.0zM113.8,478.6h1.0v1.0h-1.0zM113.3,480.3h1.0v1.0h-1.0zM111.1,484.8h1.0v1.0h-1.0zM107.3,477.4h1.0v1.0h-1.0zM113.6,479.5h1.0v1.0h-1.0zM103.5,476.2h1.0v1.0h-1.0zM114.5,477.3h1.0v1.0h-1.0zM101.5,475.4h1.0v1.0h-1.0zM121.9,484.6h1.0v1.0h-1.0zM107.7,479.1h1.0v1.0h-1.0zM96.6,478.1h1.0v1.0h-1.0zM105.3,469.0h1.0v1.0h-1.0zM106.1,476.1h1.0v1.0h-1.0zM102.8,472.6h1.0v1.0h-1.0zM103.3,469.7h1.0v1.0h-1.0zM121.1,476.8h1.0v1.0h-1.0zM114.5,485.2h1.0v1.0h-1.0zM105.4,487.4h1.0v1.0h-1.0zM110.9,467.2h1.0v1.0h-1.0zM109.1,482.1h1.0v1.0h-1.0zM117.0,475.1h1.0v1.0h-1.0zM110.1,480.6h1.0v1.0h-1.0zM112.4,476.6h1.0v1.0h-1.0zM107.0,479.5h1.0v1.0h-1.0zM106.9,478.2h1.0v1.0h-1.0zM111.7,482.4h1.0v1.0h-1.0zM115.5,474.1h1.0v1.0h-1.0zM107.5,469.2h1.0v1.0h-1.0zM100.8,484.9h1.0v1.0h-1.0zM117.5,478.9h1.0v1.0h-1.0zM115.1,483.9h1.0v1.0h-1.0zM105.5,478.1h1.0v1.0h-1.0zM109.8,473.0h1.0v1.0h-1.0zM111.6,480.3h1.0v1.0h-1.0zM105.5,481.7h1.0v1.0h-1.0zM112.3,479.7h1.0v1.0h-1.0zM109.0,472.4h1.0v1.0h-1.0zM104.2,479.1h1.0v1.0h-1.0zM102.5,473.0h1.0v1.0h-1.0zM110.1,487.8h1.0v1.0h-1.0zM104.4,472.0h1.0v1.0h-1.0zM105.7,471.0h1.0v1.0h-1.0zM99.2,477.4h1.0v1.0h-1.0zM107.2,479.8h1.0v1.0h-1.0zM107.4,477.6h1.0v1.0h-1.0zM109.6,471.9h1.0v1.0h-1.0zM111.3,486.5h1.0v1.0h-1.0zM110.8,474.9h1.0v1.0h-1.0zM109.1,476.6h1.0v1.0h-1.0zM109.8,476.4h1.0v1.0h-1.0zM114.3,479.8h1.0v1.0h-1.0zM108.7,471.6h1.0v1.0h-1.0zM102.2,483.3h1.0v1.0h-1.0zM110.7,487.1h1.0v1.0h-1.0zM113.4,477.3h1.0v1.0h-1.0zM106.0,476.0h1.0v1.0h-1.0zM99.8,475.5h1.0v1.0h-1.0zM106.3,477.2h1.0v1.0h-1.0zM115.0,480.7h1.0v1.0h-1.0zM103.0,478.3h1.0v1.0h-1.0zM111.0,476.3h1.0v1.0h-1.0zM111.0,480.6h1.0v1.0h-1.0zM109.5,480.9h1.0v1.0h-1.0zM109.5,481.1h1.0v1.0h-1.0zM115.4,474.9h1.0v1.0h-1.0zM99.1,478.8h1.0v1.0h-1.0zM100.7,479.4h1.0v1.0h-1.0zM113.9,483.3h1.0v1.0h-1.0zM103.4,481.5h1.0v1.0h-1.0zM110.3,472.6h1.0v1.0h-1.0zM108.3,481.8h1.0v1.0h-1.0zM104.9,472.3h1.0v1.0h-1.0zM107.8,471.3h1.0v1.0h-1.0zM115.5,474.8h1.0v1.0h-1.0zM112.3,475.6h1.0v1.0h-1.0zM108.9,473.9h1.0v1.0h-1.0zM112.4,479.7h1.0v1.0h-1.0zM110.4,482.6h1.0v1.0h-1.0zM102.1,477.6h1.0v1.0h-1.0zM117.9,472.6h1.0v1.0h-1.0zM109.8,482.3h1.0v1.0h-1.0zM105.0,480.8h1.0v1.0h-1.0zM109.8,479.6h1.0v1.0h-1.0zM99.0,483.7h1.0v1.0h-1.0zM109.1,480.2h1.0v1.0h-1.0zM106.1,473.0h1.0v1.0h-1.0zM108.1,483.9h1.0v1.0h-1.0zM111.5,472.2h1.0v1.0h-1.0zM107.4,482.2h1.0v1.0h-1.0zM109.8,477.2h1.0v1.0h-1.0zM109.3,472.9h1.0v1.0h-1.0zM109.1,483.0h1.0v1.0h-1.0zM110.2,478.9h1.0v1.0h-1.0zM109.9,475.7h1.0v1.0h-1.0zM105.9,478.5h1.0v1.0h-1.0zM106.4,479.3h1.0v1.0h-1.0zM111.3,473.2h1.0v1.0h-1.0zM112.8,478.8h1.0v1.0h-1.0zM108.8,472.3h1.0v1.0h-1.0zM109.8,477.5h1.0v1.0h-1.0zM116.9,474.8h1.0v1.0h-1.0zM121.0,465.3h1.0v1.0h-1.0zM119.5,473.4h1.0v1.0h-1.0zM111.3,472.5h1.0v1.0h-1.0zM112.1,473.9h1.0v1.0h-1.0zM117.4,466.3h1.0v1.0h-1.0zM118.6,468.0h1.0v1.0h-1.0zM105.5,471.7h1.0v1.0h-1.0zM117.5,470.8h1.0v1.0h-1.0zM106.5,478.4h1.0v1.0h-1.0zM110.2,471.7h1.0v1.0h-1.0zM110.5,476.2h1.0v1.0h-1.0zM110.5,470.6h1.0v1.0h-1.0zM109.8,472.7h1.0v1.0h-1.0zM120.2,467.2h1.0v1.0h-1.0zM119.3,467.1h1.0v1.0h-1.0zM117.8,467.1h1.0v1.0h-1.0zM117.1,468.1h1.0v1.0h-1.0zM117.0,466.0h1.0v1.0h-1.0zM114.8,466.7h1.0v1.0h-1.0zM116.6,472.8h1.0v1.0h-1.0zM121.8,467.2h1.0v1.0h-1.0zM113.1,468.1h1.0v1.0h-1.0zM106.2,477.7h1.0v1.0h-1.0zM113.9,471.0h1.0v1.0h-1.0zM117.0,466.9h1.0v1.0h-1.0zM117.5,468.3h1.0v1.0h-1.0zM110.0,475.1h1.0v1.0h-1.0zM106.9,472.1h1.0v1.0h-1.0zM110.4,477.5h1.0v1.0h-1.0z" fill="#5a92c4" opacity="0.3"/>
<path d="M118.6,480.9h0.9v0.9h-0.9zM142.0,476.8h0.9v0.9h-0.9zM106.8,440.0h0.9v0.9h-0.9zM134.7,444.2h0.9v0.9h-0.9zM134.1,444.0h0.9v0.9h-0.9zM97.1,468.7h0.9v0.9h-0.9zM114.1,458.8h0.9v0.9h-0.9zM139.9,475.2h0.9v0.9h-0.9zM101.2,461.7h0.9v0.9h-0.9zM126.1,459.6h0.9v0.9h-0.9zM116.9,444.6h0.9v0.9h-0.9zM127.6,464.3h0.9v0.9h-0.9zM134.4,471.4h0.9v0.9h-0.9zM134.3,467.3h0.9v0.9h-0.9zM120.1,476.8h0.9v0.9h-0.9zM137.3,445.0h0.9v0.9h-0.9zM140.6,458.9h0.9v0.9h-0.9zM139.6,471.3h0.9v0.9h-0.9zM136.5,443.0h0.9v0.9h-0.9zM118.8,469.6h0.9v0.9h-0.9zM117.2,468.6h0.9v0.9h-0.9zM120.4,481.0h0.9v0.9h-0.9zM95.1,447.3h0.9v0.9h-0.9zM123.0,439.5h0.9v0.9h-0.9zM123.9,478.6h0.9v0.9h-0.9zM113.9,447.9h0.9v0.9h-0.9zM124.1,452.4h0.9v0.9h-0.9zM108.7,475.6h0.9v0.9h-0.9z" fill="#a8bcd8" opacity="0.3"/>
<path d="M141.3,476.8h0.9v0.9h-0.9zM123.9,464.4h0.9v0.9h-0.9zM136.7,462.2h0.9v0.9h-0.9zM125.5,461.2h0.9v0.9h-0.9zM102.3,449.0h0.9v0.9h-0.9zM117.9,439.5h0.9v0.9h-0.9zM95.2,477.3h0.9v0.9h-0.9zM112.0,463.6h0.9v0.9h-0.9zM93.9,435.1h0.9v0.9h-0.9zM93.7,480.9h0.9v0.9h-0.9zM113.4,437.7h0.9v0.9h-0.9zM128.7,480.6h0.9v0.9h-0.9zM123.1,446.8h0.9v0.9h-0.9zM135.2,473.3h0.9v0.9h-0.9zM94.6,434.7h0.9v0.9h-0.9zM99.7,470.9h0.9v0.9h-0.9zM120.1,456.6h0.9v0.9h-0.9zM120.3,451.3h0.9v0.9h-0.9zM130.6,473.6h0.9v0.9h-0.9zM115.5,448.8h0.9v0.9h-0.9zM111.2,466.4h0.9v0.9h-0.9zM103.4,437.1h0.9v0.9h-0.9zM118.7,442.5h0.9v0.9h-0.9zM119.1,465.7h0.9v0.9h-0.9zM123.5,443.0h0.9v0.9h-0.9zM116.5,476.7h0.9v0.9h-0.9zM116.8,460.0h0.9v0.9h-0.9zM142.5,452.0h0.9v0.9h-0.9z" fill="#a8bcd8" opacity="0.3"/>
<path d="M140.4,475.1h0.9v0.9h-0.9zM114.9,454.8h0.9v0.9h-0.9zM137.0,448.4h0.9v0.9h-0.9zM109.3,437.9h0.9v0.9h-0.9zM133.3,445.4h0.9v0.9h-0.9zM116.7,480.1h0.9v0.9h-0.9zM122.1,451.0h0.9v0.9h-0.9zM120.7,443.8h0.9v0.9h-0.9zM101.2,466.0h0.9v0.9h-0.9zM117.5,476.0h0.9v0.9h-0.9zM122.2,444.7h0.9v0.9h-0.9zM107.8,467.5h0.9v0.9h-0.9zM138.6,481.5h0.9v0.9h-0.9zM115.8,453.4h0.9v0.9h-0.9zM116.3,438.8h0.9v0.9h-0.9zM127.0,454.1h0.9v0.9h-0.9zM113.7,467.8h0.9v0.9h-0.9zM97.9,438.5h0.9v0.9h-0.9zM117.1,476.1h0.9v0.9h-0.9zM136.5,453.2h0.9v0.9h-0.9zM117.8,434.6h0.9v0.9h-0.9zM103.3,441.5h0.9v0.9h-0.9zM108.4,478.3h0.9v0.9h-0.9zM97.5,460.9h0.9v0.9h-0.9zM102.3,468.5h0.9v0.9h-0.9zM121.1,470.5h0.9v0.9h-0.9zM126.5,442.3h0.9v0.9h-0.9z" fill="#a8bcd8" opacity="0.3"/>
<path d="M94.2,440.4h0.9v0.9h-0.9zM100.3,460.9h0.9v0.9h-0.9zM122.0,447.6h0.9v0.9h-0.9zM117.4,459.6h0.9v0.9h-0.9zM124.8,435.6h0.9v0.9h-0.9zM112.6,461.3h0.9v0.9h-0.9zM107.3,443.2h0.9v0.9h-0.9zM94.7,470.0h0.9v0.9h-0.9zM123.8,482.6h0.9v0.9h-0.9zM95.1,474.9h0.9v0.9h-0.9zM128.2,442.5h0.9v0.9h-0.9zM112.9,477.8h0.9v0.9h-0.9zM140.7,450.6h0.9v0.9h-0.9zM132.9,466.1h0.9v0.9h-0.9zM135.3,438.3h0.9v0.9h-0.9zM122.9,461.1h0.9v0.9h-0.9zM98.6,467.9h0.9v0.9h-0.9zM120.1,477.1h0.9v0.9h-0.9zM102.4,450.4h0.9v0.9h-0.9zM114.1,445.0h0.9v0.9h-0.9zM141.3,448.1h0.9v0.9h-0.9zM135.7,459.3h0.9v0.9h-0.9zM115.3,445.4h0.9v0.9h-0.9zM108.5,470.5h0.9v0.9h-0.9zM133.7,437.1h0.9v0.9h-0.9zM131.4,447.6h0.9v0.9h-0.9zM135.1,441.9h0.9v0.9h-0.9z" fill="#a8bcd8" opacity="0.3"/>
</g></g>
<rect x="113.60" y="443.20" width="16.60" height="26.80" fill="none" stroke="#981438" stroke-width="1.5"/>
<text x="84.20" y="440.40" font-size="7.6" text-anchor="end" fill="#111" stroke="#111" stroke-width="0.12">7.3</text>
<text x="140.40" y="440.40" font-size="7.6" text-anchor="end" fill="#111" stroke="#111" stroke-width="0.12">13.8</text>
<path d="M31.4,435 L31.4,488.6 L140,488.6" fill="none" stroke="#000" stroke-width="1.5"/>
<path d="M31.4,433.8 L28.7,440 L34.1,440Z" fill="#000" stroke="none" stroke-width="1"/>
<path d="M143.9,488.6 L137.7,485.9 L137.7,491.3Z" fill="#000" stroke="none" stroke-width="1"/>
<text x="26.70" y="458.60" font-size="9.2" text-anchor="middle" textLength="20.50" lengthAdjust="spacingAndGlyphs" transform="rotate(-90 26.70 458.60)" fill="#111" stroke="#111" stroke-width="0.12">CD25</text>
<text x="103.80" y="498.80" font-size="9" text-anchor="start" textLength="23.00" lengthAdjust="spacingAndGlyphs" fill="#111" stroke="#111" stroke-width="0.12">Foxp3</text>
<line x1="199.90" y1="416.00" x2="199.90" y2="498.00" stroke="#000" stroke-width="1.4"/>
<line x1="199.30" y1="497.40" x2="236.70" y2="497.40" stroke="#000" stroke-width="1.4"/>
<line x1="197.30" y1="497.60" x2="199.90" y2="497.60" stroke="#000" stroke-width="1.1"/>
<text x="194.20" y="500.50" font-size="8" text-anchor="end" fill="#111" stroke="#111" stroke-width="0.12">0</text>
<line x1="197.30" y1="471.05" x2="199.90" y2="471.05" stroke="#000" stroke-width="1.1"/>
<text x="194.20" y="473.95" font-size="8" text-anchor="end" fill="#111" stroke="#111" stroke-width="0.12">5</text>
<line x1="197.30" y1="444.50" x2="199.90" y2="444.50" stroke="#000" stroke-width="1.1"/>
<text x="194.20" y="447.40" font-size="8" text-anchor="end" fill="#111" stroke="#111" stroke-width="0.12">10</text>
<line x1="197.30" y1="417.95" x2="199.90" y2="417.95" stroke="#000" stroke-width="1.1"/>
<text x="194.20" y="420.85" font-size="8" text-anchor="end" fill="#111" stroke="#111" stroke-width="0.12">15</text>
<rect x="202.50" y="456.00" width="13.70" height="41.40" fill="#2f4f8c" stroke="none" stroke-width="1"/>
<rect x="221.20" y="427.50" width="13.80" height="69.90" fill="#b00a3a" stroke="none" stroke-width="1"/>
<line x1="209.30" y1="454.30" x2="209.30" y2="456.00" stroke="#222" stroke-width="1"/>
<line x1="206.80" y1="454.30" x2="211.80" y2="454.30" stroke="#222" stroke-width="1"/>
<line x1="228.10" y1="426.60" x2="228.10" y2="427.50" stroke="#222" stroke-width="1"/>
<line x1="225.60" y1="426.60" x2="230.60" y2="426.60" stroke="#222" stroke-width="1"/>
<line x1="209.30" y1="497.40" x2="209.30" y2="500.30" stroke="#000" stroke-width="1.1"/>
<line x1="228.00" y1="497.40" x2="228.00" y2="500.30" stroke="#000" stroke-width="1.1"/>
<path d="M208.9,446.5 L208.9,411 L227.7,411 L227.7,418" fill="none" stroke="#000" stroke-width="1.1"/>
<circle cx="213.90" cy="406.00" r="1.2" fill="#111"/>
<circle cx="216.90" cy="406.00" r="1.2" fill="#111"/>
<circle cx="219.90" cy="406.00" r="1.2" fill="#111"/>
<circle cx="222.90" cy="406.00" r="1.2" fill="#111"/>
<text x="179.40" y="457.00" font-size="8.6" text-anchor="middle" textLength="25.00" lengthAdjust="spacingAndGlyphs" transform="rotate(-90 179.40 457.00)" fill="#111" stroke="#111" stroke-width="0.12">%Treg</text>
<text x="212.20" y="509.60" font-size="8.2" text-anchor="end" textLength="25.50" lengthAdjust="spacingAndGlyphs" transform="rotate(-45 212.20 509.60)" fill="#111" stroke="#111" stroke-width="0.12">Vehicle</text>
<text x="231.00" y="509.20" font-size="7.8" text-anchor="end" textLength="12.80" lengthAdjust="spacingAndGlyphs" transform="rotate(-45 231.00 509.20)" fill="#111" stroke="#111" stroke-width="0.12">IL-2</text>
<line x1="297.80" y1="416.50" x2="297.80" y2="498.30" stroke="#000" stroke-width="1.4"/>
<line x1="297.20" y1="497.60" x2="333.80" y2="497.60" stroke="#000" stroke-width="1.5"/>
<line x1="295.20" y1="497.40" x2="297.80" y2="497.40" stroke="#000" stroke-width="1.1"/>
<text x="292.30" y="500.30" font-size="8" text-anchor="end" fill="#111" stroke="#111" stroke-width="0.12">0</text>
<line x1="295.20" y1="477.55" x2="297.80" y2="477.55" stroke="#000" stroke-width="1.1"/>
<text x="292.30" y="480.45" font-size="8" text-anchor="end" fill="#111" stroke="#111" stroke-width="0.12">5</text>
<line x1="295.20" y1="457.70" x2="297.80" y2="457.70" stroke="#000" stroke-width="1.1"/>
<text x="292.30" y="460.60" font-size="8" text-anchor="end" fill="#111" stroke="#111" stroke-width="0.12">10</text>
<line x1="295.20" y1="437.85" x2="297.80" y2="437.85" stroke="#000" stroke-width="1.1"/>
<text x="292.30" y="440.75" font-size="8" text-anchor="end" fill="#111" stroke="#111" stroke-width="0.12">15</text>
<line x1="295.20" y1="418.00" x2="297.80" y2="418.00" stroke="#000" stroke-width="1.1"/>
<text x="292.30" y="420.90" font-size="8" text-anchor="end" fill="#111" stroke="#111" stroke-width="0.12">20</text>
<rect x="300.00" y="468.00" width="14.30" height="29.60" fill="#2f4f8c" stroke="none" stroke-width="1"/>
<line x1="307.15" y1="467.00" x2="307.15" y2="468.00" stroke="#222" stroke-width="1"/>
<line x1="304.65" y1="467.00" x2="309.65" y2="467.00" stroke="#222" stroke-width="1"/>
<line x1="307.15" y1="497.60" x2="307.15" y2="500.40" stroke="#000" stroke-width="1.1"/>
<text x="310.55" y="509.60" font-size="8.2" text-anchor="end" textLength="25.50" lengthAdjust="spacingAndGlyphs" transform="rotate(-45 310.55 509.60)" fill="#111" stroke="#111" stroke-width="0.12">Vehicle</text>
<rect x="318.00" y="465.00" width="14.50" height="32.60" fill="#b00a3a" stroke="none" stroke-width="1"/>
<line x1="325.25" y1="464.00" x2="325.25" y2="465.00" stroke="#222" stroke-width="1"/>
<line x1="322.75" y1="464.00" x2="327.75" y2="464.00" stroke="#222" stroke-width="1"/>
<line x1="325.25" y1="497.60" x2="325.25" y2="500.40" stroke="#000" stroke-width="1.1"/>
<text x="328.65" y="509.60" font-size="8.2" text-anchor="end" textLength="13.20" lengthAdjust="spacingAndGlyphs" transform="rotate(-45 328.65 509.60)" fill="#111" stroke="#111" stroke-width="0.12">IL-2</text>
<text x="303.00" y="409.40" font-size="9.4" text-anchor="start" textLength="24.50" lengthAdjust="spacingAndGlyphs" fill="#111" stroke="#111" stroke-width="0.12">CD8T</text>
<line x1="358.80" y1="416.50" x2="358.80" y2="498.30" stroke="#000" stroke-width="1.4"/>
<line x1="358.20" y1="497.60" x2="394.50" y2="497.60" stroke="#000" stroke-width="1.5"/>
<line x1="356.20" y1="497.40" x2="358.80" y2="497.40" stroke="#000" stroke-width="1.1"/>
<text x="353.30" y="500.30" font-size="8" text-anchor="end" fill="#111" stroke="#111" stroke-width="0.12">0</text>
<line x1="356.20" y1="481.52" x2="358.80" y2="481.52" stroke="#000" stroke-width="1.1"/>
<text x="353.30" y="484.42" font-size="8" text-anchor="end" fill="#111" stroke="#111" stroke-width="0.12">5</text>
<line x1="356.20" y1="465.64" x2="358.80" y2="465.64" stroke="#000" stroke-width="1.1"/>
<text x="353.30" y="468.54" font-size="8" text-anchor="end" fill="#111" stroke="#111" stroke-width="0.12">10</text>
<line x1="356.20" y1="449.76" x2="358.80" y2="449.76" stroke="#000" stroke-width="1.1"/>
<text x="353.30" y="452.66" font-size="8" text-anchor="end" fill="#111" stroke="#111" stroke-width="0.12">15</text>
<line x1="356.20" y1="433.88" x2="358.80" y2="433.88" stroke="#000" stroke-width="1.1"/>
<text x="353.30" y="436.78" font-size="8" text-anchor="end" fill="#111" stroke="#111" stroke-width="0.12">20</text>
<line x1="356.20" y1="418.00" x2="358.80" y2="418.00" stroke="#000" stroke-width="1.1"/>
<text x="353.30" y="420.90" font-size="8" text-anchor="end" fill="#111" stroke="#111" stroke-width="0.12">25</text>
<rect x="361.30" y="466.80" width="13.70" height="30.80" fill="#2f4f8c" stroke="none" stroke-width="1"/>
<line x1="368.15" y1="465.80" x2="368.15" y2="466.80" stroke="#222" stroke-width="1"/>
<line x1="365.65" y1="465.80" x2="370.65" y2="465.80" stroke="#222" stroke-width="1"/>
<line x1="368.15" y1="497.60" x2="368.15" y2="500.40" stroke="#000" stroke-width="1.1"/>
<text x="371.55" y="509.60" font-size="8.2" text-anchor="end" textLength="25.50" lengthAdjust="spacingAndGlyphs" transform="rotate(-45 371.55 509.60)" fill="#111" stroke="#111" stroke-width="0.12">Vehicle</text>
<rect x="379.50" y="461.30" width="14.30" height="36.30" fill="#b00a3a" stroke="none" stroke-width="1"/>
<line x1="386.65" y1="460.30" x2="386.65" y2="461.30" stroke="#222" stroke-width="1"/>
<line x1="384.15" y1="460.30" x2="389.15" y2="460.30" stroke="#222" stroke-width="1"/>
<line x1="386.65" y1="497.60" x2="386.65" y2="500.40" stroke="#000" stroke-width="1.1"/>
<text x="390.05" y="509.60" font-size="8.2" text-anchor="end" textLength="13.20" lengthAdjust="spacingAndGlyphs" transform="rotate(-45 390.05 509.60)" fill="#111" stroke="#111" stroke-width="0.12">IL-2</text>
<text x="366.00" y="409.40" font-size="9.4" text-anchor="start" textLength="24.50" lengthAdjust="spacingAndGlyphs" fill="#111" stroke="#111" stroke-width="0.12">Tcons</text>
<line x1="422.20" y1="416.50" x2="422.20" y2="498.30" stroke="#000" stroke-width="1.4"/>
<line x1="421.60" y1="497.60" x2="458.80" y2="497.60" stroke="#000" stroke-width="1.5"/>
<line x1="419.60" y1="497.40" x2="422.20" y2="497.40" stroke="#000" stroke-width="1.1"/>
<text x="416.70" y="500.30" font-size="8" text-anchor="end" fill="#111" stroke="#111" stroke-width="0.12">0.0</text>
<line x1="419.60" y1="481.52" x2="422.20" y2="481.52" stroke="#000" stroke-width="1.1"/>
<text x="416.70" y="484.42" font-size="8" text-anchor="end" fill="#111" stroke="#111" stroke-width="0.12">0.5</text>
<line x1="419.60" y1="465.64" x2="422.20" y2="465.64" stroke="#000" stroke-width="1.1"/>
<text x="416.70" y="468.54" font-size="8" text-anchor="end" fill="#111" stroke="#111" stroke-width="0.12">1.0</text>
<line x1="419.60" y1="449.76" x2="422.20" y2="449.76" stroke="#000" stroke-width="1.1"/>
<text x="416.70" y="452.66" font-size="8" text-anchor="end" fill="#111" stroke="#111" stroke-width="0.12">1.5</text>
<line x1="419.60" y1="433.88" x2="422.20" y2="433.88" stroke="#000" stroke-width="1.1"/>
<text x="416.70" y="436.78" font-size="8" text-anchor="end" fill="#111" stroke="#111" stroke-width="0.12">2.0</text>
<line x1="419.60" y1="418.00" x2="422.20" y2="418.00" stroke="#000" stroke-width="1.1"/>
<text x="416.70" y="420.90" font-size="8" text-anchor="end" fill="#111" stroke="#111" stroke-width="0.12">2.5</text>
<rect x="425.30" y="470.00" width="13.50" height="27.60" fill="#2f4f8c" stroke="none" stroke-width="1"/>
<line x1="432.05" y1="468.50" x2="432.05" y2="470.00" stroke="#222" stroke-width="1"/>
<line x1="429.55" y1="468.50" x2="434.55" y2="468.50" stroke="#222" stroke-width="1"/>
<line x1="432.05" y1="497.60" x2="432.05" y2="500.40" stroke="#000" stroke-width="1.1"/>
<text x="435.45" y="509.60" font-size="8.2" text-anchor="end" textLength="25.50" lengthAdjust="spacingAndGlyphs" transform="rotate(-45 435.45 509.60)" fill="#111" stroke="#111" stroke-width="0.12">Vehicle</text>
<rect x="443.90" y="438.00" width="13.80" height="59.60" fill="#b00a3a" stroke="none" stroke-width="1"/>
<line x1="450.80" y1="434.50" x2="450.80" y2="438.00" stroke="#222" stroke-width="1"/>
<line x1="448.30" y1="434.50" x2="453.30" y2="434.50" stroke="#222" stroke-width="1"/>
<line x1="450.80" y1="497.60" x2="450.80" y2="500.40" stroke="#000" stroke-width="1.1"/>
<text x="454.20" y="509.60" font-size="8.2" text-anchor="end" textLength="13.20" lengthAdjust="spacingAndGlyphs" transform="rotate(-45 454.20 509.60)" fill="#111" stroke="#111" stroke-width="0.12">IL-2</text>
<text x="431.20" y="409.40" font-size="9.4" text-anchor="start" textLength="21.00" lengthAdjust="spacingAndGlyphs" fill="#111" stroke="#111" stroke-width="0.12">Tregs</text>
<path d="M432.5,465 L432.5,423.8 L450.8,423.8 L450.8,430" fill="none" stroke="#000" stroke-width="1.1"/>
<circle cx="439.00" cy="418.80" r="1.2" fill="#111"/>
<circle cx="442.00" cy="418.80" r="1.2" fill="#111"/>
<circle cx="445.00" cy="418.80" r="1.2" fill="#111"/>
<text x="278.2" y="456.9" font-size="8.7" text-anchor="middle" transform="rotate(-90 278.2 456.9)" fill="#111" textLength="87" lengthAdjust="spacingAndGlyphs">Number of cells (×10<tspan font-size="6.6" dy="-3.2">6</tspan><tspan dy="3.2">)</tspan></text>
<text x="18.90" y="561.50" font-size="7.6" text-anchor="start" textLength="20.00" lengthAdjust="spacingAndGlyphs" fill="#111" stroke="#111" stroke-width="0.12">Tcons</text>
<text x="18.90" y="570.80" font-size="7.6" text-anchor="start" textLength="29.60" lengthAdjust="spacingAndGlyphs" fill="#111" stroke="#111" stroke-width="0.12">aCD3/28</text>
<text x="18.90" y="579.60" font-size="7.6" text-anchor="start" textLength="20.00" lengthAdjust="spacingAndGlyphs" fill="#111" stroke="#111" stroke-width="0.12">Tregs</text>
<text x="80.00" y="562.20" font-size="7.6" text-anchor="middle" fill="#111" stroke="#111" stroke-width="0.12">+</text>
<text x="80.00" y="571.50" font-size="7.6" text-anchor="middle" fill="#111" stroke="#111" stroke-width="0.12">+</text>
<text x="80.00" y="580.10" font-size="7.6" text-anchor="middle" fill="#111" stroke="#111" stroke-width="0.12">–</text>
<text x="137.50" y="562.20" font-size="7.6" text-anchor="middle" fill="#111" stroke="#111" stroke-width="0.12">+</text>
<text x="137.50" y="571.50" font-size="7.6" text-anchor="middle" fill="#111" stroke="#111" stroke-width="0.12">+</text>
<text x="137.50" y="579.50" font-size="7.6" text-anchor="middle" fill="#111" stroke="#111" stroke-width="0.12">Vehicle</text>
<text x="196.00" y="562.20" font-size="7.6" text-anchor="middle" fill="#111" stroke="#111" stroke-width="0.12">+</text>
<text x="196.00" y="571.50" font-size="7.6" text-anchor="middle" fill="#111" stroke="#111" stroke-width="0.12">+</text>
<text x="196.00" y="579.50" font-size="7.6" text-anchor="middle" fill="#111" stroke="#111" stroke-width="0.12">IL-2</text>
<text x="253.00" y="562.20" font-size="7.6" text-anchor="middle" fill="#111" stroke="#111" stroke-width="0.12">+</text>
<text x="253.00" y="571.50" font-size="7.6" text-anchor="middle" fill="#111" stroke="#111" stroke-width="0.12">–</text>
<text x="253.00" y="580.10" font-size="7.6" text-anchor="middle" fill="#111" stroke="#111" stroke-width="0.12">–</text>
<rect x="53.50" y="586.30" width="52.00" height="45.00" fill="#fff" stroke="#333" stroke-width="1.2"/>
<path d="M75.80,631.00 L77.50,630.04 L79.20,627.83 L80.60,619.96 L81.70,622.17 L84.00,609.30 L85.50,615.74 L87.30,598.65 L89.00,609.30 L91.00,591.16 L92.50,607.19 L94.00,625.72 L95.50,631.00Z" fill="#fdf0f4" stroke="#e07896" stroke-width="1.0" stroke-linejoin="round"/>
<path d="M76.30,631.00 L78.00,630.00 L79.70,627.70 L81.10,619.50 L82.20,621.80 L84.50,608.40 L86.00,615.10 L87.80,597.30 L89.50,608.40 L91.50,589.50 L93.00,606.20 L94.50,625.50 L96.00,631.00" fill="none" stroke="#8a2040" stroke-width="1.1" stroke-linejoin="round"/>
<line x1="57.00" y1="595.60" x2="90.80" y2="595.60" stroke="#222" stroke-width="1.1"/>
<line x1="57.00" y1="593.00" x2="57.00" y2="598.20" stroke="#222" stroke-width="1.1"/>
<line x1="90.80" y1="593.00" x2="90.80" y2="598.20" stroke="#222" stroke-width="1.1"/>
<text x="73.80" y="593.80" font-size="7.8" text-anchor="middle" fill="#111" stroke="#111" stroke-width="0.12">59.1</text>
<rect x="111.40" y="586.30" width="52.00" height="45.00" fill="#fff" stroke="#333" stroke-width="1.2"/>
<path d="M136.60,631.00 L138.40,628.12 L140.60,622.17 L141.70,624.28 L142.90,621.69 L145.00,614.97 L146.50,622.65 L147.70,611.80 L149.10,591.74 L150.40,609.88 L151.60,626.49 L153.40,629.56 L156.20,631.00Z" fill="#fdf0f4" stroke="#e07896" stroke-width="1.0" stroke-linejoin="round"/>
<path d="M137.10,631.00 L138.90,628.00 L141.10,621.80 L142.20,624.00 L143.40,621.30 L145.50,614.30 L147.00,622.30 L148.20,611.00 L149.60,590.10 L150.90,609.00 L152.10,626.30 L153.90,629.50 L156.70,631.00" fill="none" stroke="#8a2040" stroke-width="1.1" stroke-linejoin="round"/>
<line x1="114.60" y1="595.60" x2="146.70" y2="595.60" stroke="#222" stroke-width="1.1"/>
<line x1="114.60" y1="593.00" x2="114.60" y2="598.20" stroke="#222" stroke-width="1.1"/>
<line x1="146.70" y1="593.00" x2="146.70" y2="598.20" stroke="#222" stroke-width="1.1"/>
<text x="130.70" y="593.80" font-size="7.8" text-anchor="middle" fill="#111" stroke="#111" stroke-width="0.12">40.4</text>
<rect x="170.10" y="586.30" width="52.00" height="45.00" fill="#fff" stroke="#333" stroke-width="1.2"/>
<path d="M193.60,631.00 L196.20,627.16 L197.70,626.58 L199.90,622.74 L201.00,624.66 L202.90,617.56 L204.30,622.36 L205.50,612.76 L206.90,592.60 L208.10,601.24 L209.00,620.44 L210.70,628.12 L213.30,631.00Z" fill="#fdf0f4" stroke="#e07896" stroke-width="1.0" stroke-linejoin="round"/>
<path d="M194.10,631.00 L196.70,627.00 L198.20,626.40 L200.40,622.40 L201.50,624.40 L203.40,617.00 L204.80,622.00 L206.00,612.00 L207.40,591.00 L208.60,600.00 L209.50,620.00 L211.20,628.00 L213.80,631.00" fill="none" stroke="#8a2040" stroke-width="1.1" stroke-linejoin="round"/>
<line x1="172.90" y1="595.60" x2="206.20" y2="595.60" stroke="#222" stroke-width="1.1"/>
<line x1="172.90" y1="593.00" x2="172.90" y2="598.20" stroke="#222" stroke-width="1.1"/>
<line x1="206.20" y1="593.00" x2="206.20" y2="598.20" stroke="#222" stroke-width="1.1"/>
<text x="189.30" y="593.80" font-size="7.8" text-anchor="middle" fill="#111" stroke="#111" stroke-width="0.12">36.4</text>
<rect x="227.60" y="586.30" width="52.00" height="45.00" fill="#fff" stroke="#333" stroke-width="1.2"/>
<path d="M260.00,631.00 L261.50,620.44 L263.10,591.06 L265.00,615.64 L266.70,628.12 L269.30,631.00Z" fill="#fdf0f4" stroke="#e07896" stroke-width="1.0" stroke-linejoin="round"/>
<path d="M260.50,631.00 L262.00,620.00 L263.60,589.40 L265.50,615.00 L267.20,628.00 L269.80,631.00" fill="none" stroke="#8a2040" stroke-width="1.1" stroke-linejoin="round"/>
<line x1="229.90" y1="595.60" x2="263.60" y2="595.60" stroke="#222" stroke-width="1.1"/>
<line x1="229.90" y1="593.00" x2="229.90" y2="598.20" stroke="#222" stroke-width="1.1"/>
<line x1="263.60" y1="593.00" x2="263.60" y2="598.20" stroke="#222" stroke-width="1.1"/>
<text x="246.10" y="593.80" font-size="7.8" text-anchor="middle" fill="#111" stroke="#111" stroke-width="0.12">1.6</text>
<path d="M49.2,588 L49.2,636.7 L276,636.7" fill="none" stroke="#000" stroke-width="1.2"/>
<path d="M49.2,586.2 L46.6,592.2 L51.8,592.2Z" fill="#000" stroke="none" stroke-width="1"/>
<path d="M280,636.7 L274,634.1 L274,639.3Z" fill="#000" stroke="none" stroke-width="1"/>
<text x="44.60" y="608.80" font-size="8.4" text-anchor="middle" textLength="25.00" lengthAdjust="spacingAndGlyphs" transform="rotate(-90 44.60 608.80)" fill="#111" stroke="#111" stroke-width="0.12">Events</text>
<text x="209.00" y="650.70" font-size="9.6" text-anchor="start" textLength="32.80" lengthAdjust="spacingAndGlyphs" fill="#111" stroke="#111" stroke-width="0.12">CellTrace</text>
<text x="242.20" y="646.60" font-size="5.6" text-anchor="start" textLength="7.00" lengthAdjust="spacingAndGlyphs" fill="#111" stroke="#111" stroke-width="0.12">TM</text>
<text x="251.90" y="650.70" font-size="9.6" text-anchor="start" textLength="20.50" lengthAdjust="spacingAndGlyphs" fill="#111" stroke="#111" stroke-width="0.12">violet</text>
<line x1="330.00" y1="557.00" x2="330.00" y2="638.20" stroke="#000" stroke-width="1.4"/>
<line x1="329.40" y1="637.50" x2="462.50" y2="637.50" stroke="#000" stroke-width="1.4"/>
<line x1="327.40" y1="637.50" x2="330.00" y2="637.50" stroke="#000" stroke-width="1.1"/>
<text x="324.60" y="640.50" font-size="8.2" text-anchor="end" fill="#111" stroke="#111" stroke-width="0.12">30</text>
<line x1="327.40" y1="617.60" x2="330.00" y2="617.60" stroke="#000" stroke-width="1.1"/>
<text x="324.60" y="620.60" font-size="8.2" text-anchor="end" fill="#111" stroke="#111" stroke-width="0.12">40</text>
<line x1="327.40" y1="597.70" x2="330.00" y2="597.70" stroke="#000" stroke-width="1.1"/>
<text x="324.60" y="600.70" font-size="8.2" text-anchor="end" fill="#111" stroke="#111" stroke-width="0.12">50</text>
<line x1="327.40" y1="577.80" x2="330.00" y2="577.80" stroke="#000" stroke-width="1.1"/>
<text x="324.60" y="580.80" font-size="8.2" text-anchor="end" fill="#111" stroke="#111" stroke-width="0.12">60</text>
<line x1="327.40" y1="557.90" x2="330.00" y2="557.90" stroke="#000" stroke-width="1.1"/>
<text x="324.60" y="560.90" font-size="8.2" text-anchor="end" fill="#111" stroke="#111" stroke-width="0.12">70</text>
<line x1="341.30" y1="637.50" x2="341.30" y2="640.30" stroke="#000" stroke-width="1.1"/>
<text x="341.30" y="651.60" font-size="7.8" text-anchor="middle" fill="#111" stroke="#111" stroke-width="0.12">1:0</text>
<line x1="363.45" y1="637.50" x2="363.45" y2="640.30" stroke="#000" stroke-width="1.1"/>
<text x="363.45" y="651.60" font-size="7.8" text-anchor="middle" fill="#111" stroke="#111" stroke-width="0.12">16:1</text>
<line x1="385.60" y1="637.50" x2="385.60" y2="640.30" stroke="#000" stroke-width="1.1"/>
<text x="385.60" y="651.60" font-size="7.8" text-anchor="middle" fill="#111" stroke="#111" stroke-width="0.12">8:1</text>
<line x1="407.75" y1="637.50" x2="407.75" y2="640.30" stroke="#000" stroke-width="1.1"/>
<text x="407.75" y="651.60" font-size="7.8" text-anchor="middle" fill="#111" stroke="#111" stroke-width="0.12">4:1</text>
<line x1="429.90" y1="637.50" x2="429.90" y2="640.30" stroke="#000" stroke-width="1.1"/>
<text x="429.90" y="651.60" font-size="7.8" text-anchor="middle" fill="#111" stroke="#111" stroke-width="0.12">2:1</text>
<line x1="452.05" y1="637.50" x2="452.05" y2="640.30" stroke="#000" stroke-width="1.1"/>
<text x="452.05" y="651.60" font-size="7.8" text-anchor="middle" fill="#111" stroke="#111" stroke-width="0.12">1:1</text>
<text x="370.90" y="663.90" font-size="9.3" text-anchor="start" textLength="50.80" lengthAdjust="spacingAndGlyphs" fill="#111" stroke="#111" stroke-width="0.12">Tcons : Tregs</text>
<text x="309.80" y="596.20" font-size="8.7" text-anchor="middle" textLength="62.50" lengthAdjust="spacingAndGlyphs" transform="rotate(-90 309.80 596.20)" fill="#111" stroke="#111" stroke-width="0.12">Divided cells(%)</text>
<line x1="341.30" y1="568.40" x2="341.30" y2="583.60" stroke="#7a2a55" stroke-width="1.3"/>
<line x1="338.00" y1="568.40" x2="344.60" y2="568.40" stroke="#7a2a55" stroke-width="1.8"/>
<line x1="338.00" y1="583.60" x2="344.60" y2="583.60" stroke="#7a2a55" stroke-width="1.8"/>
<line x1="363.45" y1="580.80" x2="363.45" y2="594.80" stroke="#7a2a55" stroke-width="1.3"/>
<line x1="360.15" y1="580.80" x2="366.75" y2="580.80" stroke="#7a2a55" stroke-width="1.8"/>
<line x1="360.15" y1="594.80" x2="366.75" y2="594.80" stroke="#7a2a55" stroke-width="1.8"/>
<line x1="385.60" y1="585.00" x2="385.60" y2="604.00" stroke="#7a2a55" stroke-width="1.3"/>
<line x1="382.30" y1="585.00" x2="388.90" y2="585.00" stroke="#7a2a55" stroke-width="1.8"/>
<line x1="382.30" y1="604.00" x2="388.90" y2="604.00" stroke="#7a2a55" stroke-width="1.8"/>
<line x1="407.75" y1="598.10" x2="407.75" y2="611.50" stroke="#7a2a55" stroke-width="1.3"/>
<line x1="404.45" y1="598.10" x2="411.05" y2="598.10" stroke="#7a2a55" stroke-width="1.8"/>
<line x1="404.45" y1="611.50" x2="411.05" y2="611.50" stroke="#7a2a55" stroke-width="1.8"/>
<line x1="429.90" y1="609.50" x2="429.90" y2="619.50" stroke="#7a2a55" stroke-width="1.3"/>
<line x1="426.60" y1="609.50" x2="433.20" y2="609.50" stroke="#7a2a55" stroke-width="1.8"/>
<line x1="426.60" y1="619.50" x2="433.20" y2="619.50" stroke="#7a2a55" stroke-width="1.8"/>
<line x1="452.05" y1="616.70" x2="452.05" y2="623.70" stroke="#7a2a55" stroke-width="1.3"/>
<line x1="448.75" y1="616.70" x2="455.35" y2="616.70" stroke="#7a2a55" stroke-width="1.8"/>
<line x1="448.75" y1="623.70" x2="455.35" y2="623.70" stroke="#7a2a55" stroke-width="1.8"/>
<line x1="341.30" y1="566.20" x2="341.30" y2="579.40" stroke="#4a3a68" stroke-width="1.3"/>
<line x1="338.00" y1="566.20" x2="344.60" y2="566.20" stroke="#4a3a68" stroke-width="1.8"/>
<line x1="338.00" y1="579.40" x2="344.60" y2="579.40" stroke="#4a3a68" stroke-width="1.8"/>
<line x1="363.45" y1="586.90" x2="363.45" y2="593.70" stroke="#4a3a68" stroke-width="1.3"/>
<line x1="360.15" y1="586.90" x2="366.75" y2="586.90" stroke="#4a3a68" stroke-width="1.8"/>
<line x1="360.15" y1="593.70" x2="366.75" y2="593.70" stroke="#4a3a68" stroke-width="1.8"/>
<line x1="385.60" y1="592.50" x2="385.60" y2="598.90" stroke="#4a3a68" stroke-width="1.3"/>
<line x1="382.30" y1="592.50" x2="388.90" y2="592.50" stroke="#4a3a68" stroke-width="1.8"/>
<line x1="382.30" y1="598.90" x2="388.90" y2="598.90" stroke="#4a3a68" stroke-width="1.8"/>
<line x1="407.75" y1="593.40" x2="407.75" y2="605.40" stroke="#4a3a68" stroke-width="1.3"/>
<line x1="404.45" y1="593.40" x2="411.05" y2="593.40" stroke="#4a3a68" stroke-width="1.8"/>
<line x1="404.45" y1="605.40" x2="411.05" y2="605.40" stroke="#4a3a68" stroke-width="1.8"/>
<line x1="429.90" y1="608.70" x2="429.90" y2="621.10" stroke="#4a3a68" stroke-width="1.3"/>
<line x1="426.60" y1="608.70" x2="433.20" y2="608.70" stroke="#4a3a68" stroke-width="1.8"/>
<line x1="426.60" y1="621.10" x2="433.20" y2="621.10" stroke="#4a3a68" stroke-width="1.8"/>
<line x1="452.05" y1="616.70" x2="452.05" y2="624.70" stroke="#4a3a68" stroke-width="1.3"/>
<line x1="448.75" y1="616.70" x2="455.35" y2="616.70" stroke="#4a3a68" stroke-width="1.8"/>
<line x1="448.75" y1="624.70" x2="455.35" y2="624.70" stroke="#4a3a68" stroke-width="1.8"/>
<path d="M341.30,572.80 L363.45,590.30 L385.60,595.70 L407.75,599.40 L429.90,614.90 L452.05,620.70" fill="none" stroke="#23477a" stroke-width="2.0" stroke-linejoin="round"/>
<path d="M341.30,576.00 L363.45,587.80 L385.60,594.50 L407.75,604.80 L429.90,614.50 L452.05,620.20" fill="none" stroke="#a3174a" stroke-width="2.0" stroke-linejoin="round"/>
<path d="M341.30,572.60 L337.90,578.40 L344.70,578.40Z" fill="#a3174a" stroke="none" stroke-width="1"/>
<path d="M363.45,584.40 L360.05,590.20 L366.85,590.20Z" fill="#a3174a" stroke="none" stroke-width="1"/>
<path d="M385.60,591.10 L382.20,596.90 L389.00,596.90Z" fill="#a3174a" stroke="none" stroke-width="1"/>
<path d="M407.75,601.40 L404.35,607.20 L411.15,607.20Z" fill="#a3174a" stroke="none" stroke-width="1"/>
<path d="M429.90,611.10 L426.50,616.90 L433.30,616.90Z" fill="#a3174a" stroke="none" stroke-width="1"/>
<path d="M452.05,616.80 L448.65,622.60 L455.45,622.60Z" fill="#a3174a" stroke="none" stroke-width="1"/>
<circle cx="341.30" cy="572.80" r="3.3" fill="#23477a"/>
<circle cx="363.45" cy="590.30" r="3.3" fill="#23477a"/>
<circle cx="385.60" cy="595.70" r="3.3" fill="#23477a"/>
<circle cx="407.75" cy="599.40" r="3.3" fill="#23477a"/>
<circle cx="429.90" cy="614.90" r="3.3" fill="#23477a"/>
<circle cx="452.05" cy="620.70" r="3.3" fill="#23477a"/>
<line x1="424.00" y1="561.90" x2="437.90" y2="561.90" stroke="#23477a" stroke-width="1.6"/>
<circle cx="431.00" cy="561.90" r="2.9" fill="#23477a"/>
<line x1="424.00" y1="572.30" x2="437.90" y2="572.30" stroke="#a3174a" stroke-width="1.6"/>
<path d="M431,569 L427.6,574.8 L434.4,574.8Z" fill="#a3174a" stroke="none" stroke-width="1"/>
<text x="440.80" y="564.40" font-size="7.6" text-anchor="start" font-weight="bold" textLength="24.20" lengthAdjust="spacingAndGlyphs" fill="#111" stroke="#111" stroke-width="0.12">Vehicle</text>
<text x="440.80" y="574.90" font-size="7.6" text-anchor="start" font-weight="bold" textLength="12.60" lengthAdjust="spacingAndGlyphs" fill="#111" stroke="#111" stroke-width="0.12">IL-2</text>
<rect x="0.00" y="0.00" width="520.00" height="1.20" fill="#000" stroke="none" stroke-width="1"/>
<rect x="0.00" y="0.00" width="1.20" height="674.00" fill="#000" stroke="none" stroke-width="1"/>
<rect x="518.50" y="0.00" width="1.50" height="674.00" fill="#000" stroke="none" stroke-width="1"/>
<rect x="0.00" y="672.00" width="520.00" height="2.00" fill="#000" stroke="none" stroke-width="1"/></svg></body></html>
